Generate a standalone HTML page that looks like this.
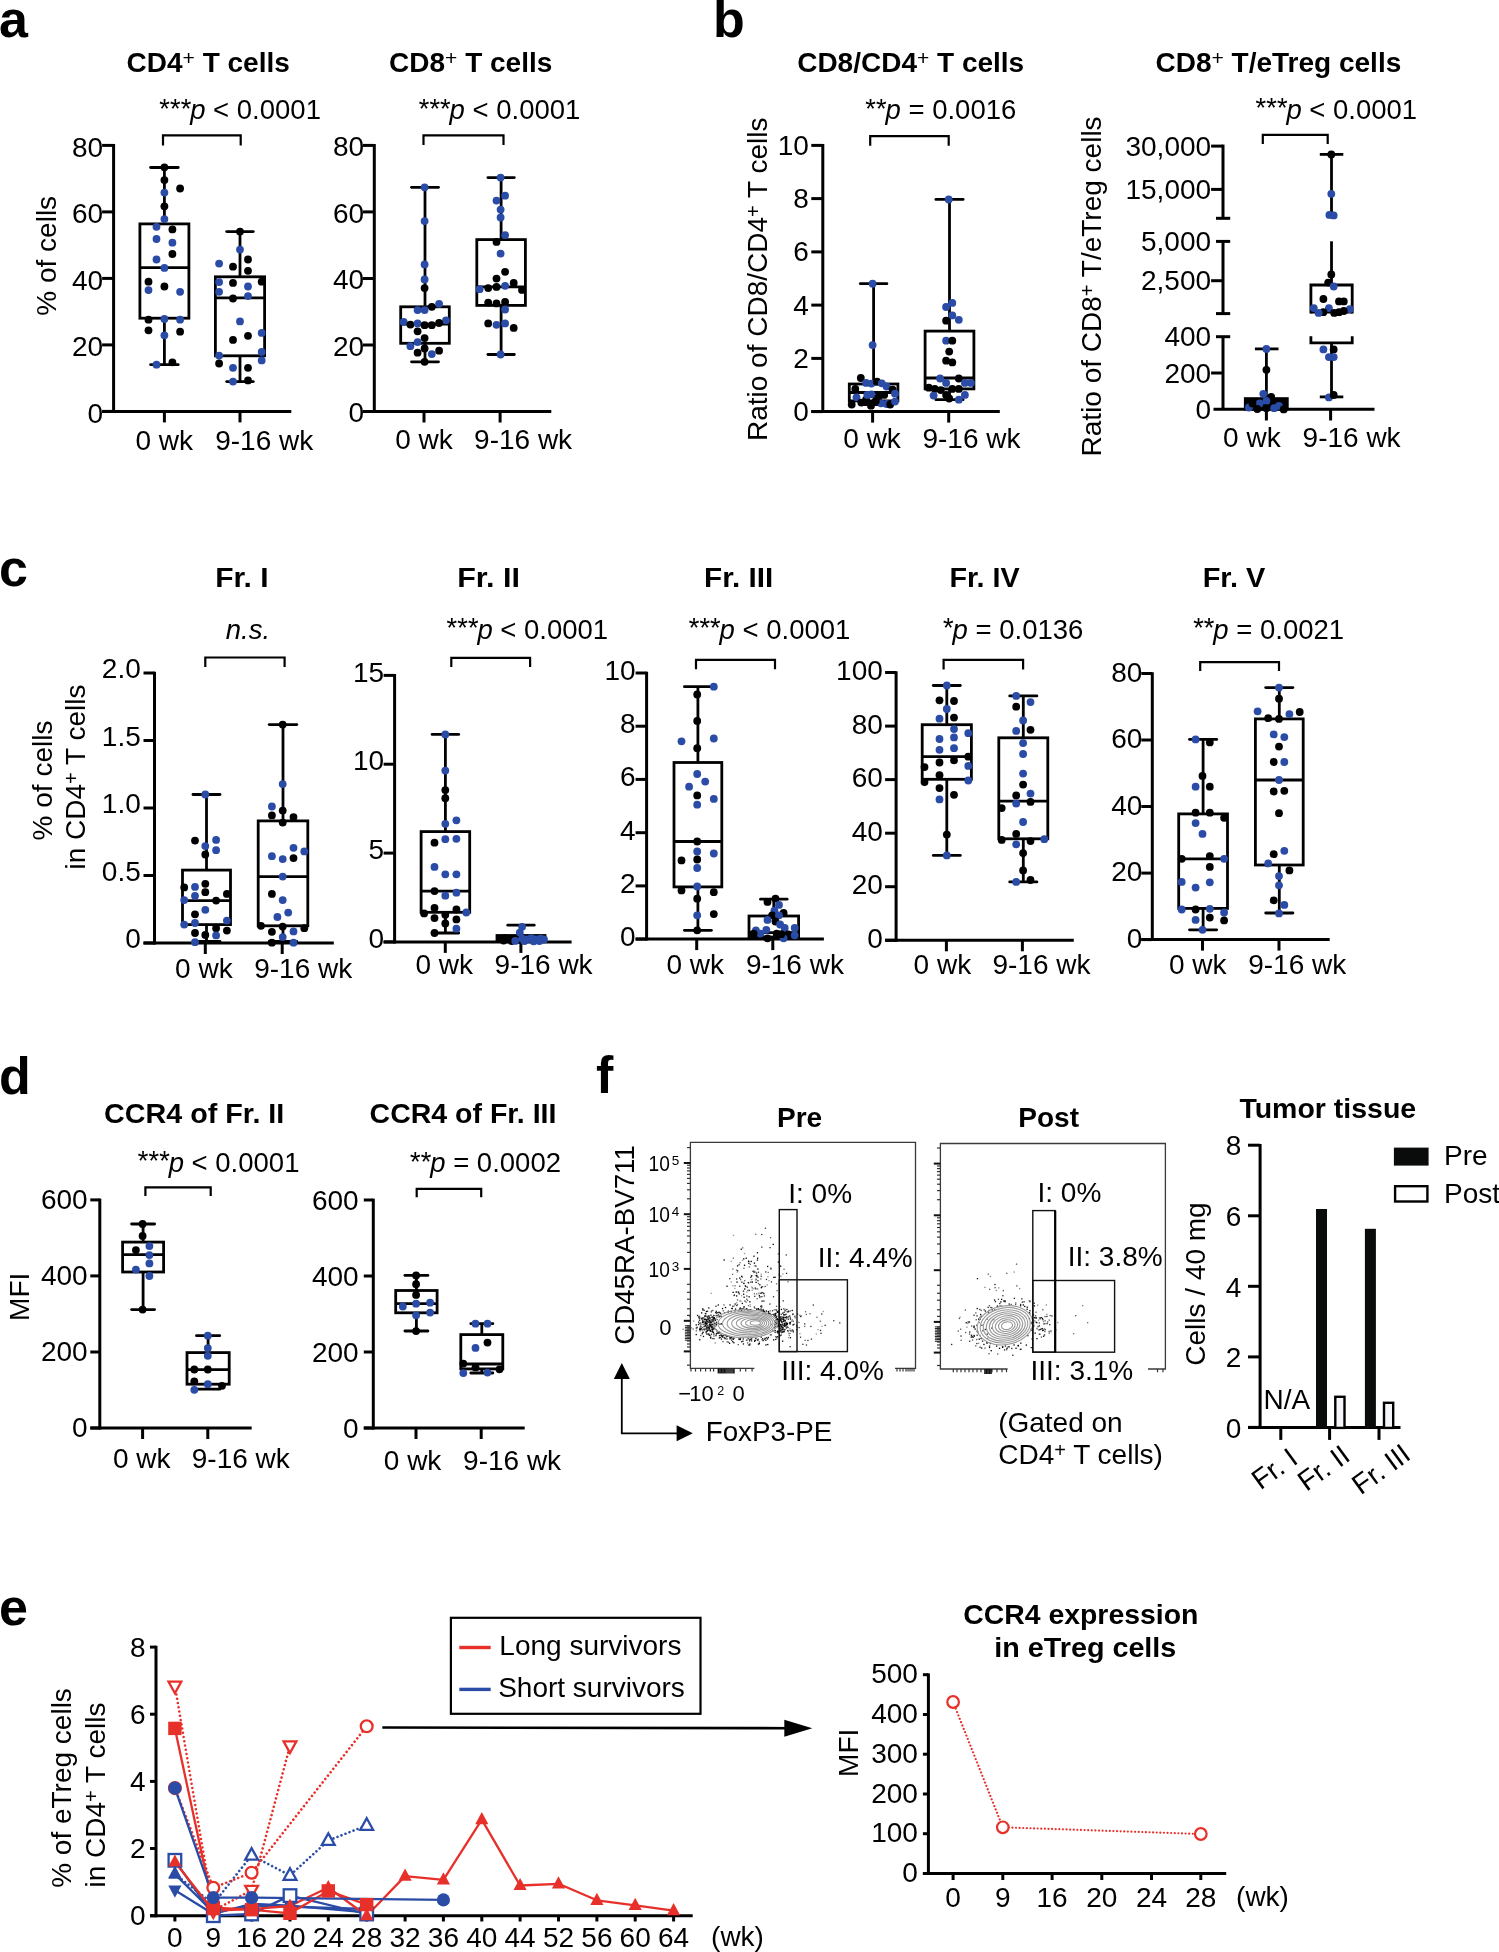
<!DOCTYPE html>
<html><head><meta charset="utf-8"><style>
html,body{margin:0;padding:0;background:#fff;}
svg{display:block;font-family:"Liberation Sans",sans-serif;will-change:transform;}
</style></head><body>
<svg width="1499" height="1952" viewBox="0 0 1499 1952">
<rect width="1499" height="1952" fill="#fff"/>
<text x="-1" y="37.3" font-size="52" text-anchor="start" font-weight="bold" fill="#000" >a</text>
<text x="713" y="37.3" font-size="52" text-anchor="start" font-weight="bold" fill="#000" >b</text>
<text x="-1" y="586" font-size="52" text-anchor="start" font-weight="bold" fill="#000" >c</text>
<text x="-1" y="1094" font-size="52" text-anchor="start" font-weight="bold" fill="#000" >d</text>
<text x="-1" y="1624.8" font-size="52" text-anchor="start" font-weight="bold" fill="#000" >e</text>
<text x="596" y="1093.4" font-size="52" text-anchor="start" font-weight="bold" fill="#000" >f</text>
<line x1="113.6" y1="144.1" x2="113.6" y2="412.9" stroke="#000" stroke-width="3.0" />
<line x1="102.1" y1="411.4" x2="291.3" y2="411.4" stroke="#000" stroke-width="3.0" />
<line x1="102.1" y1="145.4" x2="113.6" y2="145.4" stroke="#000" stroke-width="3.0" />
<text x="103.2" y="156.6" font-size="28" text-anchor="end" fill="#000" >80</text>
<line x1="102.1" y1="211.9" x2="113.6" y2="211.9" stroke="#000" stroke-width="3.0" />
<text x="103.2" y="223.1" font-size="28" text-anchor="end" fill="#000" >60</text>
<line x1="102.1" y1="278.4" x2="113.6" y2="278.4" stroke="#000" stroke-width="3.0" />
<text x="103.2" y="289.6" font-size="28" text-anchor="end" fill="#000" >40</text>
<line x1="102.1" y1="344.9" x2="113.6" y2="344.9" stroke="#000" stroke-width="3.0" />
<text x="103.2" y="356.1" font-size="28" text-anchor="end" fill="#000" >20</text>
<line x1="102.1" y1="411.4" x2="113.6" y2="411.4" stroke="#000" stroke-width="3.0" />
<text x="103.2" y="422.6" font-size="28" text-anchor="end" fill="#000" >0</text>
<line x1="164.4" y1="411.4" x2="164.4" y2="422.4" stroke="#000" stroke-width="3.0" />
<line x1="240" y1="411.4" x2="240" y2="422.4" stroke="#000" stroke-width="3.0" />
<text x="208.2" y="71.7" font-size="28" text-anchor="middle" font-weight="bold" fill="#000" >CD4<tspan font-size="21" font-weight="normal" dy="-6.6">+</tspan><tspan dy="6.6"> </tspan>T cells</text>
<text x="239.5" y="119.2" font-size="27.5" text-anchor="middle" fill="#000" ><tspan dy="-1.5" font-style="italic">***</tspan><tspan dy="1.5" font-style="italic">p</tspan> &lt; 0.0001</text>
<path d="M163 145.6 V135.3 H240.7 V145.6" fill="none" stroke="#000" stroke-width="2.2"/>
<text x="164.3" y="449.6" font-size="28" text-anchor="middle" fill="#000" >0 wk</text>
<text x="264.2" y="449.6" font-size="28" text-anchor="middle" fill="#000" >9-16 wk</text>
<text x="55.6" y="255.8" font-size="28" text-anchor="middle" transform="rotate(-90 55.6 255.8)" fill="#000" >% of cells</text>
<line x1="164.4" y1="167.5" x2="164.4" y2="223.9" stroke="#000" stroke-width="2.8" />
<line x1="164.4" y1="318.2" x2="164.4" y2="364.7" stroke="#000" stroke-width="2.8" />
<line x1="150.6" y1="167.5" x2="178.2" y2="167.5" stroke="#000" stroke-width="2.8" stroke-linecap="round"/>
<line x1="150.6" y1="364.7" x2="178.2" y2="364.7" stroke="#000" stroke-width="2.8" stroke-linecap="round"/>
<rect x="139.9" y="223.9" width="49" height="94.3" fill="none" stroke="#000" stroke-width="2.8"/>
<line x1="139.9" y1="267.7" x2="188.9" y2="267.7" stroke="#000" stroke-width="2.8" />
<line x1="240" y1="231.6" x2="240" y2="276.8" stroke="#000" stroke-width="2.8" />
<line x1="240" y1="355.8" x2="240" y2="381.6" stroke="#000" stroke-width="2.8" />
<line x1="226.7" y1="231.6" x2="253.3" y2="231.6" stroke="#000" stroke-width="2.8" stroke-linecap="round"/>
<line x1="226.7" y1="381.6" x2="253.3" y2="381.6" stroke="#000" stroke-width="2.8" stroke-linecap="round"/>
<rect x="215.4" y="276.8" width="49.2" height="79" fill="none" stroke="#000" stroke-width="2.8"/>
<line x1="215.4" y1="297.8" x2="264.6" y2="297.8" stroke="#000" stroke-width="2.8" />
<circle cx="164.4" cy="167.3" r="3.9" fill="#000" stroke="none" stroke-width="0"/>
<circle cx="164.4" cy="180.1" r="3.9" fill="#000" stroke="none" stroke-width="0"/>
<circle cx="180.1" cy="188.5" r="3.9" fill="#000" stroke="none" stroke-width="0"/>
<circle cx="164.4" cy="192.6" r="3.9" fill="#2a4ca6" stroke="none" stroke-width="0"/>
<circle cx="164.4" cy="206.3" r="3.9" fill="#000" stroke="none" stroke-width="0"/>
<circle cx="164.4" cy="219.1" r="3.9" fill="#2a4ca6" stroke="none" stroke-width="0"/>
<circle cx="156.5" cy="226.8" r="3.9" fill="#2a4ca6" stroke="none" stroke-width="0"/>
<circle cx="172.4" cy="229.4" r="3.9" fill="#000" stroke="none" stroke-width="0"/>
<circle cx="156.5" cy="239" r="3.9" fill="#2a4ca6" stroke="none" stroke-width="0"/>
<circle cx="172.4" cy="242.7" r="3.9" fill="#2a4ca6" stroke="none" stroke-width="0"/>
<circle cx="172.4" cy="254" r="3.9" fill="#000" stroke="none" stroke-width="0"/>
<circle cx="156.5" cy="259.5" r="3.9" fill="#2a4ca6" stroke="none" stroke-width="0"/>
<circle cx="164.4" cy="267.9" r="3.9" fill="#2a4ca6" stroke="none" stroke-width="0"/>
<circle cx="148.5" cy="281.7" r="3.9" fill="#000" stroke="none" stroke-width="0"/>
<circle cx="164.4" cy="286.5" r="3.9" fill="#000" stroke="none" stroke-width="0"/>
<circle cx="148.5" cy="290.1" r="3.9" fill="#2a4ca6" stroke="none" stroke-width="0"/>
<circle cx="180.1" cy="291.8" r="3.9" fill="#2a4ca6" stroke="none" stroke-width="0"/>
<circle cx="148.5" cy="319.7" r="3.9" fill="#000" stroke="none" stroke-width="0"/>
<circle cx="164.4" cy="319" r="3.9" fill="#2a4ca6" stroke="none" stroke-width="0"/>
<circle cx="180.1" cy="319.7" r="3.9" fill="#2a4ca6" stroke="none" stroke-width="0"/>
<circle cx="148.5" cy="330.3" r="3.9" fill="#000" stroke="none" stroke-width="0"/>
<circle cx="180.1" cy="331.7" r="3.9" fill="#000" stroke="none" stroke-width="0"/>
<circle cx="164.4" cy="335.3" r="3.9" fill="#2a4ca6" stroke="none" stroke-width="0"/>
<circle cx="156.5" cy="364.7" r="3.9" fill="#2a4ca6" stroke="none" stroke-width="0"/>
<circle cx="172.4" cy="362.3" r="3.9" fill="#000" stroke="none" stroke-width="0"/>
<circle cx="240" cy="231.6" r="3.9" fill="#000" stroke="none" stroke-width="0"/>
<circle cx="240" cy="249.6" r="3.9" fill="#2a4ca6" stroke="none" stroke-width="0"/>
<circle cx="219.1" cy="263.6" r="3.9" fill="#2a4ca6" stroke="none" stroke-width="0"/>
<circle cx="248" cy="259.5" r="3.9" fill="#000" stroke="none" stroke-width="0"/>
<circle cx="233" cy="266.7" r="3.9" fill="#000" stroke="none" stroke-width="0"/>
<circle cx="248" cy="270.8" r="3.9" fill="#000" stroke="none" stroke-width="0"/>
<circle cx="219.1" cy="282.1" r="3.9" fill="#2a4ca6" stroke="none" stroke-width="0"/>
<circle cx="233" cy="282.9" r="3.9" fill="#000" stroke="none" stroke-width="0"/>
<circle cx="261.7" cy="281.7" r="3.9" fill="#000" stroke="none" stroke-width="0"/>
<circle cx="219.1" cy="291.8" r="3.9" fill="#2a4ca6" stroke="none" stroke-width="0"/>
<circle cx="248" cy="286.5" r="3.9" fill="#2a4ca6" stroke="none" stroke-width="0"/>
<circle cx="248" cy="296.1" r="3.9" fill="#2a4ca6" stroke="none" stroke-width="0"/>
<circle cx="233" cy="298.5" r="3.9" fill="#000" stroke="none" stroke-width="0"/>
<circle cx="240" cy="321.4" r="3.9" fill="#2a4ca6" stroke="none" stroke-width="0"/>
<circle cx="261.7" cy="332.9" r="3.9" fill="#2a4ca6" stroke="none" stroke-width="0"/>
<circle cx="233" cy="339.9" r="3.9" fill="#000" stroke="none" stroke-width="0"/>
<circle cx="248" cy="335.8" r="3.9" fill="#000" stroke="none" stroke-width="0"/>
<circle cx="219.1" cy="355.6" r="3.9" fill="#2a4ca6" stroke="none" stroke-width="0"/>
<circle cx="261.7" cy="351.9" r="3.9" fill="#2a4ca6" stroke="none" stroke-width="0"/>
<circle cx="261.7" cy="360.4" r="3.9" fill="#2a4ca6" stroke="none" stroke-width="0"/>
<circle cx="219.1" cy="363.5" r="3.9" fill="#000" stroke="none" stroke-width="0"/>
<circle cx="233" cy="367.8" r="3.9" fill="#2a4ca6" stroke="none" stroke-width="0"/>
<circle cx="248" cy="367.8" r="3.9" fill="#000" stroke="none" stroke-width="0"/>
<circle cx="233" cy="381.6" r="3.9" fill="#2a4ca6" stroke="none" stroke-width="0"/>
<circle cx="248" cy="380.4" r="3.9" fill="#000" stroke="none" stroke-width="0"/>
<line x1="374.3" y1="144.1" x2="374.3" y2="413" stroke="#000" stroke-width="3.0" />
<line x1="362.8" y1="411.5" x2="551.3" y2="411.5" stroke="#000" stroke-width="3.0" />
<line x1="362.8" y1="145.4" x2="374.3" y2="145.4" stroke="#000" stroke-width="3.0" />
<text x="364.2" y="156" font-size="28" text-anchor="end" fill="#000" >80</text>
<line x1="362.8" y1="211.9" x2="374.3" y2="211.9" stroke="#000" stroke-width="3.0" />
<text x="364.2" y="222.5" font-size="28" text-anchor="end" fill="#000" >60</text>
<line x1="362.8" y1="278.5" x2="374.3" y2="278.5" stroke="#000" stroke-width="3.0" />
<text x="364.2" y="289.1" font-size="28" text-anchor="end" fill="#000" >40</text>
<line x1="362.8" y1="345" x2="374.3" y2="345" stroke="#000" stroke-width="3.0" />
<text x="364.2" y="355.6" font-size="28" text-anchor="end" fill="#000" >20</text>
<line x1="362.8" y1="411.5" x2="374.3" y2="411.5" stroke="#000" stroke-width="3.0" />
<text x="364.2" y="422.1" font-size="28" text-anchor="end" fill="#000" >0</text>
<line x1="424" y1="411.5" x2="424" y2="422.5" stroke="#000" stroke-width="3.0" />
<line x1="500.1" y1="411.5" x2="500.1" y2="422.5" stroke="#000" stroke-width="3.0" />
<text x="470.7" y="71.7" font-size="28" text-anchor="middle" font-weight="bold" fill="#000" >CD8<tspan font-size="21" font-weight="normal" dy="-6.6">+</tspan><tspan dy="6.6"> </tspan>T cells</text>
<text x="498.9" y="119.2" font-size="27.5" text-anchor="middle" fill="#000" ><tspan dy="-1.5" font-style="italic">***</tspan><tspan dy="1.5" font-style="italic">p</tspan> &lt; 0.0001</text>
<path d="M423.5 144.9 V135.3 H503.5 V144.9" fill="none" stroke="#000" stroke-width="2.2"/>
<text x="424" y="449.2" font-size="28" text-anchor="middle" fill="#000" >0 wk</text>
<text x="523.1" y="449.2" font-size="28" text-anchor="middle" fill="#000" >9-16 wk</text>
<line x1="425" y1="187.3" x2="425" y2="306.8" stroke="#000" stroke-width="2.8" />
<line x1="425" y1="343.3" x2="425" y2="361.8" stroke="#000" stroke-width="2.8" />
<line x1="411.5" y1="187.3" x2="438.5" y2="187.3" stroke="#000" stroke-width="2.8" stroke-linecap="round"/>
<line x1="411.5" y1="361.8" x2="438.5" y2="361.8" stroke="#000" stroke-width="2.8" stroke-linecap="round"/>
<rect x="400.7" y="306.8" width="48.6" height="36.5" fill="none" stroke="#000" stroke-width="2.8"/>
<line x1="400.7" y1="324.1" x2="449.3" y2="324.1" stroke="#000" stroke-width="2.8" />
<line x1="501.1" y1="177.6" x2="501.1" y2="239.6" stroke="#000" stroke-width="2.8" />
<line x1="501.1" y1="305.4" x2="501.1" y2="354.5" stroke="#000" stroke-width="2.8" />
<line x1="487.9" y1="177.6" x2="514.3" y2="177.6" stroke="#000" stroke-width="2.8" stroke-linecap="round"/>
<line x1="487.9" y1="354.5" x2="514.3" y2="354.5" stroke="#000" stroke-width="2.8" stroke-linecap="round"/>
<rect x="476.8" y="239.6" width="48.6" height="65.8" fill="none" stroke="#000" stroke-width="2.8"/>
<line x1="476.8" y1="286.9" x2="525.4" y2="286.9" stroke="#000" stroke-width="2.8" />
<circle cx="424.6" cy="187.3" r="3.9" fill="#2a4ca6" stroke="none" stroke-width="0"/>
<circle cx="424.6" cy="221.1" r="3.9" fill="#2a4ca6" stroke="none" stroke-width="0"/>
<circle cx="424.6" cy="264.4" r="3.9" fill="#2a4ca6" stroke="none" stroke-width="0"/>
<circle cx="424.6" cy="279.5" r="3.9" fill="#2a4ca6" stroke="none" stroke-width="0"/>
<circle cx="424.6" cy="288.1" r="3.9" fill="#000" stroke="none" stroke-width="0"/>
<circle cx="439.1" cy="303.8" r="3.9" fill="#2a4ca6" stroke="none" stroke-width="0"/>
<circle cx="431.8" cy="306.8" r="3.9" fill="#000" stroke="none" stroke-width="0"/>
<circle cx="417.6" cy="310.1" r="3.9" fill="#2a4ca6" stroke="none" stroke-width="0"/>
<circle cx="424.6" cy="310.1" r="3.9" fill="#2a4ca6" stroke="none" stroke-width="0"/>
<circle cx="403.7" cy="321.9" r="3.9" fill="#2a4ca6" stroke="none" stroke-width="0"/>
<circle cx="446" cy="320.3" r="3.9" fill="#2a4ca6" stroke="none" stroke-width="0"/>
<circle cx="410.4" cy="324.6" r="3.9" fill="#000" stroke="none" stroke-width="0"/>
<circle cx="417.6" cy="323.4" r="3.9" fill="#2a4ca6" stroke="none" stroke-width="0"/>
<circle cx="424.6" cy="325.2" r="3.9" fill="#000" stroke="none" stroke-width="0"/>
<circle cx="431.8" cy="325.2" r="3.9" fill="#000" stroke="none" stroke-width="0"/>
<circle cx="439.1" cy="323" r="3.9" fill="#000" stroke="none" stroke-width="0"/>
<circle cx="417.6" cy="331.3" r="3.9" fill="#000" stroke="none" stroke-width="0"/>
<circle cx="424.6" cy="338.1" r="3.9" fill="#000" stroke="none" stroke-width="0"/>
<circle cx="417.6" cy="342.1" r="3.9" fill="#2a4ca6" stroke="none" stroke-width="0"/>
<circle cx="410.4" cy="346.2" r="3.9" fill="#2a4ca6" stroke="none" stroke-width="0"/>
<circle cx="424.6" cy="348.5" r="3.9" fill="#000" stroke="none" stroke-width="0"/>
<circle cx="417.6" cy="352.7" r="3.9" fill="#000" stroke="none" stroke-width="0"/>
<circle cx="431.8" cy="354.1" r="3.9" fill="#2a4ca6" stroke="none" stroke-width="0"/>
<circle cx="439.1" cy="350.7" r="3.9" fill="#000" stroke="none" stroke-width="0"/>
<circle cx="424.6" cy="361.8" r="3.9" fill="#000" stroke="none" stroke-width="0"/>
<circle cx="500.6" cy="177.6" r="3.9" fill="#2a4ca6" stroke="none" stroke-width="0"/>
<circle cx="496.5" cy="200.6" r="3.9" fill="#2a4ca6" stroke="none" stroke-width="0"/>
<circle cx="505.1" cy="195.7" r="3.9" fill="#2a4ca6" stroke="none" stroke-width="0"/>
<circle cx="500.6" cy="209.6" r="3.9" fill="#2a4ca6" stroke="none" stroke-width="0"/>
<circle cx="500.6" cy="217.5" r="3.9" fill="#2a4ca6" stroke="none" stroke-width="0"/>
<circle cx="505.1" cy="235.1" r="3.9" fill="#2a4ca6" stroke="none" stroke-width="0"/>
<circle cx="496.5" cy="241.9" r="3.9" fill="#000" stroke="none" stroke-width="0"/>
<circle cx="500.6" cy="253.6" r="3.9" fill="#2a4ca6" stroke="none" stroke-width="0"/>
<circle cx="505.1" cy="271.8" r="3.9" fill="#000" stroke="none" stroke-width="0"/>
<circle cx="496.5" cy="278.6" r="3.9" fill="#000" stroke="none" stroke-width="0"/>
<circle cx="513.7" cy="282.9" r="3.9" fill="#000" stroke="none" stroke-width="0"/>
<circle cx="505.1" cy="285.8" r="3.9" fill="#2a4ca6" stroke="none" stroke-width="0"/>
<circle cx="479.6" cy="289.2" r="3.9" fill="#2a4ca6" stroke="none" stroke-width="0"/>
<circle cx="488.2" cy="288.1" r="3.9" fill="#000" stroke="none" stroke-width="0"/>
<circle cx="496.5" cy="286.9" r="3.9" fill="#000" stroke="none" stroke-width="0"/>
<circle cx="522" cy="289.9" r="3.9" fill="#000" stroke="none" stroke-width="0"/>
<circle cx="488.2" cy="302.7" r="3.9" fill="#000" stroke="none" stroke-width="0"/>
<circle cx="496.5" cy="303.4" r="3.9" fill="#000" stroke="none" stroke-width="0"/>
<circle cx="505.1" cy="302" r="3.9" fill="#000" stroke="none" stroke-width="0"/>
<circle cx="505.1" cy="309.5" r="3.9" fill="#2a4ca6" stroke="none" stroke-width="0"/>
<circle cx="488.2" cy="323.4" r="3.9" fill="#000" stroke="none" stroke-width="0"/>
<circle cx="496.5" cy="324.8" r="3.9" fill="#2a4ca6" stroke="none" stroke-width="0"/>
<circle cx="505.1" cy="323.4" r="3.9" fill="#2a4ca6" stroke="none" stroke-width="0"/>
<circle cx="513.7" cy="327.9" r="3.9" fill="#000" stroke="none" stroke-width="0"/>
<circle cx="500.6" cy="354.5" r="3.9" fill="#2a4ca6" stroke="none" stroke-width="0"/>
<line x1="822.8" y1="144.1" x2="822.8" y2="413.1" stroke="#000" stroke-width="3.0" />
<line x1="811.3" y1="411.6" x2="999.8" y2="411.6" stroke="#000" stroke-width="3.0" />
<line x1="811.3" y1="145.4" x2="822.8" y2="145.4" stroke="#000" stroke-width="3.0" />
<text x="808.8" y="154.8" font-size="28" text-anchor="end" fill="#000" >10</text>
<line x1="811.3" y1="198.6" x2="822.8" y2="198.6" stroke="#000" stroke-width="3.0" />
<text x="808.8" y="208" font-size="28" text-anchor="end" fill="#000" >8</text>
<line x1="811.3" y1="251.9" x2="822.8" y2="251.9" stroke="#000" stroke-width="3.0" />
<text x="808.8" y="261.3" font-size="28" text-anchor="end" fill="#000" >6</text>
<line x1="811.3" y1="305.1" x2="822.8" y2="305.1" stroke="#000" stroke-width="3.0" />
<text x="808.8" y="314.5" font-size="28" text-anchor="end" fill="#000" >4</text>
<line x1="811.3" y1="358.4" x2="822.8" y2="358.4" stroke="#000" stroke-width="3.0" />
<text x="808.8" y="367.8" font-size="28" text-anchor="end" fill="#000" >2</text>
<line x1="811.3" y1="411.6" x2="822.8" y2="411.6" stroke="#000" stroke-width="3.0" />
<text x="808.8" y="421" font-size="28" text-anchor="end" fill="#000" >0</text>
<line x1="872.6" y1="411.6" x2="872.6" y2="422.6" stroke="#000" stroke-width="3.0" />
<line x1="948.7" y1="411.6" x2="948.7" y2="422.6" stroke="#000" stroke-width="3.0" />
<text x="910.7" y="71.8" font-size="28" text-anchor="middle" font-weight="bold" fill="#000" >CD8/CD4<tspan font-size="21" font-weight="normal" dy="-6.6">+</tspan><tspan dy="6.6"> </tspan>T cells</text>
<text x="940.2" y="119.2" font-size="27.5" text-anchor="middle" fill="#000" ><tspan dy="-1.5" font-style="italic">**</tspan><tspan dy="1.5" font-style="italic">p</tspan> = 0.0016</text>
<path d="M870.2 145.7 V136.2 H948.7 V145.7" fill="none" stroke="#000" stroke-width="2.2"/>
<text x="872.1" y="447.9" font-size="28" text-anchor="middle" fill="#000" >0 wk</text>
<text x="971.5" y="447.9" font-size="28" text-anchor="middle" fill="#000" >9-16 wk</text>
<text x="767.4" y="279.3" font-size="28" text-anchor="middle" transform="rotate(-90 767.4 279.3)" fill="#000" >Ratio of CD8/CD4<tspan font-size="20" dy="-7">+</tspan><tspan dy="7"> </tspan>T cells</text>
<line x1="873.6" y1="283.7" x2="873.6" y2="384" stroke="#000" stroke-width="2.8" />
<line x1="873.6" y1="400.9" x2="873.6" y2="404.5" stroke="#000" stroke-width="2.8" />
<line x1="860.3" y1="283.7" x2="886.9" y2="283.7" stroke="#000" stroke-width="2.8" stroke-linecap="round"/>
<line x1="860.3" y1="404.5" x2="886.9" y2="404.5" stroke="#000" stroke-width="2.8" stroke-linecap="round"/>
<rect x="849.3" y="384" width="48.6" height="16.9" fill="none" stroke="#000" stroke-width="2.8"/>
<line x1="849.3" y1="392.5" x2="897.9" y2="392.5" stroke="#000" stroke-width="2.8" />
<line x1="949.5" y1="199.4" x2="949.5" y2="331.1" stroke="#000" stroke-width="2.8" />
<line x1="949.5" y1="388.9" x2="949.5" y2="399.7" stroke="#000" stroke-width="2.8" />
<line x1="935.9" y1="199.4" x2="963.1" y2="199.4" stroke="#000" stroke-width="2.8" stroke-linecap="round"/>
<line x1="935.9" y1="399.7" x2="963.1" y2="399.7" stroke="#000" stroke-width="2.8" stroke-linecap="round"/>
<rect x="925.1" y="331.1" width="48.8" height="57.8" fill="none" stroke="#000" stroke-width="2.8"/>
<line x1="925.1" y1="378" x2="973.9" y2="378" stroke="#000" stroke-width="2.8" />
<circle cx="872.6" cy="283.7" r="3.9" fill="#2a4ca6" stroke="none" stroke-width="0"/>
<circle cx="872.6" cy="345.1" r="3.9" fill="#2a4ca6" stroke="none" stroke-width="0"/>
<circle cx="860.8" cy="378" r="3.9" fill="#000" stroke="none" stroke-width="0"/>
<circle cx="866.1" cy="382.9" r="3.9" fill="#2a4ca6" stroke="none" stroke-width="0"/>
<circle cx="871.4" cy="383.6" r="3.9" fill="#2a4ca6" stroke="none" stroke-width="0"/>
<circle cx="877" cy="381.7" r="3.9" fill="#000" stroke="none" stroke-width="0"/>
<circle cx="881.8" cy="383.3" r="3.9" fill="#2a4ca6" stroke="none" stroke-width="0"/>
<circle cx="886.6" cy="386.5" r="3.9" fill="#2a4ca6" stroke="none" stroke-width="0"/>
<circle cx="855.3" cy="388.9" r="3.9" fill="#000" stroke="none" stroke-width="0"/>
<circle cx="892.6" cy="389.6" r="3.9" fill="#000" stroke="none" stroke-width="0"/>
<circle cx="895" cy="393.7" r="3.9" fill="#2a4ca6" stroke="none" stroke-width="0"/>
<circle cx="856.5" cy="397.3" r="3.9" fill="#2a4ca6" stroke="none" stroke-width="0"/>
<circle cx="871.4" cy="394.4" r="3.9" fill="#2a4ca6" stroke="none" stroke-width="0"/>
<circle cx="866.1" cy="399.7" r="3.9" fill="#000" stroke="none" stroke-width="0"/>
<circle cx="878.2" cy="397.3" r="3.9" fill="#000" stroke="none" stroke-width="0"/>
<circle cx="884.2" cy="394.9" r="3.9" fill="#000" stroke="none" stroke-width="0"/>
<circle cx="851.7" cy="404.5" r="3.9" fill="#000" stroke="none" stroke-width="0"/>
<circle cx="861.3" cy="402.6" r="3.9" fill="#000" stroke="none" stroke-width="0"/>
<circle cx="871" cy="405.7" r="3.9" fill="#000" stroke="none" stroke-width="0"/>
<circle cx="881.1" cy="403.3" r="3.9" fill="#2a4ca6" stroke="none" stroke-width="0"/>
<circle cx="886.6" cy="404" r="3.9" fill="#2a4ca6" stroke="none" stroke-width="0"/>
<circle cx="890.2" cy="404.5" r="3.9" fill="#000" stroke="none" stroke-width="0"/>
<circle cx="895" cy="401.6" r="3.9" fill="#2a4ca6" stroke="none" stroke-width="0"/>
<circle cx="875.8" cy="400.9" r="3.9" fill="#000" stroke="none" stroke-width="0"/>
<circle cx="867.3" cy="394.9" r="3.9" fill="#2a4ca6" stroke="none" stroke-width="0"/>
<circle cx="948.7" cy="199.4" r="3.9" fill="#2a4ca6" stroke="none" stroke-width="0"/>
<circle cx="952.3" cy="302.9" r="3.9" fill="#2a4ca6" stroke="none" stroke-width="0"/>
<circle cx="946.1" cy="307" r="3.9" fill="#2a4ca6" stroke="none" stroke-width="0"/>
<circle cx="952.3" cy="315.4" r="3.9" fill="#2a4ca6" stroke="none" stroke-width="0"/>
<circle cx="958.8" cy="319.8" r="3.9" fill="#2a4ca6" stroke="none" stroke-width="0"/>
<circle cx="946.1" cy="320.7" r="3.9" fill="#000" stroke="none" stroke-width="0"/>
<circle cx="946.1" cy="340.7" r="3.9" fill="#2a4ca6" stroke="none" stroke-width="0"/>
<circle cx="952.3" cy="340.7" r="3.9" fill="#000" stroke="none" stroke-width="0"/>
<circle cx="949.2" cy="351.6" r="3.9" fill="#000" stroke="none" stroke-width="0"/>
<circle cx="946.1" cy="360.7" r="3.9" fill="#000" stroke="none" stroke-width="0"/>
<circle cx="952.3" cy="362.4" r="3.9" fill="#000" stroke="none" stroke-width="0"/>
<circle cx="940.1" cy="378.5" r="3.9" fill="#2a4ca6" stroke="none" stroke-width="0"/>
<circle cx="958.8" cy="378.5" r="3.9" fill="#000" stroke="none" stroke-width="0"/>
<circle cx="946.1" cy="382.9" r="3.9" fill="#2a4ca6" stroke="none" stroke-width="0"/>
<circle cx="964.9" cy="382.9" r="3.9" fill="#2a4ca6" stroke="none" stroke-width="0"/>
<circle cx="970.9" cy="382.9" r="3.9" fill="#2a4ca6" stroke="none" stroke-width="0"/>
<circle cx="928.8" cy="387.7" r="3.9" fill="#000" stroke="none" stroke-width="0"/>
<circle cx="934.8" cy="388.9" r="3.9" fill="#000" stroke="none" stroke-width="0"/>
<circle cx="940.8" cy="390.1" r="3.9" fill="#000" stroke="none" stroke-width="0"/>
<circle cx="952.3" cy="388.9" r="3.9" fill="#000" stroke="none" stroke-width="0"/>
<circle cx="958.8" cy="388.9" r="3.9" fill="#000" stroke="none" stroke-width="0"/>
<circle cx="933.6" cy="395.6" r="3.9" fill="#2a4ca6" stroke="none" stroke-width="0"/>
<circle cx="946.1" cy="394.9" r="3.9" fill="#000" stroke="none" stroke-width="0"/>
<circle cx="964.9" cy="394.9" r="3.9" fill="#2a4ca6" stroke="none" stroke-width="0"/>
<circle cx="958.8" cy="399.7" r="3.9" fill="#2a4ca6" stroke="none" stroke-width="0"/>
<circle cx="949.2" cy="398.5" r="3.9" fill="#000" stroke="none" stroke-width="0"/>
<line x1="1223" y1="144.6" x2="1223" y2="218.3" stroke="#000" stroke-width="3.0" />
<line x1="1223" y1="241.4" x2="1223" y2="313.6" stroke="#000" stroke-width="3.0" />
<line x1="1223" y1="336.7" x2="1223" y2="409.2" stroke="#000" stroke-width="3.0" />
<line x1="1211.1" y1="146.1" x2="1223" y2="146.1" stroke="#000" stroke-width="3.0" />
<line x1="1211.1" y1="189.4" x2="1223" y2="189.4" stroke="#000" stroke-width="3.0" />
<line x1="1211.1" y1="280.7" x2="1223" y2="280.7" stroke="#000" stroke-width="3.0" />
<line x1="1211.1" y1="373" x2="1223" y2="373" stroke="#000" stroke-width="3.0" />
<text x="1211.1" y="155.7" font-size="28" text-anchor="end" fill="#000" >30,000</text>
<text x="1211.1" y="199" font-size="28" text-anchor="end" fill="#000" >15,000</text>
<text x="1211.1" y="251" font-size="28" text-anchor="end" fill="#000" >5,000</text>
<text x="1211.1" y="290.3" font-size="28" text-anchor="end" fill="#000" >2,500</text>
<text x="1211.1" y="346.3" font-size="28" text-anchor="end" fill="#000" >400</text>
<text x="1211.1" y="382.6" font-size="28" text-anchor="end" fill="#000" >200</text>
<text x="1211.1" y="418.8" font-size="28" text-anchor="end" fill="#000" >0</text>
<line x1="1216" y1="218.3" x2="1230.2" y2="218.3" stroke="#000" stroke-width="3.0" />
<line x1="1216" y1="241.4" x2="1230.2" y2="241.4" stroke="#000" stroke-width="3.0" />
<line x1="1216" y1="313.6" x2="1230.2" y2="313.6" stroke="#000" stroke-width="3.0" />
<line x1="1216" y1="336.7" x2="1230.2" y2="336.7" stroke="#000" stroke-width="3.0" />
<line x1="1213.5" y1="409.2" x2="1374.5" y2="409.2" stroke="#000" stroke-width="3.0" />
<line x1="1266.4" y1="409.2" x2="1266.4" y2="420.5" stroke="#000" stroke-width="3.0" />
<line x1="1330.6" y1="409.2" x2="1330.6" y2="420.5" stroke="#000" stroke-width="3.0" />
<text x="1278.4" y="72" font-size="28" text-anchor="middle" font-weight="bold" fill="#000" >CD8<tspan font-size="21" font-weight="normal" dy="-6.6">+</tspan><tspan dy="6.6"> </tspan>T/eTreg cells</text>
<text x="1335.7" y="118.9" font-size="27.5" text-anchor="middle" fill="#000" ><tspan dy="-1.5" font-style="italic">***</tspan><tspan dy="1.5" font-style="italic">p</tspan> &lt; 0.0001</text>
<path d="M1262.8 144.1 V134.8 H1327.7 V144.1" fill="none" stroke="#000" stroke-width="2.2"/>
<text x="1251.9" y="446.7" font-size="28" text-anchor="middle" fill="#000" >0 wk</text>
<text x="1351.6" y="446.7" font-size="28" text-anchor="middle" fill="#000" >9-16 wk</text>
<text x="1101" y="286.4" font-size="28" text-anchor="middle" transform="rotate(-90 1101 286.4)" fill="#000" >Ratio of CD8<tspan font-size="20" dy="-7">+</tspan><tspan dy="7"> </tspan>T/eTreg cells</text>
<line x1="1266.4" y1="348.9" x2="1266.4" y2="398.6" stroke="#000" stroke-width="2.8" />
<line x1="1254.9" y1="348.9" x2="1278.5" y2="348.9" stroke="#000" stroke-width="2.8" />
<rect x="1245.3" y="398.6" width="42" height="10.6" fill="#000" stroke="#000" stroke-width="2.8"/>
<line x1="1331.5" y1="154.4" x2="1331.5" y2="218.5" stroke="#000" stroke-width="2.8" />
<line x1="1319.8" y1="154.4" x2="1343.3" y2="154.4" stroke="#000" stroke-width="2.8" />
<line x1="1331.5" y1="241.3" x2="1331.5" y2="285" stroke="#000" stroke-width="2.8" />
<path d="M1310.9 313.4 V285 H1352.2 V313.4" fill="none" stroke="#000" stroke-width="2.8"/>
<path d="M1310.9 336.2 V342.9 H1352.2 V336.2" fill="none" stroke="#000" stroke-width="2.8"/>
<line x1="1331.5" y1="342.9" x2="1331.5" y2="396.9" stroke="#000" stroke-width="2.8" />
<line x1="1319.8" y1="396.9" x2="1343.3" y2="396.9" stroke="#000" stroke-width="2.8" />
<line x1="1310.9" y1="312" x2="1352.2" y2="312" stroke="#000" stroke-width="2.8" />
<circle cx="1266.4" cy="348.9" r="3.9" fill="#2a4ca6" stroke="none" stroke-width="0"/>
<circle cx="1266.4" cy="369.8" r="3.9" fill="#000" stroke="none" stroke-width="0"/>
<circle cx="1263.3" cy="393.8" r="3.9" fill="#2a4ca6" stroke="none" stroke-width="0"/>
<circle cx="1271.2" cy="397" r="3.9" fill="#000" stroke="none" stroke-width="0"/>
<circle cx="1259.7" cy="403.4" r="3.9" fill="#2a4ca6" stroke="none" stroke-width="0"/>
<circle cx="1266.4" cy="401" r="3.9" fill="#2a4ca6" stroke="none" stroke-width="0"/>
<circle cx="1257.3" cy="409" r="3.9" fill="#000" stroke="none" stroke-width="0"/>
<circle cx="1248.9" cy="407.5" r="3.9" fill="#2a4ca6" stroke="none" stroke-width="0"/>
<circle cx="1266.4" cy="408.2" r="3.9" fill="#000" stroke="none" stroke-width="0"/>
<circle cx="1274.1" cy="408.2" r="3.9" fill="#2a4ca6" stroke="none" stroke-width="0"/>
<circle cx="1278.9" cy="405.8" r="3.9" fill="#2a4ca6" stroke="none" stroke-width="0"/>
<circle cx="1283.7" cy="409.4" r="3.9" fill="#000" stroke="none" stroke-width="0"/>
<circle cx="1252.5" cy="403.4" r="3.9" fill="#000" stroke="none" stroke-width="0"/>
<circle cx="1331.3" cy="154.4" r="3.9" fill="#000" stroke="none" stroke-width="0"/>
<circle cx="1331.3" cy="193.8" r="3.9" fill="#2a4ca6" stroke="none" stroke-width="0"/>
<circle cx="1329.4" cy="214.9" r="3.9" fill="#2a4ca6" stroke="none" stroke-width="0"/>
<circle cx="1333.7" cy="215.4" r="3.9" fill="#2a4ca6" stroke="none" stroke-width="0"/>
<circle cx="1331.3" cy="274.5" r="3.9" fill="#000" stroke="none" stroke-width="0"/>
<circle cx="1328.2" cy="282.6" r="3.9" fill="#000" stroke="none" stroke-width="0"/>
<circle cx="1333.7" cy="286.5" r="3.9" fill="#2a4ca6" stroke="none" stroke-width="0"/>
<circle cx="1323.4" cy="299" r="3.9" fill="#000" stroke="none" stroke-width="0"/>
<circle cx="1339" cy="301.4" r="3.9" fill="#000" stroke="none" stroke-width="0"/>
<circle cx="1343.8" cy="301.4" r="3.9" fill="#000" stroke="none" stroke-width="0"/>
<circle cx="1313.8" cy="308.1" r="3.9" fill="#2a4ca6" stroke="none" stroke-width="0"/>
<circle cx="1328.9" cy="308.1" r="3.9" fill="#2a4ca6" stroke="none" stroke-width="0"/>
<circle cx="1349.8" cy="309.1" r="3.9" fill="#2a4ca6" stroke="none" stroke-width="0"/>
<circle cx="1323.4" cy="312.2" r="3.9" fill="#000" stroke="none" stroke-width="0"/>
<circle cx="1334.2" cy="312.9" r="3.9" fill="#000" stroke="none" stroke-width="0"/>
<circle cx="1339" cy="312.2" r="3.9" fill="#000" stroke="none" stroke-width="0"/>
<circle cx="1343.8" cy="311" r="3.9" fill="#000" stroke="none" stroke-width="0"/>
<circle cx="1318.6" cy="312.9" r="3.9" fill="#2a4ca6" stroke="none" stroke-width="0"/>
<circle cx="1323.4" cy="349.4" r="3.9" fill="#2a4ca6" stroke="none" stroke-width="0"/>
<circle cx="1333.7" cy="349.4" r="3.9" fill="#000" stroke="none" stroke-width="0"/>
<circle cx="1328.9" cy="357.1" r="3.9" fill="#2a4ca6" stroke="none" stroke-width="0"/>
<circle cx="1333.7" cy="357.1" r="3.9" fill="#2a4ca6" stroke="none" stroke-width="0"/>
<circle cx="1328.9" cy="397.4" r="3.9" fill="#2a4ca6" stroke="none" stroke-width="0"/>
<circle cx="1333.7" cy="395" r="3.9" fill="#000" stroke="none" stroke-width="0"/>
<line x1="154.5" y1="671.7" x2="154.5" y2="944.5" stroke="#000" stroke-width="3.0" />
<line x1="143.5" y1="943" x2="333.8" y2="943" stroke="#000" stroke-width="3.0" />
<line x1="143.5" y1="673" x2="154.5" y2="673" stroke="#000" stroke-width="3.0" />
<text x="140.8" y="678.2" font-size="28" text-anchor="end" fill="#000" >2.0</text>
<line x1="143.5" y1="740.5" x2="154.5" y2="740.5" stroke="#000" stroke-width="3.0" />
<text x="140.8" y="745.7" font-size="28" text-anchor="end" fill="#000" >1.5</text>
<line x1="143.5" y1="808" x2="154.5" y2="808" stroke="#000" stroke-width="3.0" />
<text x="140.8" y="813.2" font-size="28" text-anchor="end" fill="#000" >1.0</text>
<line x1="143.5" y1="875.5" x2="154.5" y2="875.5" stroke="#000" stroke-width="3.0" />
<text x="140.8" y="880.7" font-size="28" text-anchor="end" fill="#000" >0.5</text>
<line x1="143.5" y1="943" x2="154.5" y2="943" stroke="#000" stroke-width="3.0" />
<text x="140.8" y="948.2" font-size="28" text-anchor="end" fill="#000" >0</text>
<line x1="205.3" y1="943" x2="205.3" y2="954" stroke="#000" stroke-width="3.0" />
<line x1="282.2" y1="943" x2="282.2" y2="954" stroke="#000" stroke-width="3.0" />
<text x="241.9" y="587.2" font-size="28" text-anchor="middle" font-weight="bold" textLength="53.3" lengthAdjust="spacingAndGlyphs" fill="#000" >Fr. I</text>
<text x="248" y="638.9" font-size="27.5" text-anchor="middle" font-style="italic" fill="#000" >n.s.</text>
<path d="M205.3 667 V657.5 H284.6 V667" fill="none" stroke="#000" stroke-width="2.2"/>
<text x="203.9" y="977.5" font-size="28" text-anchor="middle" fill="#000" >0 wk</text>
<text x="303.2" y="977.5" font-size="28" text-anchor="middle" fill="#000" >9-16 wk</text>
<text x="51.6" y="780.5" font-size="28" text-anchor="middle" transform="rotate(-90 51.6 780.5)" fill="#000" >% of cells</text>
<text x="85.2" y="777" font-size="28" text-anchor="middle" transform="rotate(-90 85.2 777)" fill="#000" >in CD4<tspan font-size="20" dy="-7">+</tspan><tspan dy="7"> </tspan>T cells</text>
<line x1="206.5" y1="794.5" x2="206.5" y2="870.1" stroke="#000" stroke-width="2.8" />
<line x1="206.5" y1="924.6" x2="206.5" y2="941.5" stroke="#000" stroke-width="2.8" />
<line x1="193" y1="794.5" x2="220" y2="794.5" stroke="#000" stroke-width="2.8" stroke-linecap="round"/>
<line x1="193" y1="941.5" x2="220" y2="941.5" stroke="#000" stroke-width="2.8" stroke-linecap="round"/>
<rect x="182.5" y="870.1" width="48" height="54.5" fill="none" stroke="#000" stroke-width="2.8"/>
<line x1="182.5" y1="900.6" x2="230.5" y2="900.6" stroke="#000" stroke-width="2.8" />
<line x1="283" y1="724.6" x2="283" y2="820.9" stroke="#000" stroke-width="2.8" />
<line x1="283" y1="925.8" x2="283" y2="941.5" stroke="#000" stroke-width="2.8" />
<line x1="269.2" y1="724.6" x2="296.8" y2="724.6" stroke="#000" stroke-width="2.8" stroke-linecap="round"/>
<line x1="269.2" y1="941.5" x2="296.8" y2="941.5" stroke="#000" stroke-width="2.8" stroke-linecap="round"/>
<rect x="258.2" y="820.9" width="49.6" height="104.9" fill="none" stroke="#000" stroke-width="2.8"/>
<line x1="258.2" y1="876.6" x2="307.8" y2="876.6" stroke="#000" stroke-width="2.8" />
<circle cx="205.3" cy="794.5" r="3.9" fill="#2a4ca6" stroke="none" stroke-width="0"/>
<circle cx="195" cy="840.6" r="3.9" fill="#000" stroke="none" stroke-width="0"/>
<circle cx="216.1" cy="839.9" r="3.9" fill="#2a4ca6" stroke="none" stroke-width="0"/>
<circle cx="205.3" cy="846.1" r="3.9" fill="#2a4ca6" stroke="none" stroke-width="0"/>
<circle cx="216.1" cy="850.2" r="3.9" fill="#2a4ca6" stroke="none" stroke-width="0"/>
<circle cx="205.3" cy="854.5" r="3.9" fill="#000" stroke="none" stroke-width="0"/>
<circle cx="184.2" cy="887.4" r="3.9" fill="#000" stroke="none" stroke-width="0"/>
<circle cx="195" cy="886.9" r="3.9" fill="#2a4ca6" stroke="none" stroke-width="0"/>
<circle cx="205.3" cy="883.8" r="3.9" fill="#000" stroke="none" stroke-width="0"/>
<circle cx="205.3" cy="892.2" r="3.9" fill="#000" stroke="none" stroke-width="0"/>
<circle cx="226.9" cy="893.9" r="3.9" fill="#000" stroke="none" stroke-width="0"/>
<circle cx="195" cy="895.8" r="3.9" fill="#2a4ca6" stroke="none" stroke-width="0"/>
<circle cx="184.2" cy="900.1" r="3.9" fill="#2a4ca6" stroke="none" stroke-width="0"/>
<circle cx="216.1" cy="900.6" r="3.9" fill="#000" stroke="none" stroke-width="0"/>
<circle cx="205.3" cy="909.8" r="3.9" fill="#2a4ca6" stroke="none" stroke-width="0"/>
<circle cx="195" cy="914.3" r="3.9" fill="#000" stroke="none" stroke-width="0"/>
<circle cx="226.9" cy="920.6" r="3.9" fill="#2a4ca6" stroke="none" stroke-width="0"/>
<circle cx="184.2" cy="924.6" r="3.9" fill="#2a4ca6" stroke="none" stroke-width="0"/>
<circle cx="195" cy="923" r="3.9" fill="#2a4ca6" stroke="none" stroke-width="0"/>
<circle cx="216.1" cy="928.2" r="3.9" fill="#000" stroke="none" stroke-width="0"/>
<circle cx="226.9" cy="930.6" r="3.9" fill="#000" stroke="none" stroke-width="0"/>
<circle cx="195" cy="933" r="3.9" fill="#000" stroke="none" stroke-width="0"/>
<circle cx="205.3" cy="935" r="3.9" fill="#000" stroke="none" stroke-width="0"/>
<circle cx="216.1" cy="935.4" r="3.9" fill="#2a4ca6" stroke="none" stroke-width="0"/>
<circle cx="195" cy="942.2" r="3.9" fill="#2a4ca6" stroke="none" stroke-width="0"/>
<circle cx="282.7" cy="724.6" r="3.9" fill="#000" stroke="none" stroke-width="0"/>
<circle cx="282.7" cy="784.1" r="3.9" fill="#2a4ca6" stroke="none" stroke-width="0"/>
<circle cx="271.9" cy="806.5" r="3.9" fill="#2a4ca6" stroke="none" stroke-width="0"/>
<circle cx="282.7" cy="810.6" r="3.9" fill="#000" stroke="none" stroke-width="0"/>
<circle cx="271.9" cy="815.4" r="3.9" fill="#000" stroke="none" stroke-width="0"/>
<circle cx="293.5" cy="817.1" r="3.9" fill="#000" stroke="none" stroke-width="0"/>
<circle cx="282.7" cy="822.6" r="3.9" fill="#000" stroke="none" stroke-width="0"/>
<circle cx="293.5" cy="847.8" r="3.9" fill="#2a4ca6" stroke="none" stroke-width="0"/>
<circle cx="304.3" cy="851.4" r="3.9" fill="#2a4ca6" stroke="none" stroke-width="0"/>
<circle cx="271.9" cy="856.2" r="3.9" fill="#2a4ca6" stroke="none" stroke-width="0"/>
<circle cx="282.7" cy="859.1" r="3.9" fill="#2a4ca6" stroke="none" stroke-width="0"/>
<circle cx="293.5" cy="858.1" r="3.9" fill="#000" stroke="none" stroke-width="0"/>
<circle cx="282.7" cy="876.6" r="3.9" fill="#2a4ca6" stroke="none" stroke-width="0"/>
<circle cx="271.9" cy="893.9" r="3.9" fill="#000" stroke="none" stroke-width="0"/>
<circle cx="282.7" cy="900.1" r="3.9" fill="#2a4ca6" stroke="none" stroke-width="0"/>
<circle cx="288.2" cy="912.6" r="3.9" fill="#2a4ca6" stroke="none" stroke-width="0"/>
<circle cx="277.4" cy="917" r="3.9" fill="#2a4ca6" stroke="none" stroke-width="0"/>
<circle cx="261" cy="925.8" r="3.9" fill="#000" stroke="none" stroke-width="0"/>
<circle cx="282.7" cy="926.6" r="3.9" fill="#000" stroke="none" stroke-width="0"/>
<circle cx="304.3" cy="928.2" r="3.9" fill="#000" stroke="none" stroke-width="0"/>
<circle cx="271.9" cy="931.8" r="3.9" fill="#000" stroke="none" stroke-width="0"/>
<circle cx="293.5" cy="931.4" r="3.9" fill="#2a4ca6" stroke="none" stroke-width="0"/>
<circle cx="282.7" cy="937.1" r="3.9" fill="#2a4ca6" stroke="none" stroke-width="0"/>
<circle cx="271.9" cy="942.7" r="3.9" fill="#000" stroke="none" stroke-width="0"/>
<circle cx="293.5" cy="942.7" r="3.9" fill="#2a4ca6" stroke="none" stroke-width="0"/>
<line x1="394.6" y1="674.1" x2="394.6" y2="943.4" stroke="#000" stroke-width="3.0" />
<line x1="383.6" y1="941.9" x2="571.6" y2="941.9" stroke="#000" stroke-width="3.0" />
<line x1="383.6" y1="675.4" x2="394.6" y2="675.4" stroke="#000" stroke-width="3.0" />
<text x="384.2" y="681.6" font-size="28" text-anchor="end" fill="#000" >15</text>
<line x1="383.6" y1="764.2" x2="394.6" y2="764.2" stroke="#000" stroke-width="3.0" />
<text x="384.2" y="770.4" font-size="28" text-anchor="end" fill="#000" >10</text>
<line x1="383.6" y1="853.1" x2="394.6" y2="853.1" stroke="#000" stroke-width="3.0" />
<text x="384.2" y="859.3" font-size="28" text-anchor="end" fill="#000" >5</text>
<line x1="383.6" y1="941.9" x2="394.6" y2="941.9" stroke="#000" stroke-width="3.0" />
<text x="384.2" y="948.1" font-size="28" text-anchor="end" fill="#000" >0</text>
<line x1="445.3" y1="941.9" x2="445.3" y2="952.9" stroke="#000" stroke-width="3.0" />
<line x1="520.9" y1="941.9" x2="520.9" y2="952.9" stroke="#000" stroke-width="3.0" />
<text x="488.6" y="586.9" font-size="28" text-anchor="middle" font-weight="bold" textLength="62.7" lengthAdjust="spacingAndGlyphs" fill="#000" >Fr. II</text>
<text x="526.7" y="638.7" font-size="27.5" text-anchor="middle" fill="#000" ><tspan dy="-1.5" font-style="italic">***</tspan><tspan dy="1.5" font-style="italic">p</tspan> &lt; 0.0001</text>
<path d="M451.3 667.1 V657.8 H530.1 V667.1" fill="none" stroke="#000" stroke-width="2.2"/>
<text x="444.2" y="974.1" font-size="28" text-anchor="middle" fill="#000" >0 wk</text>
<text x="543.6" y="974.1" font-size="28" text-anchor="middle" fill="#000" >9-16 wk</text>
<line x1="445.4" y1="734.4" x2="445.4" y2="831.6" stroke="#000" stroke-width="2.8" />
<line x1="445.4" y1="912.3" x2="445.4" y2="933" stroke="#000" stroke-width="2.8" />
<line x1="432.1" y1="734.4" x2="458.7" y2="734.4" stroke="#000" stroke-width="2.8" stroke-linecap="round"/>
<line x1="432.1" y1="933" x2="458.7" y2="933" stroke="#000" stroke-width="2.8" stroke-linecap="round"/>
<rect x="421.1" y="831.6" width="48.6" height="80.7" fill="none" stroke="#000" stroke-width="2.8"/>
<line x1="421.1" y1="891.1" x2="469.7" y2="891.1" stroke="#000" stroke-width="2.8" />
<line x1="521" y1="925.2" x2="521" y2="935.5" stroke="#000" stroke-width="2.8" />
<line x1="521" y1="940" x2="521" y2="940.5" stroke="#000" stroke-width="2.8" />
<line x1="507.8" y1="925.2" x2="534.2" y2="925.2" stroke="#000" stroke-width="2.8" stroke-linecap="round"/>
<line x1="507.8" y1="940.5" x2="534.2" y2="940.5" stroke="#000" stroke-width="2.8" stroke-linecap="round"/>
<rect x="497" y="935.5" width="48" height="4.5" fill="none" stroke="#000" stroke-width="2.8"/>
<line x1="497" y1="938.5" x2="545" y2="938.5" stroke="#000" stroke-width="2.8" />
<circle cx="445.3" cy="734.4" r="3.9" fill="#2a4ca6" stroke="none" stroke-width="0"/>
<circle cx="445.3" cy="770.6" r="3.9" fill="#2a4ca6" stroke="none" stroke-width="0"/>
<circle cx="445.3" cy="790.1" r="3.9" fill="#000" stroke="none" stroke-width="0"/>
<circle cx="445.3" cy="798.2" r="3.9" fill="#000" stroke="none" stroke-width="0"/>
<circle cx="445.3" cy="823.8" r="3.9" fill="#2a4ca6" stroke="none" stroke-width="0"/>
<circle cx="456.4" cy="820.3" r="3.9" fill="#2a4ca6" stroke="none" stroke-width="0"/>
<circle cx="445.3" cy="839.2" r="3.9" fill="#2a4ca6" stroke="none" stroke-width="0"/>
<circle cx="456.4" cy="838.8" r="3.9" fill="#2a4ca6" stroke="none" stroke-width="0"/>
<circle cx="434.5" cy="842.7" r="3.9" fill="#000" stroke="none" stroke-width="0"/>
<circle cx="434.5" cy="866.9" r="3.9" fill="#2a4ca6" stroke="none" stroke-width="0"/>
<circle cx="445.3" cy="874.3" r="3.9" fill="#2a4ca6" stroke="none" stroke-width="0"/>
<circle cx="456.4" cy="874.3" r="3.9" fill="#2a4ca6" stroke="none" stroke-width="0"/>
<circle cx="434.5" cy="891.1" r="3.9" fill="#000" stroke="none" stroke-width="0"/>
<circle cx="456.4" cy="892.7" r="3.9" fill="#2a4ca6" stroke="none" stroke-width="0"/>
<circle cx="445.3" cy="895.7" r="3.9" fill="#2a4ca6" stroke="none" stroke-width="0"/>
<circle cx="434.5" cy="907.9" r="3.9" fill="#000" stroke="none" stroke-width="0"/>
<circle cx="456.4" cy="909.5" r="3.9" fill="#000" stroke="none" stroke-width="0"/>
<circle cx="424.1" cy="913.4" r="3.9" fill="#000" stroke="none" stroke-width="0"/>
<circle cx="445.3" cy="914.8" r="3.9" fill="#000" stroke="none" stroke-width="0"/>
<circle cx="466.3" cy="912.5" r="3.9" fill="#2a4ca6" stroke="none" stroke-width="0"/>
<circle cx="434.5" cy="918.1" r="3.9" fill="#000" stroke="none" stroke-width="0"/>
<circle cx="456.4" cy="919.4" r="3.9" fill="#000" stroke="none" stroke-width="0"/>
<circle cx="445.3" cy="923.4" r="3.9" fill="#000" stroke="none" stroke-width="0"/>
<circle cx="456.4" cy="928.7" r="3.9" fill="#2a4ca6" stroke="none" stroke-width="0"/>
<circle cx="434.5" cy="933" r="3.9" fill="#000" stroke="none" stroke-width="0"/>
<circle cx="522.1" cy="926.8" r="3.9" fill="#2a4ca6" stroke="none" stroke-width="0"/>
<circle cx="519.8" cy="932.6" r="3.9" fill="#2a4ca6" stroke="none" stroke-width="0"/>
<circle cx="500.2" cy="939" r="3.9" fill="#000" stroke="none" stroke-width="0"/>
<circle cx="504.8" cy="938.1" r="3.9" fill="#000" stroke="none" stroke-width="0"/>
<circle cx="509.4" cy="939.5" r="3.9" fill="#000" stroke="none" stroke-width="0"/>
<circle cx="514" cy="938.6" r="3.9" fill="#000" stroke="none" stroke-width="0"/>
<circle cx="517.5" cy="940" r="3.9" fill="#000" stroke="none" stroke-width="0"/>
<circle cx="503.6" cy="940.6" r="3.9" fill="#000" stroke="none" stroke-width="0"/>
<circle cx="511.7" cy="941.1" r="3.9" fill="#000" stroke="none" stroke-width="0"/>
<circle cx="522.1" cy="938.6" r="3.9" fill="#2a4ca6" stroke="none" stroke-width="0"/>
<circle cx="526.7" cy="939.5" r="3.9" fill="#2a4ca6" stroke="none" stroke-width="0"/>
<circle cx="531.3" cy="938.1" r="3.9" fill="#2a4ca6" stroke="none" stroke-width="0"/>
<circle cx="535.9" cy="939.5" r="3.9" fill="#2a4ca6" stroke="none" stroke-width="0"/>
<circle cx="540.5" cy="938.6" r="3.9" fill="#2a4ca6" stroke="none" stroke-width="0"/>
<circle cx="544" cy="939.5" r="3.9" fill="#2a4ca6" stroke="none" stroke-width="0"/>
<circle cx="533.6" cy="941.3" r="3.9" fill="#2a4ca6" stroke="none" stroke-width="0"/>
<circle cx="539.4" cy="941.1" r="3.9" fill="#2a4ca6" stroke="none" stroke-width="0"/>
<circle cx="524.4" cy="941.1" r="3.9" fill="#2a4ca6" stroke="none" stroke-width="0"/>
<circle cx="515.2" cy="940.9" r="3.9" fill="#2a4ca6" stroke="none" stroke-width="0"/>
<line x1="646.6" y1="671.7" x2="646.6" y2="940.6" stroke="#000" stroke-width="3.0" />
<line x1="635.6" y1="939.1" x2="823.9" y2="939.1" stroke="#000" stroke-width="3.0" />
<line x1="635.6" y1="673" x2="646.6" y2="673" stroke="#000" stroke-width="3.0" />
<text x="635.6" y="679.8" font-size="28" text-anchor="end" fill="#000" >10</text>
<line x1="635.6" y1="726.2" x2="646.6" y2="726.2" stroke="#000" stroke-width="3.0" />
<text x="635.6" y="733" font-size="28" text-anchor="end" fill="#000" >8</text>
<line x1="635.6" y1="779.4" x2="646.6" y2="779.4" stroke="#000" stroke-width="3.0" />
<text x="635.6" y="786.2" font-size="28" text-anchor="end" fill="#000" >6</text>
<line x1="635.6" y1="832.7" x2="646.6" y2="832.7" stroke="#000" stroke-width="3.0" />
<text x="635.6" y="839.5" font-size="28" text-anchor="end" fill="#000" >4</text>
<line x1="635.6" y1="885.9" x2="646.6" y2="885.9" stroke="#000" stroke-width="3.0" />
<text x="635.6" y="892.7" font-size="28" text-anchor="end" fill="#000" >2</text>
<line x1="635.6" y1="939.1" x2="646.6" y2="939.1" stroke="#000" stroke-width="3.0" />
<text x="635.6" y="945.9" font-size="28" text-anchor="end" fill="#000" >0</text>
<line x1="696.7" y1="939.1" x2="696.7" y2="950.1" stroke="#000" stroke-width="3.0" />
<line x1="772.8" y1="939.1" x2="772.8" y2="950.1" stroke="#000" stroke-width="3.0" />
<text x="738.6" y="586.9" font-size="28" text-anchor="middle" font-weight="bold" textLength="69.1" lengthAdjust="spacingAndGlyphs" fill="#000" >Fr. III</text>
<text x="768.9" y="638.7" font-size="27.5" text-anchor="middle" fill="#000" ><tspan dy="-1.5" font-style="italic">***</tspan><tspan dy="1.5" font-style="italic">p</tspan> &lt; 0.0001</text>
<path d="M696 669.2 V659.8 H775 V669.2" fill="none" stroke="#000" stroke-width="2.2"/>
<text x="695.2" y="974.1" font-size="28" text-anchor="middle" fill="#000" >0 wk</text>
<text x="794.9" y="974.1" font-size="28" text-anchor="middle" fill="#000" >9-16 wk</text>
<line x1="697.9" y1="686.7" x2="697.9" y2="762.5" stroke="#000" stroke-width="2.8" />
<line x1="697.9" y1="886.9" x2="697.9" y2="930.3" stroke="#000" stroke-width="2.8" />
<line x1="684.4" y1="686.7" x2="711.4" y2="686.7" stroke="#000" stroke-width="2.8" stroke-linecap="round"/>
<line x1="684.4" y1="930.3" x2="711.4" y2="930.3" stroke="#000" stroke-width="2.8" stroke-linecap="round"/>
<rect x="674" y="762.5" width="47.8" height="124.4" fill="none" stroke="#000" stroke-width="2.8"/>
<line x1="674" y1="841.5" x2="721.8" y2="841.5" stroke="#000" stroke-width="2.8" />
<line x1="773.8" y1="899.2" x2="773.8" y2="916" stroke="#000" stroke-width="2.8" />
<line x1="773.8" y1="937.2" x2="773.8" y2="937.2" stroke="#000" stroke-width="2.8" />
<line x1="760.5" y1="899.2" x2="787.1" y2="899.2" stroke="#000" stroke-width="2.8" stroke-linecap="round"/>
<line x1="760.5" y1="937.2" x2="787.1" y2="937.2" stroke="#000" stroke-width="2.8" stroke-linecap="round"/>
<rect x="749" y="916" width="49.6" height="21.2" fill="none" stroke="#000" stroke-width="2.8"/>
<line x1="749" y1="932.6" x2="798.6" y2="932.6" stroke="#000" stroke-width="2.8" />
<circle cx="713.8" cy="686.7" r="3.9" fill="#2a4ca6" stroke="none" stroke-width="0"/>
<circle cx="697.2" cy="694.5" r="3.9" fill="#000" stroke="none" stroke-width="0"/>
<circle cx="697.2" cy="721" r="3.9" fill="#000" stroke="none" stroke-width="0"/>
<circle cx="681.5" cy="741.3" r="3.9" fill="#2a4ca6" stroke="none" stroke-width="0"/>
<circle cx="713.8" cy="738.5" r="3.9" fill="#2a4ca6" stroke="none" stroke-width="0"/>
<circle cx="697.2" cy="748.2" r="3.9" fill="#000" stroke="none" stroke-width="0"/>
<circle cx="697.2" cy="774" r="3.9" fill="#2a4ca6" stroke="none" stroke-width="0"/>
<circle cx="705.2" cy="781.6" r="3.9" fill="#2a4ca6" stroke="none" stroke-width="0"/>
<circle cx="689.1" cy="786.7" r="3.9" fill="#2a4ca6" stroke="none" stroke-width="0"/>
<circle cx="697.2" cy="795.4" r="3.9" fill="#000" stroke="none" stroke-width="0"/>
<circle cx="713.8" cy="798.9" r="3.9" fill="#2a4ca6" stroke="none" stroke-width="0"/>
<circle cx="697.2" cy="804.7" r="3.9" fill="#2a4ca6" stroke="none" stroke-width="0"/>
<circle cx="697.2" cy="841.5" r="3.9" fill="#000" stroke="none" stroke-width="0"/>
<circle cx="697.2" cy="851.5" r="3.9" fill="#2a4ca6" stroke="none" stroke-width="0"/>
<circle cx="713.8" cy="853.5" r="3.9" fill="#2a4ca6" stroke="none" stroke-width="0"/>
<circle cx="681.5" cy="860.4" r="3.9" fill="#000" stroke="none" stroke-width="0"/>
<circle cx="697.2" cy="859.5" r="3.9" fill="#000" stroke="none" stroke-width="0"/>
<circle cx="697.2" cy="868" r="3.9" fill="#2a4ca6" stroke="none" stroke-width="0"/>
<circle cx="697.2" cy="886.5" r="3.9" fill="#2a4ca6" stroke="none" stroke-width="0"/>
<circle cx="681.5" cy="890.4" r="3.9" fill="#000" stroke="none" stroke-width="0"/>
<circle cx="713.8" cy="892.2" r="3.9" fill="#000" stroke="none" stroke-width="0"/>
<circle cx="697.2" cy="898.7" r="3.9" fill="#000" stroke="none" stroke-width="0"/>
<circle cx="697.2" cy="915.3" r="3.9" fill="#2a4ca6" stroke="none" stroke-width="0"/>
<circle cx="713.8" cy="914.1" r="3.9" fill="#000" stroke="none" stroke-width="0"/>
<circle cx="697.2" cy="930.3" r="3.9" fill="#000" stroke="none" stroke-width="0"/>
<circle cx="775.5" cy="898.7" r="3.9" fill="#000" stroke="none" stroke-width="0"/>
<circle cx="767.5" cy="901.9" r="3.9" fill="#000" stroke="none" stroke-width="0"/>
<circle cx="779" cy="904.9" r="3.9" fill="#2a4ca6" stroke="none" stroke-width="0"/>
<circle cx="774.4" cy="910.7" r="3.9" fill="#2a4ca6" stroke="none" stroke-width="0"/>
<circle cx="783.6" cy="913" r="3.9" fill="#000" stroke="none" stroke-width="0"/>
<circle cx="772.1" cy="915.3" r="3.9" fill="#000" stroke="none" stroke-width="0"/>
<circle cx="779" cy="915.3" r="3.9" fill="#2a4ca6" stroke="none" stroke-width="0"/>
<circle cx="767.5" cy="919.9" r="3.9" fill="#2a4ca6" stroke="none" stroke-width="0"/>
<circle cx="775.5" cy="921.5" r="3.9" fill="#000" stroke="none" stroke-width="0"/>
<circle cx="780.1" cy="924.5" r="3.9" fill="#2a4ca6" stroke="none" stroke-width="0"/>
<circle cx="784.7" cy="928" r="3.9" fill="#2a4ca6" stroke="none" stroke-width="0"/>
<circle cx="794.7" cy="928" r="3.9" fill="#2a4ca6" stroke="none" stroke-width="0"/>
<circle cx="755.9" cy="930.3" r="3.9" fill="#2a4ca6" stroke="none" stroke-width="0"/>
<circle cx="766.3" cy="929.8" r="3.9" fill="#2a4ca6" stroke="none" stroke-width="0"/>
<circle cx="760.5" cy="933.7" r="3.9" fill="#2a4ca6" stroke="none" stroke-width="0"/>
<circle cx="753.6" cy="933.7" r="3.9" fill="#000" stroke="none" stroke-width="0"/>
<circle cx="776.7" cy="933.7" r="3.9" fill="#000" stroke="none" stroke-width="0"/>
<circle cx="788.2" cy="934.4" r="3.9" fill="#000" stroke="none" stroke-width="0"/>
<circle cx="794.7" cy="935.3" r="3.9" fill="#2a4ca6" stroke="none" stroke-width="0"/>
<circle cx="767.5" cy="938.3" r="3.9" fill="#000" stroke="none" stroke-width="0"/>
<circle cx="783.6" cy="938.3" r="3.9" fill="#2a4ca6" stroke="none" stroke-width="0"/>
<circle cx="781.3" cy="934.2" r="3.9" fill="#000" stroke="none" stroke-width="0"/>
<line x1="896.1" y1="671.2" x2="896.1" y2="941.8" stroke="#000" stroke-width="3.0" />
<line x1="885.1" y1="940.3" x2="1073.8" y2="940.3" stroke="#000" stroke-width="3.0" />
<line x1="885.1" y1="672.5" x2="896.1" y2="672.5" stroke="#000" stroke-width="3.0" />
<text x="882.8" y="680.2" font-size="28" text-anchor="end" fill="#000" >100</text>
<line x1="885.1" y1="726.1" x2="896.1" y2="726.1" stroke="#000" stroke-width="3.0" />
<text x="882.8" y="733.8" font-size="28" text-anchor="end" fill="#000" >80</text>
<line x1="885.1" y1="779.6" x2="896.1" y2="779.6" stroke="#000" stroke-width="3.0" />
<text x="882.8" y="787.3" font-size="28" text-anchor="end" fill="#000" >60</text>
<line x1="885.1" y1="833.2" x2="896.1" y2="833.2" stroke="#000" stroke-width="3.0" />
<text x="882.8" y="840.9" font-size="28" text-anchor="end" fill="#000" >40</text>
<line x1="885.1" y1="886.7" x2="896.1" y2="886.7" stroke="#000" stroke-width="3.0" />
<text x="882.8" y="894.4" font-size="28" text-anchor="end" fill="#000" >20</text>
<line x1="885.1" y1="940.3" x2="896.1" y2="940.3" stroke="#000" stroke-width="3.0" />
<text x="882.8" y="948" font-size="28" text-anchor="end" fill="#000" >0</text>
<line x1="946.4" y1="940.3" x2="946.4" y2="951.3" stroke="#000" stroke-width="3.0" />
<line x1="1022.4" y1="940.3" x2="1022.4" y2="951.3" stroke="#000" stroke-width="3.0" />
<text x="984.6" y="586.9" font-size="28" text-anchor="middle" font-weight="bold" textLength="70.2" lengthAdjust="spacingAndGlyphs" fill="#000" >Fr. IV</text>
<text x="1012.6" y="638.7" font-size="27.5" text-anchor="middle" fill="#000" ><tspan dy="-1.5" font-style="italic">*</tspan><tspan dy="1.5" font-style="italic">p</tspan> = 0.0136</text>
<path d="M943.6 669.4 V659.8 H1023.1 V669.4" fill="none" stroke="#000" stroke-width="2.2"/>
<text x="942.4" y="974.1" font-size="28" text-anchor="middle" fill="#000" >0 wk</text>
<text x="1041.5" y="974.1" font-size="28" text-anchor="middle" fill="#000" >9-16 wk</text>
<line x1="946.8" y1="685.5" x2="946.8" y2="724.7" stroke="#000" stroke-width="2.8" />
<line x1="946.8" y1="779.3" x2="946.8" y2="855.4" stroke="#000" stroke-width="2.8" />
<line x1="933.3" y1="685.5" x2="960.3" y2="685.5" stroke="#000" stroke-width="2.8" stroke-linecap="round"/>
<line x1="933.3" y1="855.4" x2="960.3" y2="855.4" stroke="#000" stroke-width="2.8" stroke-linecap="round"/>
<rect x="922.2" y="724.7" width="49.2" height="54.6" fill="none" stroke="#000" stroke-width="2.8"/>
<line x1="922.2" y1="756.7" x2="971.4" y2="756.7" stroke="#000" stroke-width="2.8" />
<line x1="1023.3" y1="695.9" x2="1023.3" y2="737.8" stroke="#000" stroke-width="2.8" />
<line x1="1023.3" y1="838.8" x2="1023.3" y2="881.9" stroke="#000" stroke-width="2.8" />
<line x1="1009.7" y1="695.9" x2="1036.9" y2="695.9" stroke="#000" stroke-width="2.8" stroke-linecap="round"/>
<line x1="1009.7" y1="881.9" x2="1036.9" y2="881.9" stroke="#000" stroke-width="2.8" stroke-linecap="round"/>
<rect x="998.8" y="737.8" width="49" height="101" fill="none" stroke="#000" stroke-width="2.8"/>
<line x1="998.8" y1="801.2" x2="1047.8" y2="801.2" stroke="#000" stroke-width="2.8" />
<circle cx="946.8" cy="685.5" r="3.9" fill="#2a4ca6" stroke="none" stroke-width="0"/>
<circle cx="939.5" cy="700.3" r="3.9" fill="#000" stroke="none" stroke-width="0"/>
<circle cx="954" cy="701" r="3.9" fill="#000" stroke="none" stroke-width="0"/>
<circle cx="946.8" cy="709" r="3.9" fill="#2a4ca6" stroke="none" stroke-width="0"/>
<circle cx="939.5" cy="718.7" r="3.9" fill="#2a4ca6" stroke="none" stroke-width="0"/>
<circle cx="954" cy="717.6" r="3.9" fill="#000" stroke="none" stroke-width="0"/>
<circle cx="954" cy="729.1" r="3.9" fill="#2a4ca6" stroke="none" stroke-width="0"/>
<circle cx="968.3" cy="733.2" r="3.9" fill="#2a4ca6" stroke="none" stroke-width="0"/>
<circle cx="939.5" cy="739" r="3.9" fill="#2a4ca6" stroke="none" stroke-width="0"/>
<circle cx="954" cy="737.4" r="3.9" fill="#2a4ca6" stroke="none" stroke-width="0"/>
<circle cx="939.5" cy="749.8" r="3.9" fill="#2a4ca6" stroke="none" stroke-width="0"/>
<circle cx="954" cy="748.2" r="3.9" fill="#2a4ca6" stroke="none" stroke-width="0"/>
<circle cx="968.3" cy="756.7" r="3.9" fill="#000" stroke="none" stroke-width="0"/>
<circle cx="954" cy="760.4" r="3.9" fill="#000" stroke="none" stroke-width="0"/>
<circle cx="939.5" cy="762.5" r="3.9" fill="#000" stroke="none" stroke-width="0"/>
<circle cx="968.3" cy="765.9" r="3.9" fill="#2a4ca6" stroke="none" stroke-width="0"/>
<circle cx="924.5" cy="767.1" r="3.9" fill="#000" stroke="none" stroke-width="0"/>
<circle cx="939.5" cy="775.2" r="3.9" fill="#000" stroke="none" stroke-width="0"/>
<circle cx="924.5" cy="782.1" r="3.9" fill="#000" stroke="none" stroke-width="0"/>
<circle cx="968.3" cy="780.5" r="3.9" fill="#2a4ca6" stroke="none" stroke-width="0"/>
<circle cx="939.5" cy="788.1" r="3.9" fill="#000" stroke="none" stroke-width="0"/>
<circle cx="954" cy="794.8" r="3.9" fill="#000" stroke="none" stroke-width="0"/>
<circle cx="939.5" cy="799.4" r="3.9" fill="#2a4ca6" stroke="none" stroke-width="0"/>
<circle cx="946.8" cy="834.6" r="3.9" fill="#000" stroke="none" stroke-width="0"/>
<circle cx="946.8" cy="855.4" r="3.9" fill="#2a4ca6" stroke="none" stroke-width="0"/>
<circle cx="1016.2" cy="695.9" r="3.9" fill="#2a4ca6" stroke="none" stroke-width="0"/>
<circle cx="1030.5" cy="702.1" r="3.9" fill="#2a4ca6" stroke="none" stroke-width="0"/>
<circle cx="1016.2" cy="706.7" r="3.9" fill="#000" stroke="none" stroke-width="0"/>
<circle cx="1023.1" cy="720.5" r="3.9" fill="#2a4ca6" stroke="none" stroke-width="0"/>
<circle cx="1016.2" cy="730.9" r="3.9" fill="#2a4ca6" stroke="none" stroke-width="0"/>
<circle cx="1030.5" cy="729.8" r="3.9" fill="#000" stroke="none" stroke-width="0"/>
<circle cx="1023.1" cy="743.1" r="3.9" fill="#2a4ca6" stroke="none" stroke-width="0"/>
<circle cx="1023.1" cy="754" r="3.9" fill="#2a4ca6" stroke="none" stroke-width="0"/>
<circle cx="1023.1" cy="773.6" r="3.9" fill="#2a4ca6" stroke="none" stroke-width="0"/>
<circle cx="1023.1" cy="784.6" r="3.9" fill="#000" stroke="none" stroke-width="0"/>
<circle cx="1016.2" cy="795.4" r="3.9" fill="#000" stroke="none" stroke-width="0"/>
<circle cx="1030.5" cy="793.6" r="3.9" fill="#2a4ca6" stroke="none" stroke-width="0"/>
<circle cx="1030.5" cy="801.9" r="3.9" fill="#000" stroke="none" stroke-width="0"/>
<circle cx="1016.2" cy="803.5" r="3.9" fill="#2a4ca6" stroke="none" stroke-width="0"/>
<circle cx="1001.7" cy="808.1" r="3.9" fill="#000" stroke="none" stroke-width="0"/>
<circle cx="1023.1" cy="822" r="3.9" fill="#2a4ca6" stroke="none" stroke-width="0"/>
<circle cx="1016.2" cy="833.9" r="3.9" fill="#000" stroke="none" stroke-width="0"/>
<circle cx="1001.7" cy="839.9" r="3.9" fill="#000" stroke="none" stroke-width="0"/>
<circle cx="1030.5" cy="841.1" r="3.9" fill="#000" stroke="none" stroke-width="0"/>
<circle cx="1044.3" cy="839.2" r="3.9" fill="#2a4ca6" stroke="none" stroke-width="0"/>
<circle cx="1016.2" cy="844.3" r="3.9" fill="#2a4ca6" stroke="none" stroke-width="0"/>
<circle cx="1023.1" cy="853.1" r="3.9" fill="#000" stroke="none" stroke-width="0"/>
<circle cx="1023.1" cy="870.4" r="3.9" fill="#000" stroke="none" stroke-width="0"/>
<circle cx="1016.2" cy="881.9" r="3.9" fill="#2a4ca6" stroke="none" stroke-width="0"/>
<circle cx="1030.5" cy="880" r="3.9" fill="#000" stroke="none" stroke-width="0"/>
<line x1="1152.3" y1="672.2" x2="1152.3" y2="941.1" stroke="#000" stroke-width="3.0" />
<line x1="1141.3" y1="939.6" x2="1329.7" y2="939.6" stroke="#000" stroke-width="3.0" />
<line x1="1141.3" y1="673.5" x2="1152.3" y2="673.5" stroke="#000" stroke-width="3.0" />
<text x="1142.4" y="681.6" font-size="28" text-anchor="end" fill="#000" >80</text>
<line x1="1141.3" y1="740" x2="1152.3" y2="740" stroke="#000" stroke-width="3.0" />
<text x="1142.4" y="748.1" font-size="28" text-anchor="end" fill="#000" >60</text>
<line x1="1141.3" y1="806.5" x2="1152.3" y2="806.5" stroke="#000" stroke-width="3.0" />
<text x="1142.4" y="814.6" font-size="28" text-anchor="end" fill="#000" >40</text>
<line x1="1141.3" y1="873.1" x2="1152.3" y2="873.1" stroke="#000" stroke-width="3.0" />
<text x="1142.4" y="881.2" font-size="28" text-anchor="end" fill="#000" >20</text>
<line x1="1141.3" y1="939.6" x2="1152.3" y2="939.6" stroke="#000" stroke-width="3.0" />
<text x="1142.4" y="947.7" font-size="28" text-anchor="end" fill="#000" >0</text>
<line x1="1202.5" y1="939.6" x2="1202.5" y2="950.6" stroke="#000" stroke-width="3.0" />
<line x1="1279" y1="939.6" x2="1279" y2="950.6" stroke="#000" stroke-width="3.0" />
<text x="1234" y="586.9" font-size="28" text-anchor="middle" font-weight="bold" textLength="62.7" lengthAdjust="spacingAndGlyphs" fill="#000" >Fr. V</text>
<text x="1268" y="638.7" font-size="27.5" text-anchor="middle" fill="#000" ><tspan dy="-1.5" font-style="italic">**</tspan><tspan dy="1.5" font-style="italic">p</tspan> = 0.0021</text>
<path d="M1200.2 671 V662.2 H1279 V671" fill="none" stroke="#000" stroke-width="2.2"/>
<text x="1197.8" y="974.1" font-size="28" text-anchor="middle" fill="#000" >0 wk</text>
<text x="1297.2" y="974.1" font-size="28" text-anchor="middle" fill="#000" >9-16 wk</text>
<line x1="1203.1" y1="739.4" x2="1203.1" y2="813.9" stroke="#000" stroke-width="2.8" />
<line x1="1203.1" y1="908.4" x2="1203.1" y2="929.8" stroke="#000" stroke-width="2.8" />
<line x1="1189.5" y1="739.4" x2="1216.7" y2="739.4" stroke="#000" stroke-width="2.8" stroke-linecap="round"/>
<line x1="1189.5" y1="929.8" x2="1216.7" y2="929.8" stroke="#000" stroke-width="2.8" stroke-linecap="round"/>
<rect x="1178.7" y="813.9" width="48.8" height="94.5" fill="none" stroke="#000" stroke-width="2.8"/>
<line x1="1178.7" y1="858.8" x2="1227.5" y2="858.8" stroke="#000" stroke-width="2.8" />
<line x1="1279.3" y1="687.6" x2="1279.3" y2="718.9" stroke="#000" stroke-width="2.8" />
<line x1="1279.3" y1="865" x2="1279.3" y2="913" stroke="#000" stroke-width="2.8" />
<line x1="1265.7" y1="687.6" x2="1292.9" y2="687.6" stroke="#000" stroke-width="2.8" stroke-linecap="round"/>
<line x1="1265.7" y1="913" x2="1292.9" y2="913" stroke="#000" stroke-width="2.8" stroke-linecap="round"/>
<rect x="1255.4" y="718.9" width="47.8" height="146.1" fill="none" stroke="#000" stroke-width="2.8"/>
<line x1="1255.4" y1="780" x2="1303.2" y2="780" stroke="#000" stroke-width="2.8" />
<circle cx="1195.6" cy="739.4" r="3.9" fill="#2a4ca6" stroke="none" stroke-width="0"/>
<circle cx="1209.8" cy="742.4" r="3.9" fill="#000" stroke="none" stroke-width="0"/>
<circle cx="1202.5" cy="775.9" r="3.9" fill="#000" stroke="none" stroke-width="0"/>
<circle cx="1195.6" cy="786.7" r="3.9" fill="#2a4ca6" stroke="none" stroke-width="0"/>
<circle cx="1209.8" cy="786.7" r="3.9" fill="#000" stroke="none" stroke-width="0"/>
<circle cx="1195.6" cy="812.7" r="3.9" fill="#000" stroke="none" stroke-width="0"/>
<circle cx="1209.8" cy="812.7" r="3.9" fill="#000" stroke="none" stroke-width="0"/>
<circle cx="1224.1" cy="817.8" r="3.9" fill="#000" stroke="none" stroke-width="0"/>
<circle cx="1195.6" cy="823.1" r="3.9" fill="#2a4ca6" stroke="none" stroke-width="0"/>
<circle cx="1202.5" cy="833.9" r="3.9" fill="#2a4ca6" stroke="none" stroke-width="0"/>
<circle cx="1181.7" cy="858.8" r="3.9" fill="#000" stroke="none" stroke-width="0"/>
<circle cx="1209.8" cy="856.1" r="3.9" fill="#000" stroke="none" stroke-width="0"/>
<circle cx="1224.1" cy="858.8" r="3.9" fill="#2a4ca6" stroke="none" stroke-width="0"/>
<circle cx="1209.8" cy="866.9" r="3.9" fill="#000" stroke="none" stroke-width="0"/>
<circle cx="1181.7" cy="881.9" r="3.9" fill="#2a4ca6" stroke="none" stroke-width="0"/>
<circle cx="1195.6" cy="887.6" r="3.9" fill="#2a4ca6" stroke="none" stroke-width="0"/>
<circle cx="1209.8" cy="882.3" r="3.9" fill="#2a4ca6" stroke="none" stroke-width="0"/>
<circle cx="1181.7" cy="909.5" r="3.9" fill="#2a4ca6" stroke="none" stroke-width="0"/>
<circle cx="1195.6" cy="909.5" r="3.9" fill="#000" stroke="none" stroke-width="0"/>
<circle cx="1209.8" cy="908.8" r="3.9" fill="#2a4ca6" stroke="none" stroke-width="0"/>
<circle cx="1224.1" cy="912.5" r="3.9" fill="#2a4ca6" stroke="none" stroke-width="0"/>
<circle cx="1195.6" cy="919.9" r="3.9" fill="#2a4ca6" stroke="none" stroke-width="0"/>
<circle cx="1209.8" cy="917.6" r="3.9" fill="#000" stroke="none" stroke-width="0"/>
<circle cx="1224.1" cy="920.4" r="3.9" fill="#000" stroke="none" stroke-width="0"/>
<circle cx="1202.5" cy="929.8" r="3.9" fill="#2a4ca6" stroke="none" stroke-width="0"/>
<circle cx="1279" cy="687.6" r="3.9" fill="#2a4ca6" stroke="none" stroke-width="0"/>
<circle cx="1279" cy="698.7" r="3.9" fill="#000" stroke="none" stroke-width="0"/>
<circle cx="1257.6" cy="711.3" r="3.9" fill="#2a4ca6" stroke="none" stroke-width="0"/>
<circle cx="1299.7" cy="712" r="3.9" fill="#000" stroke="none" stroke-width="0"/>
<circle cx="1289.4" cy="714.1" r="3.9" fill="#2a4ca6" stroke="none" stroke-width="0"/>
<circle cx="1268.2" cy="718.2" r="3.9" fill="#000" stroke="none" stroke-width="0"/>
<circle cx="1279" cy="718.9" r="3.9" fill="#000" stroke="none" stroke-width="0"/>
<circle cx="1273.7" cy="734.4" r="3.9" fill="#2a4ca6" stroke="none" stroke-width="0"/>
<circle cx="1284.3" cy="737.1" r="3.9" fill="#2a4ca6" stroke="none" stroke-width="0"/>
<circle cx="1279" cy="746.6" r="3.9" fill="#000" stroke="none" stroke-width="0"/>
<circle cx="1273.7" cy="762" r="3.9" fill="#000" stroke="none" stroke-width="0"/>
<circle cx="1284.3" cy="762" r="3.9" fill="#2a4ca6" stroke="none" stroke-width="0"/>
<circle cx="1279" cy="780" r="3.9" fill="#2a4ca6" stroke="none" stroke-width="0"/>
<circle cx="1273.7" cy="791.5" r="3.9" fill="#000" stroke="none" stroke-width="0"/>
<circle cx="1284.3" cy="790.8" r="3.9" fill="#000" stroke="none" stroke-width="0"/>
<circle cx="1279" cy="813.2" r="3.9" fill="#000" stroke="none" stroke-width="0"/>
<circle cx="1284.3" cy="850.8" r="3.9" fill="#2a4ca6" stroke="none" stroke-width="0"/>
<circle cx="1273.7" cy="854.2" r="3.9" fill="#000" stroke="none" stroke-width="0"/>
<circle cx="1268.2" cy="863.4" r="3.9" fill="#2a4ca6" stroke="none" stroke-width="0"/>
<circle cx="1289.4" cy="870.4" r="3.9" fill="#000" stroke="none" stroke-width="0"/>
<circle cx="1279" cy="876.1" r="3.9" fill="#2a4ca6" stroke="none" stroke-width="0"/>
<circle cx="1279" cy="885.3" r="3.9" fill="#2a4ca6" stroke="none" stroke-width="0"/>
<circle cx="1273.7" cy="900.3" r="3.9" fill="#000" stroke="none" stroke-width="0"/>
<circle cx="1284.3" cy="904.9" r="3.9" fill="#2a4ca6" stroke="none" stroke-width="0"/>
<circle cx="1279" cy="913.4" r="3.9" fill="#2a4ca6" stroke="none" stroke-width="0"/>
<line x1="99.8" y1="1198.6" x2="99.8" y2="1429.5" stroke="#000" stroke-width="3.0" />
<line x1="90.3" y1="1428" x2="251.7" y2="1428" stroke="#000" stroke-width="3.0" />
<line x1="90.3" y1="1199.9" x2="99.8" y2="1199.9" stroke="#000" stroke-width="3.0" />
<text x="87.6" y="1208.6" font-size="28" text-anchor="end" fill="#000" >600</text>
<line x1="90.3" y1="1275.9" x2="99.8" y2="1275.9" stroke="#000" stroke-width="3.0" />
<text x="87.6" y="1284.6" font-size="28" text-anchor="end" fill="#000" >400</text>
<line x1="90.3" y1="1352" x2="99.8" y2="1352" stroke="#000" stroke-width="3.0" />
<text x="87.6" y="1360.7" font-size="28" text-anchor="end" fill="#000" >200</text>
<line x1="90.3" y1="1428" x2="99.8" y2="1428" stroke="#000" stroke-width="3.0" />
<text x="87.6" y="1436.7" font-size="28" text-anchor="end" fill="#000" >0</text>
<line x1="142.6" y1="1428" x2="142.6" y2="1439" stroke="#000" stroke-width="3.0" />
<line x1="207.8" y1="1428" x2="207.8" y2="1439" stroke="#000" stroke-width="3.0" />
<text x="194.2" y="1122.6" font-size="28" text-anchor="middle" font-weight="bold" textLength="180.2" lengthAdjust="spacingAndGlyphs" fill="#000" >CCR4 of Fr. II</text>
<text x="218" y="1171.7" font-size="27.5" text-anchor="middle" fill="#000" ><tspan dy="-1.5" font-style="italic">***</tspan><tspan dy="1.5" font-style="italic">p</tspan> &lt; 0.0001</text>
<path d="M145.4 1196 V1187.3 H210.7 V1196" fill="none" stroke="#000" stroke-width="2.2"/>
<text x="141.7" y="1468" font-size="28" text-anchor="middle" fill="#000" >0 wk</text>
<text x="240.8" y="1468" font-size="28" text-anchor="middle" fill="#000" >9-16 wk</text>
<text x="29.3" y="1296.8" font-size="28" text-anchor="middle" transform="rotate(-90 29.3 1296.8)" fill="#000" >MFI</text>
<line x1="143.1" y1="1224" x2="143.1" y2="1242.1" stroke="#000" stroke-width="2.8" />
<line x1="143.1" y1="1272" x2="143.1" y2="1309.6" stroke="#000" stroke-width="2.8" />
<line x1="131.6" y1="1224" x2="154.6" y2="1224" stroke="#000" stroke-width="2.8" stroke-linecap="round"/>
<line x1="131.6" y1="1309.6" x2="154.6" y2="1309.6" stroke="#000" stroke-width="2.8" stroke-linecap="round"/>
<rect x="122.6" y="1242.1" width="41" height="29.9" fill="none" stroke="#000" stroke-width="2.8"/>
<line x1="122.6" y1="1254.6" x2="163.6" y2="1254.6" stroke="#000" stroke-width="2.8" />
<line x1="208.1" y1="1335.7" x2="208.1" y2="1352.6" stroke="#000" stroke-width="2.8" />
<line x1="208.1" y1="1384.2" x2="208.1" y2="1389.2" stroke="#000" stroke-width="2.8" />
<line x1="196.5" y1="1335.7" x2="219.7" y2="1335.7" stroke="#000" stroke-width="2.8" stroke-linecap="round"/>
<line x1="196.5" y1="1389.2" x2="219.7" y2="1389.2" stroke="#000" stroke-width="2.8" stroke-linecap="round"/>
<rect x="187" y="1352.6" width="42.2" height="31.6" fill="none" stroke="#000" stroke-width="2.8"/>
<line x1="187" y1="1369.6" x2="229.2" y2="1369.6" stroke="#000" stroke-width="2.8" />
<circle cx="142.6" cy="1224" r="3.9" fill="#000" stroke="none" stroke-width="0"/>
<circle cx="142.6" cy="1235.9" r="3.9" fill="#000" stroke="none" stroke-width="0"/>
<circle cx="135.9" cy="1250.1" r="3.9" fill="#000" stroke="none" stroke-width="0"/>
<circle cx="149.4" cy="1246.1" r="3.9" fill="#2a4ca6" stroke="none" stroke-width="0"/>
<circle cx="149.4" cy="1255.1" r="3.9" fill="#2a4ca6" stroke="none" stroke-width="0"/>
<circle cx="149.4" cy="1263.4" r="3.9" fill="#2a4ca6" stroke="none" stroke-width="0"/>
<circle cx="135.9" cy="1269.7" r="3.9" fill="#2a4ca6" stroke="none" stroke-width="0"/>
<circle cx="149.4" cy="1276" r="3.9" fill="#2a4ca6" stroke="none" stroke-width="0"/>
<circle cx="142.6" cy="1309.6" r="3.9" fill="#000" stroke="none" stroke-width="0"/>
<circle cx="207.8" cy="1335.7" r="3.9" fill="#2a4ca6" stroke="none" stroke-width="0"/>
<circle cx="207.8" cy="1348.1" r="3.9" fill="#2a4ca6" stroke="none" stroke-width="0"/>
<circle cx="207.8" cy="1355.8" r="3.9" fill="#2a4ca6" stroke="none" stroke-width="0"/>
<circle cx="194.3" cy="1369.5" r="3.9" fill="#000" stroke="none" stroke-width="0"/>
<circle cx="207.8" cy="1369.5" r="3.9" fill="#000" stroke="none" stroke-width="0"/>
<circle cx="194.3" cy="1381.3" r="3.9" fill="#000" stroke="none" stroke-width="0"/>
<circle cx="207.8" cy="1384.2" r="3.9" fill="#2a4ca6" stroke="none" stroke-width="0"/>
<circle cx="222" cy="1385.8" r="3.9" fill="#000" stroke="none" stroke-width="0"/>
<circle cx="194.3" cy="1389.8" r="3.9" fill="#2a4ca6" stroke="none" stroke-width="0"/>
<line x1="373.3" y1="1198.7" x2="373.3" y2="1429.5" stroke="#000" stroke-width="3.0" />
<line x1="363.8" y1="1428" x2="524.7" y2="1428" stroke="#000" stroke-width="3.0" />
<line x1="363.8" y1="1200" x2="373.3" y2="1200" stroke="#000" stroke-width="3.0" />
<text x="358.7" y="1209.5" font-size="28" text-anchor="end" fill="#000" >600</text>
<line x1="363.8" y1="1276" x2="373.3" y2="1276" stroke="#000" stroke-width="3.0" />
<text x="358.7" y="1285.5" font-size="28" text-anchor="end" fill="#000" >400</text>
<line x1="363.8" y1="1352" x2="373.3" y2="1352" stroke="#000" stroke-width="3.0" />
<text x="358.7" y="1361.5" font-size="28" text-anchor="end" fill="#000" >200</text>
<line x1="363.8" y1="1428" x2="373.3" y2="1428" stroke="#000" stroke-width="3.0" />
<text x="358.7" y="1437.5" font-size="28" text-anchor="end" fill="#000" >0</text>
<line x1="416" y1="1428" x2="416" y2="1439" stroke="#000" stroke-width="3.0" />
<line x1="481.2" y1="1428" x2="481.2" y2="1439" stroke="#000" stroke-width="3.0" />
<text x="463" y="1123.1" font-size="28" text-anchor="middle" font-weight="bold" textLength="186.8" lengthAdjust="spacingAndGlyphs" fill="#000" >CCR4 of Fr. III</text>
<text x="484.9" y="1172" font-size="27.5" text-anchor="middle" fill="#000" ><tspan dy="-1.5" font-style="italic">**</tspan><tspan dy="1.5" font-style="italic">p</tspan> = 0.0002</text>
<path d="M416.7 1197.2 V1188.8 H481.2 V1197.2" fill="none" stroke="#000" stroke-width="2.2"/>
<text x="412.6" y="1469.7" font-size="28" text-anchor="middle" fill="#000" >0 wk</text>
<text x="512.1" y="1469.7" font-size="28" text-anchor="middle" fill="#000" >9-16 wk</text>
<line x1="416.4" y1="1275.4" x2="416.4" y2="1290.5" stroke="#000" stroke-width="2.8" />
<line x1="416.4" y1="1312.8" x2="416.4" y2="1331" stroke="#000" stroke-width="2.8" />
<line x1="404.9" y1="1275.4" x2="427.9" y2="1275.4" stroke="#000" stroke-width="2.8" stroke-linecap="round"/>
<line x1="404.9" y1="1331" x2="427.9" y2="1331" stroke="#000" stroke-width="2.8" stroke-linecap="round"/>
<rect x="395.7" y="1290.5" width="41.4" height="22.3" fill="none" stroke="#000" stroke-width="2.8"/>
<line x1="395.7" y1="1303.7" x2="437.1" y2="1303.7" stroke="#000" stroke-width="2.8" />
<line x1="481.8" y1="1323.7" x2="481.8" y2="1334.6" stroke="#000" stroke-width="2.8" />
<line x1="481.8" y1="1368.9" x2="481.8" y2="1373" stroke="#000" stroke-width="2.8" />
<line x1="470.8" y1="1323.7" x2="492.8" y2="1323.7" stroke="#000" stroke-width="2.8" stroke-linecap="round"/>
<line x1="470.8" y1="1373" x2="492.8" y2="1373" stroke="#000" stroke-width="2.8" stroke-linecap="round"/>
<rect x="460.8" y="1334.6" width="42" height="34.3" fill="none" stroke="#000" stroke-width="2.8"/>
<line x1="460.8" y1="1364" x2="502.8" y2="1364" stroke="#000" stroke-width="2.8" />
<circle cx="416.1" cy="1275.4" r="3.9" fill="#000" stroke="none" stroke-width="0"/>
<circle cx="416.1" cy="1284.2" r="3.9" fill="#000" stroke="none" stroke-width="0"/>
<circle cx="416.1" cy="1294.9" r="3.9" fill="#000" stroke="none" stroke-width="0"/>
<circle cx="402.8" cy="1306.5" r="3.9" fill="#2a4ca6" stroke="none" stroke-width="0"/>
<circle cx="416.1" cy="1303.7" r="3.9" fill="#2a4ca6" stroke="none" stroke-width="0"/>
<circle cx="430.1" cy="1302.7" r="3.9" fill="#2a4ca6" stroke="none" stroke-width="0"/>
<circle cx="430.1" cy="1312.6" r="3.9" fill="#2a4ca6" stroke="none" stroke-width="0"/>
<circle cx="416.1" cy="1315.3" r="3.9" fill="#2a4ca6" stroke="none" stroke-width="0"/>
<circle cx="416.1" cy="1331.1" r="3.9" fill="#000" stroke="none" stroke-width="0"/>
<circle cx="475.5" cy="1323.7" r="3.9" fill="#2a4ca6" stroke="none" stroke-width="0"/>
<circle cx="487.5" cy="1323.7" r="3.9" fill="#2a4ca6" stroke="none" stroke-width="0"/>
<circle cx="487.5" cy="1342.6" r="3.9" fill="#000" stroke="none" stroke-width="0"/>
<circle cx="475.5" cy="1347.9" r="3.9" fill="#2a4ca6" stroke="none" stroke-width="0"/>
<circle cx="463.3" cy="1363.6" r="3.9" fill="#000" stroke="none" stroke-width="0"/>
<circle cx="475.5" cy="1367.4" r="3.9" fill="#000" stroke="none" stroke-width="0"/>
<circle cx="499.5" cy="1369.3" r="3.9" fill="#000" stroke="none" stroke-width="0"/>
<circle cx="463.3" cy="1373.1" r="3.9" fill="#2a4ca6" stroke="none" stroke-width="0"/>
<circle cx="487.5" cy="1372.6" r="3.9" fill="#2a4ca6" stroke="none" stroke-width="0"/>
<path d="M754.4 1368.4 H690.4 V1142.4 H915.5 V1368.4 H895" fill="none" stroke="#3a3a3a" stroke-width="1.3"/>
<line x1="683.8" y1="1163" x2="690.4" y2="1163" stroke="#111" stroke-width="2.0" />
<line x1="683.8" y1="1214.2" x2="690.4" y2="1214.2" stroke="#111" stroke-width="2.0" />
<line x1="683.8" y1="1268.9" x2="690.4" y2="1268.9" stroke="#111" stroke-width="2.0" />
<line x1="683.8" y1="1320.8" x2="690.4" y2="1320.8" stroke="#111" stroke-width="2.0" />
<line x1="683.8" y1="1351.4" x2="690.4" y2="1351.4" stroke="#111" stroke-width="2.0" />
<line x1="687" y1="1198.8" x2="690.4" y2="1198.8" stroke="#333" stroke-width="1.2" />
<line x1="687" y1="1189.8" x2="690.4" y2="1189.8" stroke="#333" stroke-width="1.2" />
<line x1="687" y1="1183.4" x2="690.4" y2="1183.4" stroke="#333" stroke-width="1.2" />
<line x1="687" y1="1178.4" x2="690.4" y2="1178.4" stroke="#333" stroke-width="1.2" />
<line x1="687" y1="1174.4" x2="690.4" y2="1174.4" stroke="#333" stroke-width="1.2" />
<line x1="687" y1="1170.9" x2="690.4" y2="1170.9" stroke="#333" stroke-width="1.2" />
<line x1="687" y1="1168" x2="690.4" y2="1168" stroke="#333" stroke-width="1.2" />
<line x1="687" y1="1165.3" x2="690.4" y2="1165.3" stroke="#333" stroke-width="1.2" />
<line x1="687" y1="1147.6" x2="690.4" y2="1147.6" stroke="#333" stroke-width="1.2" />
<line x1="687" y1="1252.4" x2="690.4" y2="1252.4" stroke="#333" stroke-width="1.2" />
<line x1="687" y1="1242.8" x2="690.4" y2="1242.8" stroke="#333" stroke-width="1.2" />
<line x1="687" y1="1236" x2="690.4" y2="1236" stroke="#333" stroke-width="1.2" />
<line x1="687" y1="1230.7" x2="690.4" y2="1230.7" stroke="#333" stroke-width="1.2" />
<line x1="687" y1="1226.3" x2="690.4" y2="1226.3" stroke="#333" stroke-width="1.2" />
<line x1="687" y1="1222.7" x2="690.4" y2="1222.7" stroke="#333" stroke-width="1.2" />
<line x1="687" y1="1219.5" x2="690.4" y2="1219.5" stroke="#333" stroke-width="1.2" />
<line x1="687" y1="1216.7" x2="690.4" y2="1216.7" stroke="#333" stroke-width="1.2" />
<line x1="687" y1="1284.3" x2="690.4" y2="1284.3" stroke="#333" stroke-width="1.2" />
<line x1="687" y1="1292.3" x2="690.4" y2="1292.3" stroke="#333" stroke-width="1.2" />
<line x1="687" y1="1299.2" x2="690.4" y2="1299.2" stroke="#333" stroke-width="1.2" />
<line x1="687" y1="1308.8" x2="690.4" y2="1308.8" stroke="#333" stroke-width="1.2" />
<line x1="687" y1="1315.4" x2="690.4" y2="1315.4" stroke="#333" stroke-width="1.2" />
<line x1="687" y1="1326" x2="690.4" y2="1326" stroke="#333" stroke-width="1.2" />
<line x1="687" y1="1329" x2="690.4" y2="1329" stroke="#333" stroke-width="1.2" />
<line x1="687" y1="1332" x2="690.4" y2="1332" stroke="#333" stroke-width="1.2" />
<line x1="687" y1="1335" x2="690.4" y2="1335" stroke="#333" stroke-width="1.2" />
<line x1="687" y1="1338" x2="690.4" y2="1338" stroke="#333" stroke-width="1.2" />
<line x1="687" y1="1341" x2="690.4" y2="1341" stroke="#333" stroke-width="1.2" />
<line x1="687" y1="1344" x2="690.4" y2="1344" stroke="#333" stroke-width="1.2" />
<line x1="687" y1="1347" x2="690.4" y2="1347" stroke="#333" stroke-width="1.2" />
<line x1="687" y1="1365.2" x2="690.4" y2="1365.2" stroke="#333" stroke-width="1.2" />
<line x1="684.9" y1="1325.8" x2="690.4" y2="1325.8" stroke="#222" stroke-width="1.0" />
<line x1="684.9" y1="1327.4" x2="690.4" y2="1327.4" stroke="#222" stroke-width="1.0" />
<line x1="684.9" y1="1329" x2="690.4" y2="1329" stroke="#222" stroke-width="1.0" />
<line x1="684.9" y1="1330.6" x2="690.4" y2="1330.6" stroke="#222" stroke-width="1.0" />
<line x1="684.9" y1="1332.2" x2="690.4" y2="1332.2" stroke="#222" stroke-width="1.0" />
<line x1="684.9" y1="1333.8" x2="690.4" y2="1333.8" stroke="#222" stroke-width="1.0" />
<line x1="684.9" y1="1335.4" x2="690.4" y2="1335.4" stroke="#222" stroke-width="1.0" />
<line x1="684.9" y1="1337" x2="690.4" y2="1337" stroke="#222" stroke-width="1.0" />
<line x1="684.9" y1="1338.6" x2="690.4" y2="1338.6" stroke="#222" stroke-width="1.0" />
<line x1="684.9" y1="1340.2" x2="690.4" y2="1340.2" stroke="#222" stroke-width="1.0" />
<line x1="691" y1="1368.4" x2="691" y2="1371.6" stroke="#333" stroke-width="1.2" />
<line x1="695.5" y1="1368.4" x2="695.5" y2="1371.6" stroke="#333" stroke-width="1.2" />
<line x1="700.6" y1="1368.4" x2="700.6" y2="1371.6" stroke="#333" stroke-width="1.2" />
<line x1="705.6" y1="1368.4" x2="705.6" y2="1371.6" stroke="#333" stroke-width="1.2" />
<line x1="710.4" y1="1368.4" x2="710.4" y2="1371.6" stroke="#333" stroke-width="1.2" />
<line x1="713.6" y1="1368.4" x2="713.6" y2="1371.6" stroke="#333" stroke-width="1.2" />
<line x1="740.3" y1="1368.4" x2="740.3" y2="1371.6" stroke="#333" stroke-width="1.2" />
<line x1="745.7" y1="1368.4" x2="745.7" y2="1371.6" stroke="#333" stroke-width="1.2" />
<line x1="752.1" y1="1368.4" x2="752.1" y2="1371.6" stroke="#333" stroke-width="1.2" />
<line x1="897" y1="1368.4" x2="897" y2="1371.6" stroke="#333" stroke-width="1.2" />
<line x1="900" y1="1368.4" x2="900" y2="1371.6" stroke="#333" stroke-width="1.2" />
<line x1="903" y1="1368.4" x2="903" y2="1371.6" stroke="#333" stroke-width="1.2" />
<line x1="906" y1="1368.4" x2="906" y2="1371.6" stroke="#333" stroke-width="1.2" />
<line x1="908" y1="1368.4" x2="908" y2="1371.6" stroke="#333" stroke-width="1.2" />
<line x1="910" y1="1368.4" x2="910" y2="1371.6" stroke="#333" stroke-width="1.2" />
<line x1="912" y1="1368.4" x2="912" y2="1371.6" stroke="#333" stroke-width="1.2" />
<line x1="914" y1="1368.4" x2="914" y2="1371.6" stroke="#333" stroke-width="1.2" />
<line x1="718.4" y1="1368.4" x2="718.4" y2="1373.4" stroke="#111" stroke-width="1.6" />
<line x1="720" y1="1368.4" x2="720" y2="1373.4" stroke="#111" stroke-width="1.6" />
<line x1="721.5" y1="1368.4" x2="721.5" y2="1373.4" stroke="#111" stroke-width="1.6" />
<line x1="723" y1="1368.4" x2="723" y2="1373.4" stroke="#111" stroke-width="1.6" />
<line x1="724.5" y1="1368.4" x2="724.5" y2="1373.4" stroke="#111" stroke-width="1.6" />
<line x1="726" y1="1368.4" x2="726" y2="1373.4" stroke="#111" stroke-width="1.6" />
<line x1="728" y1="1368.4" x2="728" y2="1373.4" stroke="#111" stroke-width="1.6" />
<line x1="730" y1="1368.4" x2="730" y2="1373.4" stroke="#111" stroke-width="1.6" />
<line x1="732" y1="1368.4" x2="732" y2="1373.4" stroke="#111" stroke-width="1.6" />
<line x1="733.9" y1="1368.4" x2="733.9" y2="1373.4" stroke="#111" stroke-width="1.6" />
<rect x="699.7" y="1326.3" width="1.3" height="1.3" fill="#555"/>
<rect x="695.7" y="1327.5" width="1.3" height="1.3" fill="#111"/>
<rect x="709.9" y="1330.6" width="1.3" height="1.3" fill="#888"/>
<rect x="707.7" y="1321.4" width="1.3" height="1.3" fill="#333"/>
<rect x="711.7" y="1329.8" width="1.3" height="1.3" fill="#000"/>
<rect x="702" y="1320.6" width="1.3" height="1.3" fill="#555"/>
<rect x="702.3" y="1317.2" width="1.3" height="1.3" fill="#111"/>
<rect x="698.9" y="1316.1" width="1.3" height="1.3" fill="#000"/>
<rect x="710.6" y="1325.4" width="1.3" height="1.3" fill="#111"/>
<rect x="698.6" y="1317.9" width="1.3" height="1.3" fill="#333"/>
<rect x="696.3" y="1328.2" width="1.3" height="1.3" fill="#888"/>
<rect x="707.5" y="1329" width="1.3" height="1.3" fill="#000"/>
<rect x="703.5" y="1318.3" width="1.3" height="1.3" fill="#333"/>
<rect x="700.7" y="1328.2" width="1.3" height="1.3" fill="#000"/>
<rect x="705.6" y="1319" width="1.3" height="1.3" fill="#111"/>
<rect x="705.5" y="1323.9" width="1.3" height="1.3" fill="#888"/>
<rect x="707.6" y="1318" width="1.3" height="1.3" fill="#333"/>
<rect x="695.6" y="1333.9" width="1.3" height="1.3" fill="#000"/>
<rect x="710.1" y="1337.4" width="1.3" height="1.3" fill="#000"/>
<rect x="690.5" y="1327.2" width="1.3" height="1.3" fill="#555"/>
<rect x="700.2" y="1327.7" width="1.3" height="1.3" fill="#111"/>
<rect x="707.8" y="1319.3" width="1.3" height="1.3" fill="#000"/>
<rect x="706.6" y="1325" width="1.3" height="1.3" fill="#555"/>
<rect x="707.2" y="1321" width="1.3" height="1.3" fill="#111"/>
<rect x="706.8" y="1323.1" width="1.3" height="1.3" fill="#555"/>
<rect x="708.1" y="1320.4" width="1.3" height="1.3" fill="#888"/>
<rect x="709.7" y="1330.6" width="1.3" height="1.3" fill="#111"/>
<rect x="701.8" y="1326.9" width="1.3" height="1.3" fill="#555"/>
<rect x="703.4" y="1326" width="1.3" height="1.3" fill="#333"/>
<rect x="717.7" y="1311.7" width="1.3" height="1.3" fill="#888"/>
<rect x="702.8" y="1335.8" width="1.3" height="1.3" fill="#111"/>
<rect x="714.6" y="1342.3" width="1.3" height="1.3" fill="#888"/>
<rect x="705.3" y="1321.9" width="1.3" height="1.3" fill="#111"/>
<rect x="708.1" y="1328.5" width="1.3" height="1.3" fill="#888"/>
<rect x="704.6" y="1328.4" width="1.3" height="1.3" fill="#000"/>
<rect x="710.7" y="1325.8" width="1.3" height="1.3" fill="#111"/>
<rect x="712.7" y="1324.6" width="1.3" height="1.3" fill="#888"/>
<rect x="692.5" y="1328.4" width="1.3" height="1.3" fill="#555"/>
<rect x="708.6" y="1321.2" width="1.3" height="1.3" fill="#555"/>
<rect x="708.4" y="1327.2" width="1.3" height="1.3" fill="#111"/>
<rect x="708.9" y="1319.9" width="1.3" height="1.3" fill="#111"/>
<rect x="711.6" y="1331.1" width="1.3" height="1.3" fill="#888"/>
<rect x="711.8" y="1337.9" width="1.3" height="1.3" fill="#555"/>
<rect x="702" y="1320.2" width="1.3" height="1.3" fill="#000"/>
<rect x="712.6" y="1328.6" width="1.3" height="1.3" fill="#333"/>
<rect x="707.7" y="1333.3" width="1.3" height="1.3" fill="#333"/>
<rect x="695.6" y="1330.2" width="1.3" height="1.3" fill="#555"/>
<rect x="706" y="1327.6" width="1.3" height="1.3" fill="#000"/>
<rect x="711.8" y="1328.9" width="1.3" height="1.3" fill="#888"/>
<rect x="703.3" y="1320.8" width="1.3" height="1.3" fill="#111"/>
<rect x="707" y="1321.7" width="1.3" height="1.3" fill="#555"/>
<rect x="705" y="1324.7" width="1.3" height="1.3" fill="#111"/>
<rect x="705.5" y="1331.2" width="1.3" height="1.3" fill="#111"/>
<rect x="709.7" y="1325.8" width="1.3" height="1.3" fill="#555"/>
<rect x="715.7" y="1322.9" width="1.3" height="1.3" fill="#888"/>
<rect x="704.2" y="1322.3" width="1.3" height="1.3" fill="#000"/>
<rect x="713" y="1320.9" width="1.3" height="1.3" fill="#333"/>
<rect x="702.3" y="1309.3" width="1.3" height="1.3" fill="#000"/>
<rect x="705.1" y="1322.6" width="1.3" height="1.3" fill="#000"/>
<rect x="706.4" y="1318.8" width="1.3" height="1.3" fill="#000"/>
<rect x="713.7" y="1327.4" width="1.3" height="1.3" fill="#000"/>
<rect x="714.9" y="1318.2" width="1.3" height="1.3" fill="#111"/>
<rect x="710.6" y="1311.2" width="1.3" height="1.3" fill="#333"/>
<rect x="712.8" y="1327.5" width="1.3" height="1.3" fill="#000"/>
<rect x="711.3" y="1319.5" width="1.3" height="1.3" fill="#000"/>
<rect x="712.1" y="1318.1" width="1.3" height="1.3" fill="#888"/>
<rect x="703.9" y="1319" width="1.3" height="1.3" fill="#000"/>
<rect x="705.1" y="1322.4" width="1.3" height="1.3" fill="#000"/>
<rect x="719.3" y="1323.5" width="1.3" height="1.3" fill="#333"/>
<rect x="699.5" y="1330.3" width="1.3" height="1.3" fill="#888"/>
<rect x="700.5" y="1325.8" width="1.3" height="1.3" fill="#888"/>
<rect x="715.6" y="1329" width="1.3" height="1.3" fill="#000"/>
<rect x="706" y="1326.4" width="1.3" height="1.3" fill="#000"/>
<rect x="708.2" y="1333.2" width="1.3" height="1.3" fill="#555"/>
<rect x="708.6" y="1315.3" width="1.3" height="1.3" fill="#555"/>
<rect x="707" y="1324.9" width="1.3" height="1.3" fill="#333"/>
<rect x="712.1" y="1330.5" width="1.3" height="1.3" fill="#888"/>
<rect x="713.3" y="1335.4" width="1.3" height="1.3" fill="#555"/>
<rect x="702.5" y="1324" width="1.3" height="1.3" fill="#555"/>
<rect x="705" y="1320.6" width="1.3" height="1.3" fill="#555"/>
<rect x="710.3" y="1314.5" width="1.3" height="1.3" fill="#111"/>
<rect x="711.3" y="1320" width="1.3" height="1.3" fill="#888"/>
<rect x="710.6" y="1322" width="1.3" height="1.3" fill="#111"/>
<rect x="695.6" y="1324.3" width="1.3" height="1.3" fill="#000"/>
<rect x="703.5" y="1309.7" width="1.3" height="1.3" fill="#333"/>
<rect x="708.3" y="1321.4" width="1.3" height="1.3" fill="#555"/>
<rect x="706.3" y="1328.1" width="1.3" height="1.3" fill="#555"/>
<rect x="701.6" y="1328.9" width="1.3" height="1.3" fill="#333"/>
<rect x="704.6" y="1312.7" width="1.3" height="1.3" fill="#888"/>
<rect x="704.7" y="1324.7" width="1.3" height="1.3" fill="#000"/>
<rect x="705.6" y="1332.1" width="1.3" height="1.3" fill="#333"/>
<rect x="702.3" y="1321.8" width="1.3" height="1.3" fill="#888"/>
<rect x="710.2" y="1324.4" width="1.3" height="1.3" fill="#555"/>
<rect x="710.8" y="1333.6" width="1.3" height="1.3" fill="#333"/>
<rect x="707.3" y="1327.3" width="1.3" height="1.3" fill="#000"/>
<rect x="710" y="1323.7" width="1.3" height="1.3" fill="#000"/>
<rect x="701" y="1317.6" width="1.3" height="1.3" fill="#333"/>
<rect x="715.8" y="1321.6" width="1.3" height="1.3" fill="#111"/>
<rect x="709.1" y="1319.9" width="1.3" height="1.3" fill="#000"/>
<rect x="707.2" y="1316.6" width="1.3" height="1.3" fill="#000"/>
<rect x="709.1" y="1328.3" width="1.3" height="1.3" fill="#333"/>
<rect x="692.9" y="1320.4" width="1.3" height="1.3" fill="#888"/>
<rect x="699.4" y="1317.4" width="1.3" height="1.3" fill="#555"/>
<rect x="712.4" y="1316.4" width="1.3" height="1.3" fill="#111"/>
<rect x="718.9" y="1331.3" width="1.3" height="1.3" fill="#555"/>
<rect x="711.5" y="1328.8" width="1.3" height="1.3" fill="#000"/>
<rect x="701.4" y="1329.4" width="1.3" height="1.3" fill="#888"/>
<rect x="711.2" y="1310.2" width="1.3" height="1.3" fill="#555"/>
<rect x="699.1" y="1339.1" width="1.3" height="1.3" fill="#000"/>
<rect x="705.1" y="1313.1" width="1.3" height="1.3" fill="#000"/>
<rect x="709.9" y="1336.5" width="1.3" height="1.3" fill="#000"/>
<rect x="714.4" y="1322.9" width="1.3" height="1.3" fill="#333"/>
<rect x="706.3" y="1333.5" width="1.3" height="1.3" fill="#000"/>
<rect x="705.6" y="1326" width="1.3" height="1.3" fill="#555"/>
<rect x="703.6" y="1329.3" width="1.3" height="1.3" fill="#333"/>
<rect x="705.6" y="1324.1" width="1.3" height="1.3" fill="#000"/>
<rect x="705.6" y="1324.7" width="1.3" height="1.3" fill="#888"/>
<rect x="701.6" y="1333.1" width="1.3" height="1.3" fill="#111"/>
<rect x="682.5" y="1328.6" width="1.3" height="1.3" fill="#888"/>
<rect x="711.9" y="1316.3" width="1.3" height="1.3" fill="#555"/>
<rect x="698.9" y="1319.6" width="1.3" height="1.3" fill="#111"/>
<rect x="699.9" y="1326.9" width="1.3" height="1.3" fill="#888"/>
<rect x="702.3" y="1318.4" width="1.3" height="1.3" fill="#888"/>
<rect x="706.6" y="1332.9" width="1.3" height="1.3" fill="#888"/>
<rect x="710" y="1335.3" width="1.3" height="1.3" fill="#888"/>
<rect x="699.3" y="1322.8" width="1.3" height="1.3" fill="#111"/>
<rect x="704.5" y="1325.6" width="1.3" height="1.3" fill="#000"/>
<rect x="705.9" y="1323.1" width="1.3" height="1.3" fill="#000"/>
<rect x="701" y="1323.4" width="1.3" height="1.3" fill="#888"/>
<rect x="708.9" y="1325.8" width="1.3" height="1.3" fill="#111"/>
<rect x="713.8" y="1327" width="1.3" height="1.3" fill="#555"/>
<rect x="716.5" y="1318.9" width="1.3" height="1.3" fill="#555"/>
<rect x="706.2" y="1330.7" width="1.3" height="1.3" fill="#111"/>
<rect x="700.1" y="1334.9" width="1.3" height="1.3" fill="#555"/>
<rect x="704.2" y="1323.6" width="1.3" height="1.3" fill="#555"/>
<rect x="696.9" y="1314.8" width="1.3" height="1.3" fill="#111"/>
<rect x="702.1" y="1308.2" width="1.3" height="1.3" fill="#000"/>
<rect x="708.5" y="1328" width="1.3" height="1.3" fill="#333"/>
<rect x="704.5" y="1329.1" width="1.3" height="1.3" fill="#888"/>
<rect x="699.9" y="1324.1" width="1.3" height="1.3" fill="#888"/>
<rect x="712.1" y="1329" width="1.3" height="1.3" fill="#333"/>
<rect x="705.1" y="1314.9" width="1.3" height="1.3" fill="#555"/>
<rect x="715.4" y="1325.2" width="1.3" height="1.3" fill="#888"/>
<rect x="701.4" y="1319" width="1.3" height="1.3" fill="#888"/>
<rect x="702.2" y="1318.4" width="1.3" height="1.3" fill="#888"/>
<rect x="698" y="1316.4" width="1.3" height="1.3" fill="#111"/>
<rect x="714.3" y="1319.7" width="1.3" height="1.3" fill="#333"/>
<rect x="711.3" y="1321" width="1.3" height="1.3" fill="#333"/>
<rect x="710.1" y="1321.5" width="1.3" height="1.3" fill="#111"/>
<rect x="709.4" y="1321.9" width="1.3" height="1.3" fill="#111"/>
<rect x="708.7" y="1325.9" width="1.3" height="1.3" fill="#555"/>
<rect x="716.3" y="1330.5" width="1.3" height="1.3" fill="#555"/>
<rect x="698" y="1321.5" width="1.3" height="1.3" fill="#111"/>
<rect x="699.5" y="1329.2" width="1.3" height="1.3" fill="#000"/>
<rect x="713.4" y="1328.4" width="1.3" height="1.3" fill="#333"/>
<rect x="720.4" y="1315.7" width="1.3" height="1.3" fill="#000"/>
<rect x="704.6" y="1315.8" width="1.3" height="1.3" fill="#333"/>
<rect x="697.9" y="1323.8" width="1.3" height="1.3" fill="#111"/>
<rect x="709.2" y="1317.5" width="1.3" height="1.3" fill="#000"/>
<rect x="714.4" y="1325.8" width="1.3" height="1.3" fill="#888"/>
<rect x="712.7" y="1320.1" width="1.3" height="1.3" fill="#111"/>
<rect x="708.6" y="1327.7" width="1.3" height="1.3" fill="#111"/>
<rect x="720.7" y="1323.2" width="1.3" height="1.3" fill="#000"/>
<rect x="704.2" y="1322.5" width="1.3" height="1.3" fill="#555"/>
<rect x="709.4" y="1325.3" width="1.3" height="1.3" fill="#555"/>
<rect x="699.9" y="1325.5" width="1.3" height="1.3" fill="#555"/>
<rect x="708.4" y="1329.6" width="1.3" height="1.3" fill="#000"/>
<rect x="709.1" y="1320.9" width="1.3" height="1.3" fill="#555"/>
<rect x="703.3" y="1328.5" width="1.3" height="1.3" fill="#111"/>
<rect x="704.9" y="1322.4" width="1.3" height="1.3" fill="#000"/>
<rect x="705.9" y="1326.3" width="1.3" height="1.3" fill="#555"/>
<rect x="703.5" y="1322.3" width="1.3" height="1.3" fill="#888"/>
<rect x="717.8" y="1322.8" width="1.3" height="1.3" fill="#333"/>
<rect x="706.4" y="1326.9" width="1.3" height="1.3" fill="#111"/>
<rect x="709.4" y="1318.4" width="1.3" height="1.3" fill="#333"/>
<rect x="713.7" y="1317.7" width="1.3" height="1.3" fill="#555"/>
<rect x="707.6" y="1317.9" width="1.3" height="1.3" fill="#111"/>
<rect x="712" y="1326.4" width="1.3" height="1.3" fill="#555"/>
<rect x="717.1" y="1331.4" width="1.3" height="1.3" fill="#888"/>
<rect x="711.6" y="1325.5" width="1.3" height="1.3" fill="#333"/>
<rect x="702.4" y="1331.5" width="1.3" height="1.3" fill="#888"/>
<rect x="708" y="1326.2" width="1.3" height="1.3" fill="#888"/>
<rect x="715.6" y="1324" width="1.3" height="1.3" fill="#000"/>
<rect x="708.2" y="1307.3" width="1.3" height="1.3" fill="#000"/>
<rect x="709.2" y="1325.9" width="1.3" height="1.3" fill="#111"/>
<rect x="706.7" y="1330.1" width="1.3" height="1.3" fill="#000"/>
<rect x="707.6" y="1315.4" width="1.3" height="1.3" fill="#000"/>
<rect x="710.7" y="1326.6" width="1.3" height="1.3" fill="#333"/>
<rect x="700.2" y="1321.8" width="1.3" height="1.3" fill="#888"/>
<rect x="689.2" y="1315.9" width="1.3" height="1.3" fill="#555"/>
<rect x="782.7" y="1319.2" width="1.3" height="1.3" fill="#888"/>
<rect x="775.9" y="1305.7" width="1.3" height="1.3" fill="#555"/>
<rect x="784.7" y="1320.1" width="1.3" height="1.3" fill="#555"/>
<rect x="791.7" y="1319.2" width="1.3" height="1.3" fill="#888"/>
<rect x="780.7" y="1320.3" width="1.3" height="1.3" fill="#555"/>
<rect x="776.6" y="1326.4" width="1.3" height="1.3" fill="#888"/>
<rect x="779.7" y="1330.5" width="1.3" height="1.3" fill="#555"/>
<rect x="778.4" y="1314" width="1.3" height="1.3" fill="#333"/>
<rect x="777.7" y="1311.3" width="1.3" height="1.3" fill="#000"/>
<rect x="785.7" y="1322.5" width="1.3" height="1.3" fill="#000"/>
<rect x="778.6" y="1316.3" width="1.3" height="1.3" fill="#555"/>
<rect x="786.1" y="1324.1" width="1.3" height="1.3" fill="#555"/>
<rect x="796.2" y="1329" width="1.3" height="1.3" fill="#333"/>
<rect x="791.7" y="1329.3" width="1.3" height="1.3" fill="#555"/>
<rect x="781.3" y="1316.4" width="1.3" height="1.3" fill="#111"/>
<rect x="784.2" y="1323" width="1.3" height="1.3" fill="#555"/>
<rect x="789.8" y="1337" width="1.3" height="1.3" fill="#111"/>
<rect x="780" y="1319.8" width="1.3" height="1.3" fill="#888"/>
<rect x="779.8" y="1323.9" width="1.3" height="1.3" fill="#000"/>
<rect x="780.2" y="1325.4" width="1.3" height="1.3" fill="#333"/>
<rect x="775" y="1325.9" width="1.3" height="1.3" fill="#555"/>
<rect x="776.2" y="1315.6" width="1.3" height="1.3" fill="#555"/>
<rect x="776.6" y="1331.3" width="1.3" height="1.3" fill="#111"/>
<rect x="789.8" y="1318.4" width="1.3" height="1.3" fill="#111"/>
<rect x="776.1" y="1323.1" width="1.3" height="1.3" fill="#333"/>
<rect x="783.5" y="1311.7" width="1.3" height="1.3" fill="#333"/>
<rect x="780.9" y="1332.2" width="1.3" height="1.3" fill="#888"/>
<rect x="781" y="1317.4" width="1.3" height="1.3" fill="#333"/>
<rect x="782.1" y="1317.1" width="1.3" height="1.3" fill="#111"/>
<rect x="774.7" y="1321.9" width="1.3" height="1.3" fill="#111"/>
<rect x="783" y="1320.5" width="1.3" height="1.3" fill="#000"/>
<rect x="785.9" y="1322.3" width="1.3" height="1.3" fill="#000"/>
<rect x="780.3" y="1319.6" width="1.3" height="1.3" fill="#888"/>
<rect x="780.5" y="1334.4" width="1.3" height="1.3" fill="#111"/>
<rect x="775.3" y="1318.7" width="1.3" height="1.3" fill="#333"/>
<rect x="777.3" y="1322.7" width="1.3" height="1.3" fill="#333"/>
<rect x="777.4" y="1332.3" width="1.3" height="1.3" fill="#000"/>
<rect x="783.8" y="1314.3" width="1.3" height="1.3" fill="#888"/>
<rect x="786.5" y="1311.1" width="1.3" height="1.3" fill="#555"/>
<rect x="778.6" y="1324.7" width="1.3" height="1.3" fill="#111"/>
<rect x="777.1" y="1330" width="1.3" height="1.3" fill="#888"/>
<rect x="779.1" y="1330.4" width="1.3" height="1.3" fill="#111"/>
<rect x="777.7" y="1325.2" width="1.3" height="1.3" fill="#000"/>
<rect x="777.7" y="1323.6" width="1.3" height="1.3" fill="#888"/>
<rect x="787.6" y="1326.8" width="1.3" height="1.3" fill="#555"/>
<rect x="784.2" y="1314.3" width="1.3" height="1.3" fill="#000"/>
<rect x="785.1" y="1324.4" width="1.3" height="1.3" fill="#888"/>
<rect x="785.7" y="1325.1" width="1.3" height="1.3" fill="#333"/>
<rect x="781.4" y="1326.1" width="1.3" height="1.3" fill="#333"/>
<rect x="779.6" y="1316.4" width="1.3" height="1.3" fill="#000"/>
<rect x="779.6" y="1329.3" width="1.3" height="1.3" fill="#888"/>
<rect x="792.3" y="1313.3" width="1.3" height="1.3" fill="#333"/>
<rect x="773.7" y="1327.1" width="1.3" height="1.3" fill="#333"/>
<rect x="778.6" y="1323.4" width="1.3" height="1.3" fill="#888"/>
<rect x="782.1" y="1329.1" width="1.3" height="1.3" fill="#333"/>
<rect x="789.4" y="1323.7" width="1.3" height="1.3" fill="#888"/>
<rect x="779.5" y="1325.2" width="1.3" height="1.3" fill="#888"/>
<rect x="778.6" y="1327.5" width="1.3" height="1.3" fill="#111"/>
<rect x="785.3" y="1313.7" width="1.3" height="1.3" fill="#111"/>
<rect x="786.7" y="1326.4" width="1.3" height="1.3" fill="#333"/>
<rect x="783.3" y="1317.1" width="1.3" height="1.3" fill="#000"/>
<rect x="775.8" y="1319.3" width="1.3" height="1.3" fill="#000"/>
<rect x="776.7" y="1311" width="1.3" height="1.3" fill="#000"/>
<rect x="778.3" y="1318.8" width="1.3" height="1.3" fill="#888"/>
<rect x="783.8" y="1323.6" width="1.3" height="1.3" fill="#000"/>
<rect x="783.7" y="1320.1" width="1.3" height="1.3" fill="#111"/>
<rect x="789.5" y="1329.9" width="1.3" height="1.3" fill="#555"/>
<rect x="782.1" y="1327.3" width="1.3" height="1.3" fill="#888"/>
<rect x="779.1" y="1329.1" width="1.3" height="1.3" fill="#333"/>
<rect x="775.1" y="1338.8" width="1.3" height="1.3" fill="#111"/>
<rect x="775.8" y="1322.4" width="1.3" height="1.3" fill="#000"/>
<rect x="779.1" y="1305.9" width="1.3" height="1.3" fill="#555"/>
<rect x="782.6" y="1300.2" width="1.3" height="1.3" fill="#333"/>
<rect x="787.5" y="1311.2" width="1.3" height="1.3" fill="#000"/>
<rect x="791.6" y="1309.8" width="1.3" height="1.3" fill="#000"/>
<rect x="774.2" y="1320.2" width="1.3" height="1.3" fill="#000"/>
<rect x="777.4" y="1325.7" width="1.3" height="1.3" fill="#111"/>
<rect x="782.1" y="1326.5" width="1.3" height="1.3" fill="#555"/>
<rect x="780.2" y="1316" width="1.3" height="1.3" fill="#555"/>
<rect x="778.3" y="1324.8" width="1.3" height="1.3" fill="#000"/>
<rect x="774" y="1324.2" width="1.3" height="1.3" fill="#333"/>
<rect x="776.8" y="1311.6" width="1.3" height="1.3" fill="#111"/>
<rect x="789.1" y="1315.4" width="1.3" height="1.3" fill="#000"/>
<rect x="772.5" y="1313.7" width="1.3" height="1.3" fill="#000"/>
<rect x="780.7" y="1326.6" width="1.3" height="1.3" fill="#333"/>
<rect x="782.7" y="1327.4" width="1.3" height="1.3" fill="#555"/>
<rect x="779.1" y="1319" width="1.3" height="1.3" fill="#111"/>
<rect x="786" y="1317.3" width="1.3" height="1.3" fill="#333"/>
<rect x="773.7" y="1309.2" width="1.3" height="1.3" fill="#888"/>
<rect x="778.1" y="1322.7" width="1.3" height="1.3" fill="#555"/>
<rect x="785.9" y="1318.5" width="1.3" height="1.3" fill="#888"/>
<rect x="782.3" y="1318.7" width="1.3" height="1.3" fill="#111"/>
<rect x="779.2" y="1325.1" width="1.3" height="1.3" fill="#111"/>
<rect x="783.6" y="1315" width="1.3" height="1.3" fill="#888"/>
<rect x="784.4" y="1309.6" width="1.3" height="1.3" fill="#000"/>
<rect x="780" y="1317.4" width="1.3" height="1.3" fill="#000"/>
<rect x="789.6" y="1310.4" width="1.3" height="1.3" fill="#555"/>
<rect x="784.3" y="1310.7" width="1.3" height="1.3" fill="#888"/>
<rect x="785.7" y="1316.5" width="1.3" height="1.3" fill="#333"/>
<rect x="788.7" y="1334.9" width="1.3" height="1.3" fill="#888"/>
<rect x="787.6" y="1331.1" width="1.3" height="1.3" fill="#888"/>
<rect x="781.4" y="1331.2" width="1.3" height="1.3" fill="#111"/>
<rect x="779.2" y="1319.9" width="1.3" height="1.3" fill="#111"/>
<rect x="786.2" y="1308.9" width="1.3" height="1.3" fill="#111"/>
<rect x="785.4" y="1324.9" width="1.3" height="1.3" fill="#888"/>
<rect x="786.7" y="1326.9" width="1.3" height="1.3" fill="#555"/>
<rect x="789.2" y="1328.2" width="1.3" height="1.3" fill="#888"/>
<rect x="784.7" y="1317" width="1.3" height="1.3" fill="#111"/>
<rect x="772.3" y="1330.3" width="1.3" height="1.3" fill="#000"/>
<rect x="783.1" y="1314.1" width="1.3" height="1.3" fill="#000"/>
<rect x="776.1" y="1319.5" width="1.3" height="1.3" fill="#111"/>
<rect x="794.2" y="1315.6" width="1.3" height="1.3" fill="#333"/>
<rect x="781.3" y="1324.8" width="1.3" height="1.3" fill="#333"/>
<rect x="789.4" y="1321.8" width="1.3" height="1.3" fill="#000"/>
<rect x="777.2" y="1330.8" width="1.3" height="1.3" fill="#000"/>
<rect x="778.3" y="1312.2" width="1.3" height="1.3" fill="#000"/>
<rect x="781.6" y="1321" width="1.3" height="1.3" fill="#555"/>
<rect x="780.6" y="1313.7" width="1.3" height="1.3" fill="#333"/>
<rect x="776.9" y="1318.7" width="1.3" height="1.3" fill="#000"/>
<rect x="788" y="1310.6" width="1.3" height="1.3" fill="#111"/>
<rect x="784.3" y="1319.5" width="1.3" height="1.3" fill="#555"/>
<rect x="789.7" y="1317.2" width="1.3" height="1.3" fill="#333"/>
<rect x="782.2" y="1312.5" width="1.3" height="1.3" fill="#000"/>
<rect x="781.9" y="1327" width="1.3" height="1.3" fill="#000"/>
<rect x="776.2" y="1337.9" width="1.3" height="1.3" fill="#888"/>
<rect x="775" y="1324" width="1.3" height="1.3" fill="#555"/>
<rect x="783" y="1319.1" width="1.3" height="1.3" fill="#111"/>
<rect x="780.1" y="1319.2" width="1.3" height="1.3" fill="#111"/>
<rect x="784.2" y="1328.9" width="1.3" height="1.3" fill="#555"/>
<rect x="780.2" y="1320.2" width="1.3" height="1.3" fill="#111"/>
<rect x="796.5" y="1326.5" width="1.3" height="1.3" fill="#555"/>
<rect x="780.4" y="1323.6" width="1.3" height="1.3" fill="#555"/>
<rect x="784.5" y="1320.2" width="1.3" height="1.3" fill="#111"/>
<rect x="783" y="1308.2" width="1.3" height="1.3" fill="#555"/>
<rect x="770.8" y="1323.8" width="1.3" height="1.3" fill="#888"/>
<rect x="787" y="1322.7" width="1.3" height="1.3" fill="#333"/>
<rect x="790.8" y="1320.5" width="1.3" height="1.3" fill="#888"/>
<rect x="778.2" y="1320.9" width="1.3" height="1.3" fill="#111"/>
<rect x="778" y="1331.1" width="1.3" height="1.3" fill="#000"/>
<rect x="778.8" y="1320.2" width="1.3" height="1.3" fill="#333"/>
<rect x="784.2" y="1308.4" width="1.3" height="1.3" fill="#888"/>
<rect x="781.1" y="1316.4" width="1.3" height="1.3" fill="#888"/>
<rect x="787.2" y="1316.6" width="1.3" height="1.3" fill="#333"/>
<rect x="777.4" y="1316.2" width="1.3" height="1.3" fill="#888"/>
<rect x="778.6" y="1300.5" width="1.3" height="1.3" fill="#888"/>
<rect x="789.8" y="1321.9" width="1.3" height="1.3" fill="#111"/>
<rect x="780.9" y="1321.3" width="1.3" height="1.3" fill="#111"/>
<rect x="782.5" y="1318" width="1.3" height="1.3" fill="#555"/>
<rect x="775.1" y="1316.6" width="1.3" height="1.3" fill="#333"/>
<rect x="790.5" y="1330.3" width="1.3" height="1.3" fill="#333"/>
<rect x="699.4" y="1328.6" width="1.3" height="1.3" fill="#000"/>
<rect x="748.9" y="1344.4" width="1.3" height="1.3" fill="#000"/>
<rect x="714.3" y="1318.4" width="1.3" height="1.3" fill="#222"/>
<rect x="705.8" y="1310.9" width="1.3" height="1.3" fill="#000"/>
<rect x="785.9" y="1316" width="1.3" height="1.3" fill="#222"/>
<rect x="747.4" y="1337.9" width="1.3" height="1.3" fill="#222"/>
<rect x="763" y="1310" width="1.3" height="1.3" fill="#000"/>
<rect x="705.9" y="1328.9" width="1.3" height="1.3" fill="#555"/>
<rect x="767.1" y="1343.9" width="1.3" height="1.3" fill="#000"/>
<rect x="733.6" y="1337.5" width="1.3" height="1.3" fill="#555"/>
<rect x="715.1" y="1312" width="1.3" height="1.3" fill="#000"/>
<rect x="758.7" y="1341.5" width="1.3" height="1.3" fill="#555"/>
<rect x="780.7" y="1327" width="1.3" height="1.3" fill="#555"/>
<rect x="760.6" y="1336.5" width="1.3" height="1.3" fill="#000"/>
<rect x="742.2" y="1340.6" width="1.3" height="1.3" fill="#000"/>
<rect x="739.3" y="1308.7" width="1.3" height="1.3" fill="#000"/>
<rect x="716.2" y="1332.7" width="1.3" height="1.3" fill="#222"/>
<rect x="718.3" y="1331.2" width="1.3" height="1.3" fill="#555"/>
<rect x="746.1" y="1298.5" width="1.3" height="1.3" fill="#555"/>
<rect x="761.1" y="1310.4" width="1.3" height="1.3" fill="#000"/>
<rect x="708.8" y="1316.7" width="1.3" height="1.3" fill="#555"/>
<rect x="712.6" y="1331.7" width="1.3" height="1.3" fill="#000"/>
<rect x="726.5" y="1341.2" width="1.3" height="1.3" fill="#555"/>
<rect x="741.4" y="1308" width="1.3" height="1.3" fill="#222"/>
<rect x="745.9" y="1308.2" width="1.3" height="1.3" fill="#000"/>
<rect x="747" y="1342.2" width="1.3" height="1.3" fill="#555"/>
<rect x="747.8" y="1344.3" width="1.3" height="1.3" fill="#555"/>
<rect x="729.4" y="1304.3" width="1.3" height="1.3" fill="#000"/>
<rect x="704.7" y="1318.6" width="1.3" height="1.3" fill="#000"/>
<rect x="793.3" y="1323.7" width="1.3" height="1.3" fill="#222"/>
<rect x="775.4" y="1309.2" width="1.3" height="1.3" fill="#000"/>
<rect x="722.6" y="1310.1" width="1.3" height="1.3" fill="#555"/>
<rect x="713.5" y="1317.6" width="1.3" height="1.3" fill="#000"/>
<rect x="769.8" y="1334.3" width="1.3" height="1.3" fill="#555"/>
<rect x="777.8" y="1323.9" width="1.3" height="1.3" fill="#222"/>
<rect x="763.7" y="1338.8" width="1.3" height="1.3" fill="#555"/>
<rect x="773.3" y="1314.4" width="1.3" height="1.3" fill="#222"/>
<rect x="731.5" y="1307.7" width="1.3" height="1.3" fill="#000"/>
<rect x="792.3" y="1329.9" width="1.3" height="1.3" fill="#222"/>
<rect x="729.6" y="1337.6" width="1.3" height="1.3" fill="#000"/>
<rect x="783" y="1316.6" width="1.3" height="1.3" fill="#000"/>
<rect x="755.2" y="1337.7" width="1.3" height="1.3" fill="#000"/>
<rect x="757.6" y="1338.6" width="1.3" height="1.3" fill="#555"/>
<rect x="783.7" y="1325.5" width="1.3" height="1.3" fill="#000"/>
<rect x="712.5" y="1320.8" width="1.3" height="1.3" fill="#000"/>
<rect x="715.3" y="1305.6" width="1.3" height="1.3" fill="#222"/>
<rect x="739.6" y="1307.1" width="1.3" height="1.3" fill="#555"/>
<rect x="734.5" y="1303.4" width="1.3" height="1.3" fill="#000"/>
<rect x="722.4" y="1340.9" width="1.3" height="1.3" fill="#555"/>
<rect x="776.9" y="1331.2" width="1.3" height="1.3" fill="#000"/>
<rect x="771.9" y="1310.1" width="1.3" height="1.3" fill="#222"/>
<rect x="762.5" y="1339.9" width="1.3" height="1.3" fill="#000"/>
<rect x="711.7" y="1323.7" width="1.3" height="1.3" fill="#000"/>
<rect x="713.3" y="1314.9" width="1.3" height="1.3" fill="#000"/>
<rect x="781.1" y="1321.5" width="1.3" height="1.3" fill="#000"/>
<rect x="739.6" y="1338.9" width="1.3" height="1.3" fill="#000"/>
<rect x="699" y="1328.7" width="1.3" height="1.3" fill="#000"/>
<rect x="706" y="1320.4" width="1.3" height="1.3" fill="#000"/>
<rect x="786" y="1324.6" width="1.3" height="1.3" fill="#555"/>
<rect x="757.7" y="1308.5" width="1.3" height="1.3" fill="#000"/>
<rect x="764.5" y="1337.8" width="1.3" height="1.3" fill="#000"/>
<rect x="739.6" y="1337.7" width="1.3" height="1.3" fill="#000"/>
<rect x="765.3" y="1344.3" width="1.3" height="1.3" fill="#000"/>
<rect x="712.1" y="1309.8" width="1.3" height="1.3" fill="#555"/>
<rect x="779.7" y="1324" width="1.3" height="1.3" fill="#000"/>
<rect x="713.8" y="1318.7" width="1.3" height="1.3" fill="#222"/>
<rect x="730.9" y="1337.2" width="1.3" height="1.3" fill="#222"/>
<rect x="713.3" y="1323.3" width="1.3" height="1.3" fill="#000"/>
<rect x="718.5" y="1315.9" width="1.3" height="1.3" fill="#555"/>
<rect x="748.8" y="1339.4" width="1.3" height="1.3" fill="#555"/>
<rect x="714.5" y="1319.6" width="1.3" height="1.3" fill="#000"/>
<rect x="742.8" y="1343.3" width="1.3" height="1.3" fill="#000"/>
<rect x="767.7" y="1310.9" width="1.3" height="1.3" fill="#000"/>
<rect x="716.2" y="1314.9" width="1.3" height="1.3" fill="#000"/>
<rect x="713.6" y="1317" width="1.3" height="1.3" fill="#000"/>
<rect x="717.8" y="1314" width="1.3" height="1.3" fill="#555"/>
<rect x="761" y="1305.4" width="1.3" height="1.3" fill="#000"/>
<rect x="774.5" y="1330" width="1.3" height="1.3" fill="#000"/>
<rect x="704.1" y="1315.4" width="1.3" height="1.3" fill="#000"/>
<rect x="719.9" y="1312.8" width="1.3" height="1.3" fill="#000"/>
<rect x="731" y="1339.5" width="1.3" height="1.3" fill="#222"/>
<rect x="748.7" y="1309.1" width="1.3" height="1.3" fill="#555"/>
<rect x="774.5" y="1331.7" width="1.3" height="1.3" fill="#222"/>
<rect x="745.9" y="1339.7" width="1.3" height="1.3" fill="#555"/>
<rect x="731.4" y="1308" width="1.3" height="1.3" fill="#000"/>
<rect x="727.7" y="1341.5" width="1.3" height="1.3" fill="#555"/>
<rect x="721.5" y="1335.8" width="1.3" height="1.3" fill="#000"/>
<rect x="782" y="1340.5" width="1.3" height="1.3" fill="#000"/>
<rect x="773" y="1339.2" width="1.3" height="1.3" fill="#000"/>
<rect x="781.2" y="1324.1" width="1.3" height="1.3" fill="#555"/>
<rect x="774" y="1313.5" width="1.3" height="1.3" fill="#222"/>
<rect x="707.9" y="1326.7" width="1.3" height="1.3" fill="#000"/>
<rect x="782.3" y="1320.9" width="1.3" height="1.3" fill="#000"/>
<rect x="733.2" y="1342.1" width="1.3" height="1.3" fill="#000"/>
<rect x="714.7" y="1319.3" width="1.3" height="1.3" fill="#000"/>
<rect x="718.7" y="1337.3" width="1.3" height="1.3" fill="#222"/>
<rect x="780.4" y="1318.5" width="1.3" height="1.3" fill="#000"/>
<rect x="717.1" y="1332.5" width="1.3" height="1.3" fill="#000"/>
<rect x="741.7" y="1302.8" width="1.3" height="1.3" fill="#000"/>
<rect x="707.3" y="1327.8" width="1.3" height="1.3" fill="#555"/>
<rect x="776.5" y="1318" width="1.3" height="1.3" fill="#000"/>
<rect x="754" y="1340.7" width="1.3" height="1.3" fill="#222"/>
<rect x="746.3" y="1339.5" width="1.3" height="1.3" fill="#555"/>
<rect x="758.7" y="1343" width="1.3" height="1.3" fill="#000"/>
<rect x="718.5" y="1315.9" width="1.3" height="1.3" fill="#555"/>
<rect x="786.5" y="1323" width="1.3" height="1.3" fill="#000"/>
<rect x="767.8" y="1312.4" width="1.3" height="1.3" fill="#000"/>
<rect x="783.3" y="1328.9" width="1.3" height="1.3" fill="#222"/>
<rect x="724.5" y="1334.5" width="1.3" height="1.3" fill="#000"/>
<rect x="743.7" y="1309.2" width="1.3" height="1.3" fill="#555"/>
<rect x="713.3" y="1317.5" width="1.3" height="1.3" fill="#000"/>
<rect x="722" y="1336" width="1.3" height="1.3" fill="#000"/>
<rect x="741" y="1309.6" width="1.3" height="1.3" fill="#000"/>
<rect x="739.5" y="1308.1" width="1.3" height="1.3" fill="#000"/>
<rect x="780.7" y="1325.8" width="1.3" height="1.3" fill="#000"/>
<rect x="769.4" y="1310.3" width="1.3" height="1.3" fill="#555"/>
<rect x="730.4" y="1336.8" width="1.3" height="1.3" fill="#000"/>
<rect x="732.1" y="1341" width="1.3" height="1.3" fill="#000"/>
<rect x="709.9" y="1324.9" width="1.3" height="1.3" fill="#000"/>
<rect x="785.6" y="1327.3" width="1.3" height="1.3" fill="#222"/>
<rect x="708.1" y="1334.1" width="1.3" height="1.3" fill="#222"/>
<rect x="732.4" y="1337.4" width="1.3" height="1.3" fill="#555"/>
<rect x="727.8" y="1310.5" width="1.3" height="1.3" fill="#222"/>
<rect x="710" y="1320.3" width="1.3" height="1.3" fill="#555"/>
<rect x="709" y="1334.6" width="1.3" height="1.3" fill="#000"/>
<rect x="779.5" y="1335" width="1.3" height="1.3" fill="#222"/>
<rect x="727.2" y="1335.6" width="1.3" height="1.3" fill="#000"/>
<rect x="744.9" y="1308.8" width="1.3" height="1.3" fill="#555"/>
<rect x="709" y="1316.8" width="1.3" height="1.3" fill="#222"/>
<rect x="717.6" y="1304.4" width="1.3" height="1.3" fill="#000"/>
<rect x="775.7" y="1316.4" width="1.3" height="1.3" fill="#000"/>
<rect x="787.7" y="1318.5" width="1.3" height="1.3" fill="#222"/>
<rect x="748.8" y="1338.8" width="1.3" height="1.3" fill="#555"/>
<rect x="770.7" y="1334.1" width="1.3" height="1.3" fill="#555"/>
<rect x="780.2" y="1329.8" width="1.3" height="1.3" fill="#555"/>
<rect x="734.9" y="1308.4" width="1.3" height="1.3" fill="#000"/>
<rect x="766.9" y="1338.3" width="1.3" height="1.3" fill="#000"/>
<rect x="723.5" y="1336.9" width="1.3" height="1.3" fill="#000"/>
<rect x="713" y="1322" width="1.3" height="1.3" fill="#000"/>
<rect x="696.5" y="1326.7" width="1.3" height="1.3" fill="#222"/>
<rect x="732.3" y="1305.6" width="1.3" height="1.3" fill="#000"/>
<rect x="775" y="1314.7" width="1.3" height="1.3" fill="#000"/>
<rect x="719.5" y="1336.8" width="1.3" height="1.3" fill="#000"/>
<rect x="720.3" y="1334.5" width="1.3" height="1.3" fill="#222"/>
<rect x="711.4" y="1326.8" width="1.3" height="1.3" fill="#000"/>
<rect x="782" y="1327.4" width="1.3" height="1.3" fill="#222"/>
<rect x="774.8" y="1313.4" width="1.3" height="1.3" fill="#000"/>
<rect x="723.9" y="1312" width="1.3" height="1.3" fill="#555"/>
<rect x="716.1" y="1312.4" width="1.3" height="1.3" fill="#000"/>
<rect x="750.1" y="1309" width="1.3" height="1.3" fill="#000"/>
<rect x="717.2" y="1312" width="1.3" height="1.3" fill="#222"/>
<rect x="778.6" y="1330.4" width="1.3" height="1.3" fill="#555"/>
<rect x="778.2" y="1310.3" width="1.3" height="1.3" fill="#000"/>
<rect x="760.1" y="1305.7" width="1.3" height="1.3" fill="#222"/>
<rect x="728.9" y="1342.6" width="1.3" height="1.3" fill="#000"/>
<rect x="706.9" y="1310.6" width="1.3" height="1.3" fill="#222"/>
<rect x="750.1" y="1338.7" width="1.3" height="1.3" fill="#000"/>
<rect x="778.9" y="1316.5" width="1.3" height="1.3" fill="#555"/>
<rect x="792.4" y="1324.3" width="1.3" height="1.3" fill="#000"/>
<rect x="719.6" y="1312.5" width="1.3" height="1.3" fill="#222"/>
<rect x="742.6" y="1338.3" width="1.3" height="1.3" fill="#000"/>
<rect x="734.4" y="1310.2" width="1.3" height="1.3" fill="#000"/>
<rect x="778.8" y="1320.4" width="1.3" height="1.3" fill="#555"/>
<rect x="757.8" y="1308.9" width="1.3" height="1.3" fill="#222"/>
<rect x="721.6" y="1335" width="1.3" height="1.3" fill="#555"/>
<rect x="749.2" y="1343.4" width="1.3" height="1.3" fill="#000"/>
<rect x="721.6" y="1336.1" width="1.3" height="1.3" fill="#000"/>
<rect x="780.8" y="1308.8" width="1.3" height="1.3" fill="#000"/>
<rect x="760.9" y="1309" width="1.3" height="1.3" fill="#555"/>
<rect x="709.1" y="1322.6" width="1.3" height="1.3" fill="#555"/>
<rect x="782.2" y="1328" width="1.3" height="1.3" fill="#555"/>
<rect x="781.1" y="1329.2" width="1.3" height="1.3" fill="#222"/>
<rect x="719.3" y="1332.4" width="1.3" height="1.3" fill="#222"/>
<rect x="736.1" y="1304.9" width="1.3" height="1.3" fill="#222"/>
<rect x="722.5" y="1334.8" width="1.3" height="1.3" fill="#000"/>
<rect x="765.7" y="1310.4" width="1.3" height="1.3" fill="#000"/>
<rect x="706.3" y="1316.1" width="1.3" height="1.3" fill="#222"/>
<rect x="757.5" y="1308" width="1.3" height="1.3" fill="#000"/>
<rect x="756.7" y="1339.1" width="1.3" height="1.3" fill="#000"/>
<rect x="781.6" y="1321.2" width="1.3" height="1.3" fill="#555"/>
<rect x="701" y="1312.2" width="1.3" height="1.3" fill="#000"/>
<rect x="741" y="1341.1" width="1.3" height="1.3" fill="#222"/>
<rect x="712.8" y="1331.8" width="1.3" height="1.3" fill="#000"/>
<rect x="781.7" y="1328.8" width="1.3" height="1.3" fill="#000"/>
<rect x="769.3" y="1312.8" width="1.3" height="1.3" fill="#000"/>
<rect x="713.3" y="1333.4" width="1.3" height="1.3" fill="#000"/>
<rect x="762.9" y="1310.5" width="1.3" height="1.3" fill="#000"/>
<rect x="732.5" y="1338.4" width="1.3" height="1.3" fill="#222"/>
<rect x="751" y="1338.2" width="1.3" height="1.3" fill="#000"/>
<rect x="785.3" y="1321.7" width="1.3" height="1.3" fill="#555"/>
<rect x="730.3" y="1310.8" width="1.3" height="1.3" fill="#000"/>
<rect x="709.6" y="1329.8" width="1.3" height="1.3" fill="#000"/>
<rect x="703.1" y="1317" width="1.3" height="1.3" fill="#555"/>
<rect x="776" y="1336.4" width="1.3" height="1.3" fill="#222"/>
<rect x="770.4" y="1314.1" width="1.3" height="1.3" fill="#222"/>
<rect x="715.6" y="1310.7" width="1.3" height="1.3" fill="#222"/>
<rect x="729.4" y="1338.2" width="1.3" height="1.3" fill="#222"/>
<rect x="713.2" y="1318.3" width="1.3" height="1.3" fill="#000"/>
<rect x="779.9" y="1330.2" width="1.3" height="1.3" fill="#000"/>
<rect x="781.8" y="1324.2" width="1.3" height="1.3" fill="#222"/>
<rect x="708.3" y="1325.5" width="1.3" height="1.3" fill="#555"/>
<rect x="713.6" y="1325.2" width="1.3" height="1.3" fill="#555"/>
<rect x="720.8" y="1338.4" width="1.3" height="1.3" fill="#000"/>
<rect x="711.5" y="1318.9" width="1.3" height="1.3" fill="#222"/>
<rect x="737.6" y="1344" width="1.3" height="1.3" fill="#555"/>
<rect x="711.3" y="1316.6" width="1.3" height="1.3" fill="#000"/>
<rect x="762" y="1338.2" width="1.3" height="1.3" fill="#000"/>
<rect x="730.6" y="1311" width="1.3" height="1.3" fill="#222"/>
<rect x="725.2" y="1334.7" width="1.3" height="1.3" fill="#555"/>
<rect x="784.3" y="1324.9" width="1.3" height="1.3" fill="#000"/>
<rect x="783.3" y="1330.8" width="1.3" height="1.3" fill="#222"/>
<rect x="761.1" y="1306.6" width="1.3" height="1.3" fill="#555"/>
<rect x="715.7" y="1333.4" width="1.3" height="1.3" fill="#000"/>
<rect x="788" y="1315.9" width="1.3" height="1.3" fill="#555"/>
<rect x="718" y="1332.3" width="1.3" height="1.3" fill="#000"/>
<rect x="783.3" y="1324.8" width="1.3" height="1.3" fill="#000"/>
<rect x="750.9" y="1340.2" width="1.3" height="1.3" fill="#222"/>
<rect x="759.3" y="1308.8" width="1.3" height="1.3" fill="#222"/>
<rect x="718.5" y="1311.7" width="1.3" height="1.3" fill="#000"/>
<rect x="773.8" y="1315.4" width="1.3" height="1.3" fill="#222"/>
<rect x="718.5" y="1315.9" width="1.3" height="1.3" fill="#000"/>
<rect x="754.5" y="1339.7" width="1.3" height="1.3" fill="#000"/>
<rect x="712.8" y="1319.5" width="1.3" height="1.3" fill="#000"/>
<rect x="765.9" y="1337.1" width="1.3" height="1.3" fill="#222"/>
<rect x="726" y="1335.5" width="1.3" height="1.3" fill="#000"/>
<rect x="718.8" y="1331.9" width="1.3" height="1.3" fill="#222"/>
<rect x="782.9" y="1318.6" width="1.3" height="1.3" fill="#000"/>
<rect x="777.3" y="1310.8" width="1.3" height="1.3" fill="#222"/>
<rect x="782.9" y="1331.1" width="1.3" height="1.3" fill="#222"/>
<rect x="711.5" y="1330.8" width="1.3" height="1.3" fill="#000"/>
<rect x="710.3" y="1323.9" width="1.3" height="1.3" fill="#222"/>
<rect x="789.3" y="1332.8" width="1.3" height="1.3" fill="#555"/>
<rect x="777.9" y="1319" width="1.3" height="1.3" fill="#222"/>
<rect x="709.4" y="1321.3" width="1.3" height="1.3" fill="#000"/>
<rect x="767.7" y="1336.8" width="1.3" height="1.3" fill="#000"/>
<rect x="754.4" y="1339.9" width="1.3" height="1.3" fill="#222"/>
<rect x="775.2" y="1312.7" width="1.3" height="1.3" fill="#000"/>
<rect x="775" y="1336.1" width="1.3" height="1.3" fill="#555"/>
<rect x="702.3" y="1331.8" width="1.3" height="1.3" fill="#000"/>
<rect x="720.6" y="1334.6" width="1.3" height="1.3" fill="#000"/>
<rect x="702.7" y="1322" width="1.3" height="1.3" fill="#555"/>
<rect x="738.2" y="1338.4" width="1.3" height="1.3" fill="#000"/>
<rect x="715.5" y="1314.9" width="1.3" height="1.3" fill="#555"/>
<rect x="729.5" y="1336.9" width="1.3" height="1.3" fill="#222"/>
<rect x="742.7" y="1307.6" width="1.3" height="1.3" fill="#555"/>
<rect x="787.2" y="1330" width="1.3" height="1.3" fill="#000"/>
<rect x="746.1" y="1308.4" width="1.3" height="1.3" fill="#000"/>
<rect x="763.9" y="1311.1" width="1.3" height="1.3" fill="#000"/>
<rect x="762.1" y="1310.4" width="1.3" height="1.3" fill="#222"/>
<rect x="783.3" y="1330.9" width="1.3" height="1.3" fill="#000"/>
<rect x="737.8" y="1310.2" width="1.3" height="1.3" fill="#555"/>
<rect x="757.8" y="1343.4" width="1.3" height="1.3" fill="#000"/>
<rect x="768.2" y="1312.6" width="1.3" height="1.3" fill="#000"/>
<rect x="779.6" y="1331.2" width="1.3" height="1.3" fill="#555"/>
<rect x="754.3" y="1307.6" width="1.3" height="1.3" fill="#555"/>
<rect x="765.3" y="1312.6" width="1.3" height="1.3" fill="#000"/>
<rect x="756" y="1308.5" width="1.3" height="1.3" fill="#000"/>
<rect x="726.3" y="1338.3" width="1.3" height="1.3" fill="#222"/>
<rect x="777.4" y="1319.8" width="1.3" height="1.3" fill="#555"/>
<rect x="761.5" y="1339.1" width="1.3" height="1.3" fill="#555"/>
<rect x="780.5" y="1326.8" width="1.3" height="1.3" fill="#555"/>
<rect x="781.6" y="1331.5" width="1.3" height="1.3" fill="#000"/>
<rect x="706.2" y="1320.3" width="1.3" height="1.3" fill="#000"/>
<rect x="698.7" y="1315.7" width="1.3" height="1.3" fill="#555"/>
<rect x="718.8" y="1335" width="1.3" height="1.3" fill="#222"/>
<rect x="721.9" y="1307.9" width="1.3" height="1.3" fill="#000"/>
<rect x="734" y="1309.9" width="1.3" height="1.3" fill="#555"/>
<rect x="780.1" y="1327.8" width="1.3" height="1.3" fill="#222"/>
<rect x="777" y="1336.1" width="1.3" height="1.3" fill="#222"/>
<rect x="732.8" y="1338.5" width="1.3" height="1.3" fill="#000"/>
<rect x="782.2" y="1323.3" width="1.3" height="1.3" fill="#222"/>
<rect x="775.8" y="1309.7" width="1.3" height="1.3" fill="#555"/>
<rect x="757.1" y="1339.5" width="1.3" height="1.3" fill="#222"/>
<rect x="760.3" y="1310.1" width="1.3" height="1.3" fill="#555"/>
<rect x="739.2" y="1338.7" width="1.3" height="1.3" fill="#000"/>
<rect x="725.5" y="1336.4" width="1.3" height="1.3" fill="#555"/>
<rect x="749" y="1340.2" width="1.3" height="1.3" fill="#222"/>
<rect x="779" y="1319.2" width="1.3" height="1.3" fill="#000"/>
<rect x="723.3" y="1304.2" width="1.3" height="1.3" fill="#555"/>
<rect x="757.3" y="1339.2" width="1.3" height="1.3" fill="#555"/>
<rect x="717.5" y="1314.8" width="1.3" height="1.3" fill="#555"/>
<rect x="729" y="1336.3" width="1.3" height="1.3" fill="#555"/>
<rect x="727.4" y="1311.6" width="1.3" height="1.3" fill="#000"/>
<rect x="724.9" y="1306.9" width="1.3" height="1.3" fill="#000"/>
<rect x="784.9" y="1325.4" width="1.3" height="1.3" fill="#222"/>
<rect x="715.3" y="1335" width="1.3" height="1.3" fill="#222"/>
<rect x="724.5" y="1338" width="1.3" height="1.3" fill="#000"/>
<rect x="701.3" y="1318.1" width="1.3" height="1.3" fill="#000"/>
<rect x="711.5" y="1328.3" width="1.3" height="1.3" fill="#000"/>
<rect x="713.3" y="1338" width="1.3" height="1.3" fill="#222"/>
<rect x="783.9" y="1322.7" width="1.3" height="1.3" fill="#000"/>
<rect x="699.5" y="1327.7" width="1.3" height="1.3" fill="#222"/>
<rect x="765.2" y="1339.6" width="1.3" height="1.3" fill="#000"/>
<rect x="777.3" y="1321.2" width="1.3" height="1.3" fill="#000"/>
<rect x="789.3" y="1322.9" width="1.3" height="1.3" fill="#000"/>
<rect x="786.7" y="1323.5" width="1.3" height="1.3" fill="#000"/>
<rect x="785.4" y="1323.8" width="1.3" height="1.3" fill="#000"/>
<rect x="702" y="1321.7" width="1.3" height="1.3" fill="#000"/>
<rect x="708.8" y="1324.1" width="1.3" height="1.3" fill="#000"/>
<rect x="743.4" y="1306.1" width="1.3" height="1.3" fill="#000"/>
<rect x="787.3" y="1281.1" width="1.3" height="1.3" fill="#666"/>
<rect x="732.8" y="1234.7" width="1.3" height="1.3" fill="#999"/>
<rect x="753.2" y="1270" width="1.3" height="1.3" fill="#999"/>
<rect x="759.5" y="1296" width="1.3" height="1.3" fill="#666"/>
<rect x="780" y="1265.5" width="1.3" height="1.3" fill="#000"/>
<rect x="763.2" y="1293" width="1.3" height="1.3" fill="#000"/>
<rect x="753" y="1271.2" width="1.3" height="1.3" fill="#000"/>
<rect x="761.4" y="1286.1" width="1.3" height="1.3" fill="#000"/>
<rect x="740" y="1279" width="1.3" height="1.3" fill="#666"/>
<rect x="753.8" y="1265.2" width="1.3" height="1.3" fill="#999"/>
<rect x="710.6" y="1292.7" width="1.3" height="1.3" fill="#999"/>
<rect x="755.2" y="1288.2" width="1.3" height="1.3" fill="#333"/>
<rect x="755.9" y="1272.4" width="1.3" height="1.3" fill="#333"/>
<rect x="763.2" y="1300.3" width="1.3" height="1.3" fill="#333"/>
<rect x="736" y="1295.3" width="1.3" height="1.3" fill="#000"/>
<rect x="750.2" y="1281.5" width="1.3" height="1.3" fill="#333"/>
<rect x="754" y="1270.8" width="1.3" height="1.3" fill="#999"/>
<rect x="761.5" y="1300.5" width="1.3" height="1.3" fill="#000"/>
<rect x="738.5" y="1293.1" width="1.3" height="1.3" fill="#000"/>
<rect x="742.9" y="1290.8" width="1.3" height="1.3" fill="#333"/>
<rect x="751.5" y="1289.7" width="1.3" height="1.3" fill="#999"/>
<rect x="744.3" y="1300.4" width="1.3" height="1.3" fill="#333"/>
<rect x="737" y="1270.2" width="1.3" height="1.3" fill="#000"/>
<rect x="742.7" y="1290.4" width="1.3" height="1.3" fill="#666"/>
<rect x="753.1" y="1288.3" width="1.3" height="1.3" fill="#999"/>
<rect x="736.8" y="1299.2" width="1.3" height="1.3" fill="#666"/>
<rect x="747.7" y="1281.9" width="1.3" height="1.3" fill="#000"/>
<rect x="759.1" y="1296.8" width="1.3" height="1.3" fill="#666"/>
<rect x="744" y="1288.4" width="1.3" height="1.3" fill="#000"/>
<rect x="751.2" y="1275" width="1.3" height="1.3" fill="#666"/>
<rect x="741.9" y="1281.5" width="1.3" height="1.3" fill="#999"/>
<rect x="750.6" y="1260.8" width="1.3" height="1.3" fill="#000"/>
<rect x="770.8" y="1281.2" width="1.3" height="1.3" fill="#333"/>
<rect x="739.4" y="1300.2" width="1.3" height="1.3" fill="#666"/>
<rect x="757.2" y="1268.4" width="1.3" height="1.3" fill="#000"/>
<rect x="745.5" y="1301.5" width="1.3" height="1.3" fill="#666"/>
<rect x="757.8" y="1282.9" width="1.3" height="1.3" fill="#666"/>
<rect x="730.5" y="1260.6" width="1.3" height="1.3" fill="#999"/>
<rect x="743.9" y="1264.6" width="1.3" height="1.3" fill="#000"/>
<rect x="747.3" y="1309.4" width="1.3" height="1.3" fill="#000"/>
<rect x="744" y="1288.6" width="1.3" height="1.3" fill="#666"/>
<rect x="746.2" y="1295.4" width="1.3" height="1.3" fill="#333"/>
<rect x="756.8" y="1252.1" width="1.3" height="1.3" fill="#000"/>
<rect x="768.3" y="1280" width="1.3" height="1.3" fill="#999"/>
<rect x="739.4" y="1262.1" width="1.3" height="1.3" fill="#666"/>
<rect x="750.1" y="1276.7" width="1.3" height="1.3" fill="#333"/>
<rect x="750.7" y="1279" width="1.3" height="1.3" fill="#999"/>
<rect x="733.6" y="1294.8" width="1.3" height="1.3" fill="#000"/>
<rect x="754.7" y="1287.4" width="1.3" height="1.3" fill="#333"/>
<rect x="741" y="1295.1" width="1.3" height="1.3" fill="#999"/>
<rect x="756.8" y="1259.4" width="1.3" height="1.3" fill="#000"/>
<rect x="769.9" y="1237" width="1.3" height="1.3" fill="#666"/>
<rect x="743.1" y="1258.2" width="1.3" height="1.3" fill="#000"/>
<rect x="747.9" y="1260.7" width="1.3" height="1.3" fill="#000"/>
<rect x="760.5" y="1273.5" width="1.3" height="1.3" fill="#999"/>
<rect x="748.5" y="1289.8" width="1.3" height="1.3" fill="#000"/>
<rect x="758.3" y="1293.2" width="1.3" height="1.3" fill="#999"/>
<rect x="766.6" y="1284.2" width="1.3" height="1.3" fill="#999"/>
<rect x="758.7" y="1309.7" width="1.3" height="1.3" fill="#999"/>
<rect x="730.6" y="1281.2" width="1.3" height="1.3" fill="#999"/>
<rect x="736" y="1278.3" width="1.3" height="1.3" fill="#333"/>
<rect x="753.8" y="1262.5" width="1.3" height="1.3" fill="#000"/>
<rect x="747.2" y="1289.8" width="1.3" height="1.3" fill="#666"/>
<rect x="733.9" y="1305.2" width="1.3" height="1.3" fill="#999"/>
<rect x="734.2" y="1287.8" width="1.3" height="1.3" fill="#999"/>
<rect x="740.3" y="1300.6" width="1.3" height="1.3" fill="#999"/>
<rect x="748" y="1260.7" width="1.3" height="1.3" fill="#000"/>
<rect x="748.7" y="1266.2" width="1.3" height="1.3" fill="#666"/>
<rect x="743.5" y="1296.6" width="1.3" height="1.3" fill="#000"/>
<rect x="751.8" y="1287.3" width="1.3" height="1.3" fill="#666"/>
<rect x="736" y="1302.1" width="1.3" height="1.3" fill="#999"/>
<rect x="756.3" y="1276" width="1.3" height="1.3" fill="#333"/>
<rect x="782.3" y="1273.3" width="1.3" height="1.3" fill="#999"/>
<rect x="746.7" y="1286.5" width="1.3" height="1.3" fill="#333"/>
<rect x="752.1" y="1270.7" width="1.3" height="1.3" fill="#666"/>
<rect x="744" y="1280" width="1.3" height="1.3" fill="#666"/>
<rect x="735.9" y="1269.5" width="1.3" height="1.3" fill="#666"/>
<rect x="736.8" y="1281.4" width="1.3" height="1.3" fill="#666"/>
<rect x="754.2" y="1271.5" width="1.3" height="1.3" fill="#333"/>
<rect x="753.8" y="1293.1" width="1.3" height="1.3" fill="#666"/>
<rect x="769.3" y="1303.4" width="1.3" height="1.3" fill="#333"/>
<rect x="777.6" y="1253.2" width="1.3" height="1.3" fill="#666"/>
<rect x="749.7" y="1263.7" width="1.3" height="1.3" fill="#666"/>
<rect x="762.1" y="1292" width="1.3" height="1.3" fill="#333"/>
<rect x="741.6" y="1276.5" width="1.3" height="1.3" fill="#666"/>
<rect x="747.9" y="1305" width="1.3" height="1.3" fill="#666"/>
<rect x="740.9" y="1281.5" width="1.3" height="1.3" fill="#666"/>
<rect x="761.1" y="1233.9" width="1.3" height="1.3" fill="#333"/>
<rect x="757.8" y="1271.6" width="1.3" height="1.3" fill="#333"/>
<rect x="738.4" y="1264.1" width="1.3" height="1.3" fill="#333"/>
<rect x="731.9" y="1273.7" width="1.3" height="1.3" fill="#666"/>
<rect x="746.9" y="1299.8" width="1.3" height="1.3" fill="#666"/>
<rect x="741.9" y="1259.6" width="1.3" height="1.3" fill="#999"/>
<rect x="739.1" y="1285.6" width="1.3" height="1.3" fill="#333"/>
<rect x="767.6" y="1271.8" width="1.3" height="1.3" fill="#666"/>
<rect x="756.2" y="1274.8" width="1.3" height="1.3" fill="#000"/>
<rect x="723.5" y="1259.3" width="1.3" height="1.3" fill="#000"/>
<rect x="751.7" y="1281.4" width="1.3" height="1.3" fill="#000"/>
<rect x="756.5" y="1298" width="1.3" height="1.3" fill="#666"/>
<rect x="755.5" y="1274.9" width="1.3" height="1.3" fill="#000"/>
<rect x="761.2" y="1296" width="1.3" height="1.3" fill="#333"/>
<rect x="773.2" y="1276.7" width="1.3" height="1.3" fill="#000"/>
<rect x="732.5" y="1291.7" width="1.3" height="1.3" fill="#000"/>
<rect x="739.1" y="1276.9" width="1.3" height="1.3" fill="#999"/>
<rect x="777.7" y="1261.4" width="1.3" height="1.3" fill="#000"/>
<rect x="738" y="1291.5" width="1.3" height="1.3" fill="#000"/>
<rect x="750.8" y="1275.4" width="1.3" height="1.3" fill="#000"/>
<rect x="759.8" y="1292.7" width="1.3" height="1.3" fill="#666"/>
<rect x="754.1" y="1295.7" width="1.3" height="1.3" fill="#333"/>
<rect x="785.9" y="1272.7" width="1.3" height="1.3" fill="#333"/>
<rect x="772.6" y="1243.7" width="1.3" height="1.3" fill="#000"/>
<rect x="732.7" y="1257.5" width="1.3" height="1.3" fill="#666"/>
<rect x="757.4" y="1276.5" width="1.3" height="1.3" fill="#333"/>
<rect x="755.4" y="1278.7" width="1.3" height="1.3" fill="#000"/>
<rect x="748.5" y="1296.2" width="1.3" height="1.3" fill="#000"/>
<rect x="745.2" y="1285.8" width="1.3" height="1.3" fill="#333"/>
<rect x="745.6" y="1257.6" width="1.3" height="1.3" fill="#000"/>
<rect x="757.3" y="1280" width="1.3" height="1.3" fill="#333"/>
<rect x="778.2" y="1274.2" width="1.3" height="1.3" fill="#999"/>
<rect x="746.2" y="1291.4" width="1.3" height="1.3" fill="#999"/>
<rect x="775.9" y="1283.2" width="1.3" height="1.3" fill="#666"/>
<rect x="764.8" y="1285.7" width="1.3" height="1.3" fill="#666"/>
<rect x="739.1" y="1277.5" width="1.3" height="1.3" fill="#333"/>
<rect x="765.1" y="1271.3" width="1.3" height="1.3" fill="#333"/>
<rect x="758.3" y="1292.4" width="1.3" height="1.3" fill="#999"/>
<rect x="760.4" y="1307.6" width="1.3" height="1.3" fill="#666"/>
<rect x="736.9" y="1265.2" width="1.3" height="1.3" fill="#000"/>
<rect x="756.1" y="1293.3" width="1.3" height="1.3" fill="#666"/>
<rect x="729.1" y="1278" width="1.3" height="1.3" fill="#333"/>
<rect x="740.6" y="1248.6" width="1.3" height="1.3" fill="#000"/>
<rect x="772.9" y="1296.1" width="1.3" height="1.3" fill="#333"/>
<rect x="748" y="1282.2" width="1.3" height="1.3" fill="#333"/>
<rect x="743" y="1293.6" width="1.3" height="1.3" fill="#000"/>
<rect x="765.8" y="1278.8" width="1.3" height="1.3" fill="#333"/>
<rect x="733.8" y="1294.5" width="1.3" height="1.3" fill="#333"/>
<rect x="739" y="1310.1" width="1.3" height="1.3" fill="#999"/>
<rect x="767" y="1265.8" width="1.3" height="1.3" fill="#000"/>
<rect x="726.4" y="1285.6" width="1.3" height="1.3" fill="#000"/>
<rect x="755.4" y="1281.7" width="1.3" height="1.3" fill="#000"/>
<rect x="744.7" y="1285.3" width="1.3" height="1.3" fill="#000"/>
<rect x="783.4" y="1268.6" width="1.3" height="1.3" fill="#666"/>
<rect x="756.9" y="1288.3" width="1.3" height="1.3" fill="#666"/>
<rect x="760.6" y="1275.6" width="1.3" height="1.3" fill="#333"/>
<rect x="748.9" y="1266" width="1.3" height="1.3" fill="#999"/>
<rect x="736.8" y="1303.9" width="1.3" height="1.3" fill="#666"/>
<rect x="774.4" y="1276.7" width="1.3" height="1.3" fill="#000"/>
<rect x="760.8" y="1292.3" width="1.3" height="1.3" fill="#000"/>
<rect x="749.5" y="1304" width="1.3" height="1.3" fill="#999"/>
<rect x="753.3" y="1255.6" width="1.3" height="1.3" fill="#000"/>
<rect x="760.7" y="1287" width="1.3" height="1.3" fill="#000"/>
<rect x="785.6" y="1254.3" width="1.3" height="1.3" fill="#333"/>
<rect x="758.7" y="1295.1" width="1.3" height="1.3" fill="#000"/>
<rect x="767.3" y="1276.2" width="1.3" height="1.3" fill="#999"/>
<rect x="743.1" y="1282.8" width="1.3" height="1.3" fill="#999"/>
<rect x="755.1" y="1279.4" width="1.3" height="1.3" fill="#999"/>
<rect x="741" y="1275.6" width="1.3" height="1.3" fill="#000"/>
<rect x="762.6" y="1308.9" width="1.3" height="1.3" fill="#333"/>
<rect x="755" y="1278.9" width="1.3" height="1.3" fill="#999"/>
<rect x="757" y="1257.6" width="1.3" height="1.3" fill="#000"/>
<rect x="743.3" y="1282.8" width="1.3" height="1.3" fill="#000"/>
<rect x="732.2" y="1268.4" width="1.3" height="1.3" fill="#666"/>
<rect x="743.3" y="1267.7" width="1.3" height="1.3" fill="#666"/>
<rect x="763.4" y="1300.7" width="1.3" height="1.3" fill="#999"/>
<rect x="735.2" y="1291.4" width="1.3" height="1.3" fill="#666"/>
<rect x="769.4" y="1247" width="1.3" height="1.3" fill="#333"/>
<rect x="734.4" y="1285.1" width="1.3" height="1.3" fill="#666"/>
<rect x="755.1" y="1233.6" width="1.3" height="1.3" fill="#666"/>
<rect x="753.7" y="1306.4" width="1.3" height="1.3" fill="#333"/>
<rect x="748.2" y="1262.6" width="1.3" height="1.3" fill="#000"/>
<rect x="751.3" y="1278.8" width="1.3" height="1.3" fill="#999"/>
<rect x="736.7" y="1271.5" width="1.3" height="1.3" fill="#999"/>
<rect x="743.9" y="1252.9" width="1.3" height="1.3" fill="#999"/>
<rect x="749.8" y="1305.9" width="1.3" height="1.3" fill="#999"/>
<rect x="763.5" y="1286.1" width="1.3" height="1.3" fill="#999"/>
<rect x="759.2" y="1284.2" width="1.3" height="1.3" fill="#000"/>
<rect x="749.2" y="1301.2" width="1.3" height="1.3" fill="#000"/>
<rect x="751.1" y="1286.3" width="1.3" height="1.3" fill="#999"/>
<rect x="755.2" y="1265.4" width="1.3" height="1.3" fill="#000"/>
<rect x="736.1" y="1291.4" width="1.3" height="1.3" fill="#000"/>
<rect x="736" y="1281.5" width="1.3" height="1.3" fill="#666"/>
<rect x="743.6" y="1307.1" width="1.3" height="1.3" fill="#666"/>
<rect x="770.1" y="1267.1" width="1.3" height="1.3" fill="#999"/>
<rect x="764.8" y="1227.6" width="1.3" height="1.3" fill="#333"/>
<rect x="742.1" y="1247.2" width="1.3" height="1.3" fill="#666"/>
<rect x="761.2" y="1246.5" width="1.3" height="1.3" fill="#333"/>
<rect x="763.8" y="1295.3" width="1.3" height="1.3" fill="#333"/>
<rect x="776.5" y="1290" width="1.3" height="1.3" fill="#666"/>
<rect x="732.2" y="1285.2" width="1.3" height="1.3" fill="#999"/>
<rect x="770.3" y="1268.2" width="1.3" height="1.3" fill="#000"/>
<rect x="760.2" y="1278.3" width="1.3" height="1.3" fill="#666"/>
<rect x="780.2" y="1275.5" width="1.3" height="1.3" fill="#666"/>
<rect x="804.5" y="1339.7" width="1.3" height="1.3" fill="#666"/>
<rect x="824.5" y="1324.7" width="1.3" height="1.3" fill="#333"/>
<rect x="804.9" y="1311.1" width="1.3" height="1.3" fill="#666"/>
<rect x="821.1" y="1313.4" width="1.3" height="1.3" fill="#333"/>
<rect x="794.5" y="1317.1" width="1.3" height="1.3" fill="#666"/>
<rect x="804" y="1323.3" width="1.3" height="1.3" fill="#333"/>
<rect x="807.3" y="1339.8" width="1.3" height="1.3" fill="#333"/>
<rect x="799.2" y="1314.7" width="1.3" height="1.3" fill="#666"/>
<rect x="784" y="1329.2" width="1.3" height="1.3" fill="#333"/>
<rect x="792.2" y="1313.8" width="1.3" height="1.3" fill="#333"/>
<rect x="789.5" y="1346" width="1.3" height="1.3" fill="#333"/>
<rect x="796.3" y="1349.9" width="1.3" height="1.3" fill="#999"/>
<rect x="799.9" y="1336.6" width="1.3" height="1.3" fill="#333"/>
<rect x="799.3" y="1333" width="1.3" height="1.3" fill="#999"/>
<rect x="810.2" y="1325.8" width="1.3" height="1.3" fill="#333"/>
<rect x="816.3" y="1316.6" width="1.3" height="1.3" fill="#666"/>
<rect x="805.7" y="1313.8" width="1.3" height="1.3" fill="#666"/>
<rect x="810.8" y="1338.5" width="1.3" height="1.3" fill="#333"/>
<rect x="792.1" y="1330.1" width="1.3" height="1.3" fill="#666"/>
<rect x="817.4" y="1329" width="1.3" height="1.3" fill="#999"/>
<rect x="822.6" y="1310.8" width="1.3" height="1.3" fill="#999"/>
<rect x="792.7" y="1331.2" width="1.3" height="1.3" fill="#333"/>
<rect x="812.7" y="1304.4" width="1.3" height="1.3" fill="#333"/>
<rect x="815.7" y="1333.4" width="1.3" height="1.3" fill="#999"/>
<rect x="788" y="1333.1" width="1.3" height="1.3" fill="#999"/>
<rect x="819.7" y="1320.6" width="1.3" height="1.3" fill="#666"/>
<rect x="792.5" y="1320.6" width="1.3" height="1.3" fill="#333"/>
<rect x="796.1" y="1324.9" width="1.3" height="1.3" fill="#333"/>
<rect x="798.3" y="1321.8" width="1.3" height="1.3" fill="#666"/>
<rect x="809.3" y="1313.1" width="1.3" height="1.3" fill="#666"/>
<rect x="802.2" y="1343.7" width="1.3" height="1.3" fill="#333"/>
<rect x="800.8" y="1315.4" width="1.3" height="1.3" fill="#666"/>
<rect x="839.1" y="1322.3" width="1.3" height="1.3" fill="#333"/>
<rect x="833.1" y="1320.1" width="1.3" height="1.3" fill="#333"/>
<rect x="804.1" y="1325.8" width="1.3" height="1.3" fill="#666"/>
<rect x="799.9" y="1315.9" width="1.3" height="1.3" fill="#333"/>
<rect x="821.4" y="1325.7" width="1.3" height="1.3" fill="#999"/>
<rect x="805.8" y="1344.4" width="1.3" height="1.3" fill="#333"/>
<rect x="796.9" y="1313.4" width="1.3" height="1.3" fill="#333"/>
<rect x="820.4" y="1332.7" width="1.3" height="1.3" fill="#333"/>
<rect x="819.9" y="1329.8" width="1.3" height="1.3" fill="#333"/>
<rect x="787.9" y="1337" width="1.3" height="1.3" fill="#999"/>
<rect x="798.5" y="1326.9" width="1.3" height="1.3" fill="#333"/>
<ellipse cx="745.3" cy="1323.8" rx="32" ry="14" transform="rotate(0 745.3 1323.8)" fill="none" stroke="#999" stroke-width="1.1"/>
<ellipse cx="746.5" cy="1323.7" rx="28.6" ry="12.5" transform="rotate(0 746.5 1323.7)" fill="none" stroke="#999" stroke-width="1.1"/>
<ellipse cx="747.8" cy="1323.6" rx="25.3" ry="11.1" transform="rotate(0 747.8 1323.6)" fill="none" stroke="#999" stroke-width="1.1"/>
<ellipse cx="749" cy="1323.5" rx="21.9" ry="9.6" transform="rotate(0 749 1323.5)" fill="none" stroke="#999" stroke-width="1.1"/>
<ellipse cx="750.3" cy="1323.4" rx="18.6" ry="8.1" transform="rotate(0 750.3 1323.4)" fill="none" stroke="#999" stroke-width="1.1"/>
<ellipse cx="751.5" cy="1323.3" rx="15.2" ry="6.6" transform="rotate(0 751.5 1323.3)" fill="none" stroke="#999" stroke-width="1.1"/>
<ellipse cx="752.8" cy="1323.2" rx="11.8" ry="5.2" transform="rotate(0 752.8 1323.2)" fill="none" stroke="#999" stroke-width="1.1"/>
<ellipse cx="754" cy="1323.1" rx="8.5" ry="3.7" transform="rotate(0 754 1323.1)" fill="none" stroke="#999" stroke-width="1.1"/>
<ellipse cx="755.3" cy="1323" rx="5.1" ry="2.2" transform="rotate(0 755.3 1323)" fill="none" stroke="#999" stroke-width="1.1"/>
<rect x="779.3" y="1209.6" width="17.7" height="142" fill="none" stroke="#111" stroke-width="1.4"/>
<rect x="779.3" y="1279.8" width="68.1" height="71.8" fill="none" stroke="#111" stroke-width="1.4"/>
<text x="820.2" y="1203" font-size="28" text-anchor="middle" fill="#000" >I: 0%</text>
<text x="865.3" y="1266.6" font-size="28" text-anchor="middle" fill="#000" >II: 4.4%</text>
<rect x="779.3" y="1358" width="106.3" height="26" fill="#fff"/>
<text x="832.5" y="1380" font-size="28" text-anchor="middle" fill="#000" >III: 4.0%</text>
<text x="669.8" y="1171" font-size="22" text-anchor="end" textLength="21.3" lengthAdjust="spacingAndGlyphs" fill="#000" >10</text>
<text x="679.3" y="1165.2" font-size="13.5" text-anchor="end" fill="#000" >5</text>
<text x="669.8" y="1222.2" font-size="22" text-anchor="end" textLength="21.3" lengthAdjust="spacingAndGlyphs" fill="#000" >10</text>
<text x="679.3" y="1216.4" font-size="13.5" text-anchor="end" fill="#000" >4</text>
<text x="669.8" y="1276.9" font-size="22" text-anchor="end" textLength="21.3" lengthAdjust="spacingAndGlyphs" fill="#000" >10</text>
<text x="679.3" y="1271.1" font-size="13.5" text-anchor="end" fill="#000" >3</text>
<text x="671.5" y="1335" font-size="22" text-anchor="end" fill="#000" >0</text>
<text x="691.2" y="1401.1" font-size="22" text-anchor="end" fill="#000" >−</text>
<text x="713.8" y="1401.1" font-size="22" text-anchor="end" fill="#000" >10</text>
<text x="724.2" y="1395.3" font-size="12.5" text-anchor="end" fill="#000" >2</text>
<text x="744.8" y="1401.1" font-size="22" text-anchor="end" fill="#000" >0</text>
<text x="799.6" y="1126.7" font-size="28" text-anchor="middle" font-weight="bold" fill="#000" >Pre</text>
<line x1="621.8" y1="1433.3" x2="621.8" y2="1376" stroke="#000" stroke-width="1.8" />
<line x1="620.9" y1="1433.3" x2="680" y2="1433.3" stroke="#000" stroke-width="1.8" />
<path d="M621.8 1363 L613.8 1379 L629.8 1379 Z" fill="#000"/>
<path d="M692.8 1433.3 L676.6 1425.3 L676.6 1441.3 Z" fill="#000"/>
<text x="705.7" y="1441.2" font-size="28" text-anchor="start" textLength="126.5" lengthAdjust="spacingAndGlyphs" fill="#000" >FoxP3-PE</text>
<text x="634.2" y="1245" font-size="28" text-anchor="middle" transform="rotate(-90 634.2 1245)" textLength="199.6" lengthAdjust="spacingAndGlyphs" fill="#000" >CD45RA-BV711</text>
<path d="M1007.6 1369 H940.4 V1143.5 H1165.4 V1369 H1148" fill="none" stroke="#3a3a3a" stroke-width="1.3"/>
<line x1="933.8" y1="1163.6" x2="940.4" y2="1163.6" stroke="#111" stroke-width="2.0" />
<line x1="933.8" y1="1215.3" x2="940.4" y2="1215.3" stroke="#111" stroke-width="2.0" />
<line x1="933.8" y1="1270.2" x2="940.4" y2="1270.2" stroke="#111" stroke-width="2.0" />
<line x1="933.8" y1="1321.9" x2="940.4" y2="1321.9" stroke="#111" stroke-width="2.0" />
<line x1="933.8" y1="1352.6" x2="940.4" y2="1352.6" stroke="#111" stroke-width="2.0" />
<line x1="937" y1="1199.7" x2="940.4" y2="1199.7" stroke="#333" stroke-width="1.2" />
<line x1="937" y1="1190.6" x2="940.4" y2="1190.6" stroke="#333" stroke-width="1.2" />
<line x1="937" y1="1184.2" x2="940.4" y2="1184.2" stroke="#333" stroke-width="1.2" />
<line x1="937" y1="1179.2" x2="940.4" y2="1179.2" stroke="#333" stroke-width="1.2" />
<line x1="937" y1="1175.1" x2="940.4" y2="1175.1" stroke="#333" stroke-width="1.2" />
<line x1="937" y1="1171.6" x2="940.4" y2="1171.6" stroke="#333" stroke-width="1.2" />
<line x1="937" y1="1168.6" x2="940.4" y2="1168.6" stroke="#333" stroke-width="1.2" />
<line x1="937" y1="1166" x2="940.4" y2="1166" stroke="#333" stroke-width="1.2" />
<line x1="937" y1="1148" x2="940.4" y2="1148" stroke="#333" stroke-width="1.2" />
<line x1="937" y1="1253.7" x2="940.4" y2="1253.7" stroke="#333" stroke-width="1.2" />
<line x1="937" y1="1244" x2="940.4" y2="1244" stroke="#333" stroke-width="1.2" />
<line x1="937" y1="1237.1" x2="940.4" y2="1237.1" stroke="#333" stroke-width="1.2" />
<line x1="937" y1="1231.8" x2="940.4" y2="1231.8" stroke="#333" stroke-width="1.2" />
<line x1="937" y1="1227.5" x2="940.4" y2="1227.5" stroke="#333" stroke-width="1.2" />
<line x1="937" y1="1223.8" x2="940.4" y2="1223.8" stroke="#333" stroke-width="1.2" />
<line x1="937" y1="1220.6" x2="940.4" y2="1220.6" stroke="#333" stroke-width="1.2" />
<line x1="937" y1="1217.8" x2="940.4" y2="1217.8" stroke="#333" stroke-width="1.2" />
<line x1="937" y1="1285.3" x2="940.4" y2="1285.3" stroke="#333" stroke-width="1.2" />
<line x1="937" y1="1293.3" x2="940.4" y2="1293.3" stroke="#333" stroke-width="1.2" />
<line x1="937" y1="1300.2" x2="940.4" y2="1300.2" stroke="#333" stroke-width="1.2" />
<line x1="937" y1="1309.8" x2="940.4" y2="1309.8" stroke="#333" stroke-width="1.2" />
<line x1="937" y1="1316.4" x2="940.4" y2="1316.4" stroke="#333" stroke-width="1.2" />
<line x1="937" y1="1327" x2="940.4" y2="1327" stroke="#333" stroke-width="1.2" />
<line x1="937" y1="1330" x2="940.4" y2="1330" stroke="#333" stroke-width="1.2" />
<line x1="937" y1="1333" x2="940.4" y2="1333" stroke="#333" stroke-width="1.2" />
<line x1="937" y1="1336" x2="940.4" y2="1336" stroke="#333" stroke-width="1.2" />
<line x1="937" y1="1339" x2="940.4" y2="1339" stroke="#333" stroke-width="1.2" />
<line x1="937" y1="1342" x2="940.4" y2="1342" stroke="#333" stroke-width="1.2" />
<line x1="937" y1="1345" x2="940.4" y2="1345" stroke="#333" stroke-width="1.2" />
<line x1="937" y1="1348" x2="940.4" y2="1348" stroke="#333" stroke-width="1.2" />
<line x1="937" y1="1365.5" x2="940.4" y2="1365.5" stroke="#333" stroke-width="1.2" />
<line x1="934.9" y1="1326.9" x2="940.4" y2="1326.9" stroke="#222" stroke-width="1.0" />
<line x1="934.9" y1="1328.5" x2="940.4" y2="1328.5" stroke="#222" stroke-width="1.0" />
<line x1="934.9" y1="1330.1" x2="940.4" y2="1330.1" stroke="#222" stroke-width="1.0" />
<line x1="934.9" y1="1331.7" x2="940.4" y2="1331.7" stroke="#222" stroke-width="1.0" />
<line x1="934.9" y1="1333.3" x2="940.4" y2="1333.3" stroke="#222" stroke-width="1.0" />
<line x1="934.9" y1="1334.9" x2="940.4" y2="1334.9" stroke="#222" stroke-width="1.0" />
<line x1="934.9" y1="1336.5" x2="940.4" y2="1336.5" stroke="#222" stroke-width="1.0" />
<line x1="934.9" y1="1338.1" x2="940.4" y2="1338.1" stroke="#222" stroke-width="1.0" />
<line x1="934.9" y1="1339.7" x2="940.4" y2="1339.7" stroke="#222" stroke-width="1.0" />
<line x1="934.9" y1="1341.3" x2="940.4" y2="1341.3" stroke="#222" stroke-width="1.0" />
<line x1="953.3" y1="1369" x2="953.3" y2="1372.2" stroke="#333" stroke-width="1.2" />
<line x1="957" y1="1369" x2="957" y2="1372.2" stroke="#333" stroke-width="1.2" />
<line x1="961" y1="1369" x2="961" y2="1372.2" stroke="#333" stroke-width="1.2" />
<line x1="965" y1="1369" x2="965" y2="1372.2" stroke="#333" stroke-width="1.2" />
<line x1="969" y1="1369" x2="969" y2="1372.2" stroke="#333" stroke-width="1.2" />
<line x1="973" y1="1369" x2="973" y2="1372.2" stroke="#333" stroke-width="1.2" />
<line x1="977" y1="1369" x2="977" y2="1372.2" stroke="#333" stroke-width="1.2" />
<line x1="981" y1="1369" x2="981" y2="1372.2" stroke="#333" stroke-width="1.2" />
<line x1="992" y1="1369" x2="992" y2="1372.2" stroke="#333" stroke-width="1.2" />
<line x1="997" y1="1369" x2="997" y2="1372.2" stroke="#333" stroke-width="1.2" />
<line x1="1002" y1="1369" x2="1002" y2="1372.2" stroke="#333" stroke-width="1.2" />
<line x1="1006.5" y1="1369" x2="1006.5" y2="1372.2" stroke="#333" stroke-width="1.2" />
<line x1="1157.5" y1="1369" x2="1157.5" y2="1372.2" stroke="#333" stroke-width="1.2" />
<line x1="1163" y1="1369" x2="1163" y2="1372.2" stroke="#333" stroke-width="1.2" />
<line x1="985" y1="1369" x2="985" y2="1374" stroke="#111" stroke-width="1.6" />
<line x1="986.5" y1="1369" x2="986.5" y2="1374" stroke="#111" stroke-width="1.6" />
<line x1="988" y1="1369" x2="988" y2="1374" stroke="#111" stroke-width="1.6" />
<line x1="989.5" y1="1369" x2="989.5" y2="1374" stroke="#111" stroke-width="1.6" />
<line x1="991" y1="1369" x2="991" y2="1374" stroke="#111" stroke-width="1.6" />
<rect x="1023.4" y="1301.1" width="1.3" height="1.3" fill="#222"/>
<rect x="1028.8" y="1312.1" width="1.3" height="1.3" fill="#000"/>
<rect x="988.4" y="1353" width="1.3" height="1.3" fill="#555"/>
<rect x="999.4" y="1305.5" width="1.3" height="1.3" fill="#000"/>
<rect x="1007.3" y="1346.4" width="1.3" height="1.3" fill="#555"/>
<rect x="1019.6" y="1348.8" width="1.3" height="1.3" fill="#555"/>
<rect x="1017.7" y="1344.8" width="1.3" height="1.3" fill="#000"/>
<rect x="981.9" y="1340.5" width="1.3" height="1.3" fill="#222"/>
<rect x="975.2" y="1312.3" width="1.3" height="1.3" fill="#555"/>
<rect x="983.5" y="1309" width="1.3" height="1.3" fill="#555"/>
<rect x="1026.6" y="1306.6" width="1.3" height="1.3" fill="#000"/>
<rect x="996.6" y="1305.9" width="1.3" height="1.3" fill="#555"/>
<rect x="978.6" y="1338.5" width="1.3" height="1.3" fill="#000"/>
<rect x="973.4" y="1325.4" width="1.3" height="1.3" fill="#222"/>
<rect x="968.4" y="1321.4" width="1.3" height="1.3" fill="#222"/>
<rect x="1004.3" y="1300" width="1.3" height="1.3" fill="#222"/>
<rect x="1039.2" y="1333.6" width="1.3" height="1.3" fill="#222"/>
<rect x="1041.8" y="1317.8" width="1.3" height="1.3" fill="#000"/>
<rect x="1000.2" y="1301.3" width="1.3" height="1.3" fill="#000"/>
<rect x="1015" y="1303.8" width="1.3" height="1.3" fill="#555"/>
<rect x="1041.9" y="1329.9" width="1.3" height="1.3" fill="#222"/>
<rect x="1000.9" y="1305.4" width="1.3" height="1.3" fill="#555"/>
<rect x="1008.4" y="1346.1" width="1.3" height="1.3" fill="#000"/>
<rect x="1040.6" y="1316.9" width="1.3" height="1.3" fill="#000"/>
<rect x="1001" y="1298.7" width="1.3" height="1.3" fill="#000"/>
<rect x="1003.9" y="1349.3" width="1.3" height="1.3" fill="#222"/>
<rect x="973.1" y="1326.9" width="1.3" height="1.3" fill="#555"/>
<rect x="987.8" y="1311.5" width="1.3" height="1.3" fill="#222"/>
<rect x="1033.8" y="1305.3" width="1.3" height="1.3" fill="#000"/>
<rect x="979.4" y="1316.8" width="1.3" height="1.3" fill="#555"/>
<rect x="972.4" y="1336.7" width="1.3" height="1.3" fill="#000"/>
<rect x="1032.8" y="1314.2" width="1.3" height="1.3" fill="#222"/>
<rect x="980.5" y="1337.9" width="1.3" height="1.3" fill="#000"/>
<rect x="991.6" y="1309.2" width="1.3" height="1.3" fill="#000"/>
<rect x="986.5" y="1342.4" width="1.3" height="1.3" fill="#000"/>
<rect x="971" y="1325.4" width="1.3" height="1.3" fill="#555"/>
<rect x="984.7" y="1310.4" width="1.3" height="1.3" fill="#000"/>
<rect x="1017.5" y="1345.2" width="1.3" height="1.3" fill="#000"/>
<rect x="1036.3" y="1338" width="1.3" height="1.3" fill="#000"/>
<rect x="1006" y="1349.1" width="1.3" height="1.3" fill="#555"/>
<rect x="1040.7" y="1328.2" width="1.3" height="1.3" fill="#222"/>
<rect x="1022.7" y="1304.3" width="1.3" height="1.3" fill="#000"/>
<rect x="980" y="1313.9" width="1.3" height="1.3" fill="#000"/>
<rect x="1020" y="1303.8" width="1.3" height="1.3" fill="#222"/>
<rect x="1043.3" y="1323.2" width="1.3" height="1.3" fill="#222"/>
<rect x="976.4" y="1315.2" width="1.3" height="1.3" fill="#222"/>
<rect x="1013.4" y="1344.3" width="1.3" height="1.3" fill="#000"/>
<rect x="979.2" y="1308.8" width="1.3" height="1.3" fill="#222"/>
<rect x="1008.6" y="1303.4" width="1.3" height="1.3" fill="#000"/>
<rect x="1029.3" y="1310.1" width="1.3" height="1.3" fill="#000"/>
<rect x="973.5" y="1334.8" width="1.3" height="1.3" fill="#222"/>
<rect x="1024.1" y="1305.8" width="1.3" height="1.3" fill="#000"/>
<rect x="970.8" y="1334.6" width="1.3" height="1.3" fill="#000"/>
<rect x="1019.9" y="1305.1" width="1.3" height="1.3" fill="#000"/>
<rect x="1004.4" y="1301" width="1.3" height="1.3" fill="#000"/>
<rect x="1043" y="1335.6" width="1.3" height="1.3" fill="#000"/>
<rect x="979.7" y="1318.7" width="1.3" height="1.3" fill="#555"/>
<rect x="1039.5" y="1328.9" width="1.3" height="1.3" fill="#000"/>
<rect x="976.2" y="1342.9" width="1.3" height="1.3" fill="#222"/>
<rect x="1037.6" y="1325.9" width="1.3" height="1.3" fill="#000"/>
<rect x="991.1" y="1307" width="1.3" height="1.3" fill="#222"/>
<rect x="1015.4" y="1347.6" width="1.3" height="1.3" fill="#000"/>
<rect x="988.9" y="1345.4" width="1.3" height="1.3" fill="#222"/>
<rect x="998.9" y="1347.7" width="1.3" height="1.3" fill="#000"/>
<rect x="1036.2" y="1322" width="1.3" height="1.3" fill="#222"/>
<rect x="1025.7" y="1344.4" width="1.3" height="1.3" fill="#000"/>
<rect x="1021.7" y="1301.5" width="1.3" height="1.3" fill="#222"/>
<rect x="976" y="1324.6" width="1.3" height="1.3" fill="#555"/>
<rect x="988.8" y="1305.1" width="1.3" height="1.3" fill="#555"/>
<rect x="989.7" y="1342.9" width="1.3" height="1.3" fill="#222"/>
<rect x="970.6" y="1336.4" width="1.3" height="1.3" fill="#000"/>
<rect x="1002.1" y="1346" width="1.3" height="1.3" fill="#222"/>
<rect x="997.1" y="1353.4" width="1.3" height="1.3" fill="#555"/>
<rect x="1001.9" y="1346.7" width="1.3" height="1.3" fill="#000"/>
<rect x="984.4" y="1347.5" width="1.3" height="1.3" fill="#555"/>
<rect x="990.1" y="1306.9" width="1.3" height="1.3" fill="#555"/>
<rect x="1034.5" y="1332.5" width="1.3" height="1.3" fill="#000"/>
<rect x="1031.2" y="1329.5" width="1.3" height="1.3" fill="#000"/>
<rect x="973.6" y="1326.1" width="1.3" height="1.3" fill="#222"/>
<rect x="1038.8" y="1325.2" width="1.3" height="1.3" fill="#222"/>
<rect x="974.5" y="1328.4" width="1.3" height="1.3" fill="#000"/>
<rect x="1032.9" y="1322" width="1.3" height="1.3" fill="#000"/>
<rect x="1010.6" y="1303.9" width="1.3" height="1.3" fill="#555"/>
<rect x="967.4" y="1321.4" width="1.3" height="1.3" fill="#555"/>
<rect x="978" y="1318.5" width="1.3" height="1.3" fill="#000"/>
<rect x="1032.1" y="1328.9" width="1.3" height="1.3" fill="#000"/>
<rect x="988.5" y="1309.8" width="1.3" height="1.3" fill="#222"/>
<rect x="1039.6" y="1317.6" width="1.3" height="1.3" fill="#000"/>
<rect x="1035.6" y="1321.6" width="1.3" height="1.3" fill="#000"/>
<rect x="1012.2" y="1354.6" width="1.3" height="1.3" fill="#222"/>
<rect x="990.6" y="1350" width="1.3" height="1.3" fill="#000"/>
<rect x="1034" y="1317.1" width="1.3" height="1.3" fill="#000"/>
<rect x="1006.4" y="1347.7" width="1.3" height="1.3" fill="#000"/>
<rect x="1041.9" y="1328.2" width="1.3" height="1.3" fill="#000"/>
<rect x="996.9" y="1305.5" width="1.3" height="1.3" fill="#000"/>
<rect x="997.8" y="1298.6" width="1.3" height="1.3" fill="#555"/>
<rect x="976.6" y="1307.9" width="1.3" height="1.3" fill="#000"/>
<rect x="996" y="1345.4" width="1.3" height="1.3" fill="#000"/>
<rect x="980.5" y="1315.7" width="1.3" height="1.3" fill="#222"/>
<rect x="986.3" y="1342.1" width="1.3" height="1.3" fill="#222"/>
<rect x="983.3" y="1343.8" width="1.3" height="1.3" fill="#000"/>
<rect x="1011.1" y="1347.8" width="1.3" height="1.3" fill="#222"/>
<rect x="1004.8" y="1345.4" width="1.3" height="1.3" fill="#222"/>
<rect x="1020.2" y="1342.5" width="1.3" height="1.3" fill="#000"/>
<rect x="981" y="1347.4" width="1.3" height="1.3" fill="#000"/>
<rect x="1035.8" y="1317" width="1.3" height="1.3" fill="#555"/>
<rect x="1029.3" y="1313.1" width="1.3" height="1.3" fill="#555"/>
<rect x="976.9" y="1331.3" width="1.3" height="1.3" fill="#555"/>
<rect x="1027.2" y="1335" width="1.3" height="1.3" fill="#222"/>
<rect x="1035.4" y="1317.6" width="1.3" height="1.3" fill="#222"/>
<rect x="965.6" y="1322.1" width="1.3" height="1.3" fill="#000"/>
<rect x="1020.3" y="1348.6" width="1.3" height="1.3" fill="#000"/>
<rect x="976.5" y="1330.4" width="1.3" height="1.3" fill="#000"/>
<rect x="971.9" y="1339.4" width="1.3" height="1.3" fill="#555"/>
<rect x="993.9" y="1299.4" width="1.3" height="1.3" fill="#000"/>
<rect x="1031.3" y="1338.3" width="1.3" height="1.3" fill="#555"/>
<rect x="973.6" y="1335.5" width="1.3" height="1.3" fill="#000"/>
<rect x="1003.2" y="1300.4" width="1.3" height="1.3" fill="#000"/>
<rect x="988.9" y="1346.8" width="1.3" height="1.3" fill="#000"/>
<rect x="1026.5" y="1308.6" width="1.3" height="1.3" fill="#000"/>
<rect x="1046.3" y="1315.8" width="1.3" height="1.3" fill="#222"/>
<rect x="1038.9" y="1317.2" width="1.3" height="1.3" fill="#555"/>
<rect x="1044.3" y="1323" width="1.3" height="1.3" fill="#555"/>
<rect x="1044.2" y="1330.9" width="1.3" height="1.3" fill="#555"/>
<rect x="1043.9" y="1334.3" width="1.3" height="1.3" fill="#222"/>
<rect x="1055.2" y="1329.2" width="1.3" height="1.3" fill="#555"/>
<rect x="1032.6" y="1326.7" width="1.3" height="1.3" fill="#888"/>
<rect x="1031.1" y="1321.6" width="1.3" height="1.3" fill="#555"/>
<rect x="1030.6" y="1347" width="1.3" height="1.3" fill="#222"/>
<rect x="1042.8" y="1329.6" width="1.3" height="1.3" fill="#222"/>
<rect x="1044.4" y="1316" width="1.3" height="1.3" fill="#555"/>
<rect x="1044.5" y="1320.2" width="1.3" height="1.3" fill="#555"/>
<rect x="1045.7" y="1304.3" width="1.3" height="1.3" fill="#888"/>
<rect x="1050.2" y="1330.2" width="1.3" height="1.3" fill="#555"/>
<rect x="1038.4" y="1329.3" width="1.3" height="1.3" fill="#222"/>
<rect x="1033.6" y="1302.6" width="1.3" height="1.3" fill="#222"/>
<rect x="1036.3" y="1327.7" width="1.3" height="1.3" fill="#888"/>
<rect x="1054.7" y="1320.1" width="1.3" height="1.3" fill="#888"/>
<rect x="1032.1" y="1331.4" width="1.3" height="1.3" fill="#888"/>
<rect x="1049.5" y="1314.9" width="1.3" height="1.3" fill="#555"/>
<rect x="1057.2" y="1321.9" width="1.3" height="1.3" fill="#888"/>
<rect x="1038.6" y="1333.6" width="1.3" height="1.3" fill="#555"/>
<rect x="1030.5" y="1328.6" width="1.3" height="1.3" fill="#222"/>
<rect x="1042.2" y="1309.1" width="1.3" height="1.3" fill="#555"/>
<rect x="1035" y="1316.7" width="1.3" height="1.3" fill="#555"/>
<rect x="1048.6" y="1319.5" width="1.3" height="1.3" fill="#555"/>
<rect x="1047" y="1321.4" width="1.3" height="1.3" fill="#555"/>
<rect x="1033.2" y="1320.2" width="1.3" height="1.3" fill="#555"/>
<rect x="1032.3" y="1319.1" width="1.3" height="1.3" fill="#222"/>
<rect x="1050.3" y="1331.1" width="1.3" height="1.3" fill="#888"/>
<rect x="1036.6" y="1328.4" width="1.3" height="1.3" fill="#888"/>
<rect x="1037.9" y="1319.5" width="1.3" height="1.3" fill="#888"/>
<rect x="1054.1" y="1314.1" width="1.3" height="1.3" fill="#222"/>
<rect x="1037" y="1304.5" width="1.3" height="1.3" fill="#888"/>
<rect x="1033.1" y="1325.8" width="1.3" height="1.3" fill="#555"/>
<rect x="1040.8" y="1336.4" width="1.3" height="1.3" fill="#555"/>
<rect x="1051.3" y="1315.3" width="1.3" height="1.3" fill="#222"/>
<rect x="1048.6" y="1330.6" width="1.3" height="1.3" fill="#888"/>
<rect x="1049.1" y="1324" width="1.3" height="1.3" fill="#222"/>
<rect x="1034.3" y="1320.3" width="1.3" height="1.3" fill="#888"/>
<rect x="1029.2" y="1301" width="1.3" height="1.3" fill="#222"/>
<rect x="1048.7" y="1332.4" width="1.3" height="1.3" fill="#555"/>
<rect x="1035.4" y="1311.6" width="1.3" height="1.3" fill="#555"/>
<rect x="1042.9" y="1320.9" width="1.3" height="1.3" fill="#888"/>
<rect x="1046.4" y="1323" width="1.3" height="1.3" fill="#222"/>
<rect x="1044.5" y="1329" width="1.3" height="1.3" fill="#222"/>
<rect x="1037.5" y="1325.8" width="1.3" height="1.3" fill="#888"/>
<rect x="1034.9" y="1315" width="1.3" height="1.3" fill="#555"/>
<rect x="1028.8" y="1318" width="1.3" height="1.3" fill="#222"/>
<rect x="1029.2" y="1300.1" width="1.3" height="1.3" fill="#555"/>
<rect x="1033.1" y="1324.5" width="1.3" height="1.3" fill="#555"/>
<rect x="1038.7" y="1322.3" width="1.3" height="1.3" fill="#555"/>
<rect x="1046.2" y="1313.7" width="1.3" height="1.3" fill="#888"/>
<rect x="1043.9" y="1327.9" width="1.3" height="1.3" fill="#888"/>
<rect x="1048.3" y="1331" width="1.3" height="1.3" fill="#888"/>
<rect x="1039.5" y="1318.5" width="1.3" height="1.3" fill="#888"/>
<rect x="1031" y="1322.9" width="1.3" height="1.3" fill="#555"/>
<rect x="1042.3" y="1319.1" width="1.3" height="1.3" fill="#222"/>
<rect x="986.6" y="1333.5" width="1.3" height="1.3" fill="#222"/>
<rect x="960.4" y="1335.4" width="1.3" height="1.3" fill="#222"/>
<rect x="958.7" y="1317.8" width="1.3" height="1.3" fill="#555"/>
<rect x="968.9" y="1321.6" width="1.3" height="1.3" fill="#555"/>
<rect x="981.3" y="1324.6" width="1.3" height="1.3" fill="#222"/>
<rect x="982.3" y="1330.1" width="1.3" height="1.3" fill="#222"/>
<rect x="979.4" y="1334.8" width="1.3" height="1.3" fill="#888"/>
<rect x="973.4" y="1314.6" width="1.3" height="1.3" fill="#222"/>
<rect x="977.9" y="1342.7" width="1.3" height="1.3" fill="#888"/>
<rect x="984.7" y="1328.8" width="1.3" height="1.3" fill="#222"/>
<rect x="971.6" y="1335.8" width="1.3" height="1.3" fill="#222"/>
<rect x="977.6" y="1332.1" width="1.3" height="1.3" fill="#888"/>
<rect x="969" y="1340.6" width="1.3" height="1.3" fill="#222"/>
<rect x="987.5" y="1306.7" width="1.3" height="1.3" fill="#222"/>
<rect x="965" y="1331.9" width="1.3" height="1.3" fill="#555"/>
<rect x="979.4" y="1346.6" width="1.3" height="1.3" fill="#222"/>
<rect x="968.9" y="1333.4" width="1.3" height="1.3" fill="#555"/>
<rect x="967.2" y="1322.9" width="1.3" height="1.3" fill="#888"/>
<rect x="951" y="1343.8" width="1.3" height="1.3" fill="#222"/>
<rect x="978.6" y="1321.9" width="1.3" height="1.3" fill="#888"/>
<rect x="960" y="1328.6" width="1.3" height="1.3" fill="#555"/>
<rect x="975.1" y="1345.2" width="1.3" height="1.3" fill="#555"/>
<rect x="986.4" y="1318.6" width="1.3" height="1.3" fill="#555"/>
<rect x="975.6" y="1319.1" width="1.3" height="1.3" fill="#555"/>
<rect x="994.1" y="1309.3" width="1.3" height="1.3" fill="#222"/>
<rect x="969.1" y="1331.4" width="1.3" height="1.3" fill="#222"/>
<rect x="976.1" y="1338.9" width="1.3" height="1.3" fill="#555"/>
<rect x="957.7" y="1330.4" width="1.3" height="1.3" fill="#555"/>
<rect x="976.5" y="1334.6" width="1.3" height="1.3" fill="#222"/>
<rect x="991.2" y="1327.4" width="1.3" height="1.3" fill="#222"/>
<rect x="987" y="1337.6" width="1.3" height="1.3" fill="#888"/>
<rect x="959.4" y="1316.6" width="1.3" height="1.3" fill="#888"/>
<rect x="980.6" y="1309.8" width="1.3" height="1.3" fill="#555"/>
<rect x="960.5" y="1339.6" width="1.3" height="1.3" fill="#555"/>
<rect x="992.8" y="1318.9" width="1.3" height="1.3" fill="#222"/>
<rect x="968.3" y="1321.1" width="1.3" height="1.3" fill="#555"/>
<rect x="966.2" y="1326.5" width="1.3" height="1.3" fill="#888"/>
<rect x="964.7" y="1309.3" width="1.3" height="1.3" fill="#555"/>
<rect x="973.5" y="1326.7" width="1.3" height="1.3" fill="#555"/>
<rect x="1002.2" y="1295.1" width="1.3" height="1.3" fill="#222"/>
<rect x="1016.2" y="1285.2" width="1.3" height="1.3" fill="#555"/>
<rect x="989.7" y="1275.9" width="1.3" height="1.3" fill="#888"/>
<rect x="984.3" y="1286.7" width="1.3" height="1.3" fill="#888"/>
<rect x="994.8" y="1300.9" width="1.3" height="1.3" fill="#222"/>
<rect x="1015.9" y="1263.5" width="1.3" height="1.3" fill="#555"/>
<rect x="999.1" y="1302.9" width="1.3" height="1.3" fill="#222"/>
<rect x="987.6" y="1273.5" width="1.3" height="1.3" fill="#555"/>
<rect x="1002.7" y="1290" width="1.3" height="1.3" fill="#555"/>
<rect x="1028.5" y="1299.9" width="1.3" height="1.3" fill="#888"/>
<rect x="994.5" y="1287" width="1.3" height="1.3" fill="#555"/>
<rect x="994.3" y="1283.9" width="1.3" height="1.3" fill="#222"/>
<rect x="989" y="1288.7" width="1.3" height="1.3" fill="#555"/>
<rect x="1019" y="1288" width="1.3" height="1.3" fill="#888"/>
<rect x="998.1" y="1287.2" width="1.3" height="1.3" fill="#888"/>
<rect x="1021.2" y="1298.2" width="1.3" height="1.3" fill="#222"/>
<rect x="995.6" y="1289.8" width="1.3" height="1.3" fill="#888"/>
<rect x="976.8" y="1278" width="1.3" height="1.3" fill="#222"/>
<rect x="1006.1" y="1272.7" width="1.3" height="1.3" fill="#555"/>
<rect x="1013.7" y="1297.7" width="1.3" height="1.3" fill="#222"/>
<rect x="1015.1" y="1302.4" width="1.3" height="1.3" fill="#555"/>
<rect x="1013.5" y="1271.4" width="1.3" height="1.3" fill="#888"/>
<rect x="1075" y="1315" width="1.3" height="1.3" fill="#555"/>
<rect x="1087" y="1322" width="1.3" height="1.3" fill="#777"/>
<rect x="1073" y="1333" width="1.3" height="1.3" fill="#777"/>
<rect x="1082" y="1305" width="1.3" height="1.3" fill="#777"/>
<ellipse cx="1005" cy="1325.3" rx="28" ry="19.3" transform="rotate(-10 1005 1325.3)" fill="none" stroke="#999" stroke-width="1.1"/>
<ellipse cx="1005.2" cy="1325.3" rx="25.2" ry="17.4" transform="rotate(-10 1005.2 1325.3)" fill="none" stroke="#999" stroke-width="1.1"/>
<ellipse cx="1005.5" cy="1325.4" rx="22.4" ry="15.4" transform="rotate(-10 1005.5 1325.4)" fill="none" stroke="#999" stroke-width="1.1"/>
<ellipse cx="1005.8" cy="1325.5" rx="19.6" ry="13.5" transform="rotate(-10 1005.8 1325.5)" fill="none" stroke="#999" stroke-width="1.1"/>
<ellipse cx="1006" cy="1325.5" rx="16.8" ry="11.6" transform="rotate(-10 1006 1325.5)" fill="none" stroke="#999" stroke-width="1.1"/>
<ellipse cx="1006.2" cy="1325.5" rx="14" ry="9.7" transform="rotate(-10 1006.2 1325.5)" fill="none" stroke="#999" stroke-width="1.1"/>
<ellipse cx="1006.5" cy="1325.6" rx="11.2" ry="7.7" transform="rotate(-10 1006.5 1325.6)" fill="none" stroke="#999" stroke-width="1.1"/>
<ellipse cx="1006.8" cy="1325.6" rx="8.4" ry="5.8" transform="rotate(-10 1006.8 1325.6)" fill="none" stroke="#999" stroke-width="1.1"/>
<ellipse cx="1007" cy="1325.7" rx="5.6" ry="3.9" transform="rotate(-10 1007 1325.7)" fill="none" stroke="#999" stroke-width="1.1"/>
<rect x="1032.8" y="1210.6" width="22.4" height="141.6" fill="none" stroke="#111" stroke-width="1.4"/>
<rect x="1032.8" y="1280.5" width="81.8" height="71.7" fill="none" stroke="#111" stroke-width="1.4"/>
<text x="1069.4" y="1201.5" font-size="28" text-anchor="middle" fill="#000" >I: 0%</text>
<text x="1115.2" y="1265.5" font-size="28" text-anchor="middle" fill="#000" >II: 3.8%</text>
<rect x="1029.2" y="1358.3" width="105.4" height="26" fill="#fff"/>
<text x="1081.9" y="1380.3" font-size="28" text-anchor="middle" fill="#000" >III: 3.1%</text>
<line x1="1055.2" y1="1210.6" x2="1055.2" y2="1352.2" stroke="#000" stroke-width="2.2" />
<text x="1048.7" y="1127.1" font-size="28" text-anchor="middle" font-weight="bold" fill="#000" >Post</text>
<text x="1060.4" y="1431.5" font-size="28" text-anchor="middle" fill="#000" >(Gated on</text>
<text x="1080.6" y="1464.3" font-size="28" text-anchor="middle" fill="#000" >CD4<tspan font-size="20" dy="-7">+</tspan><tspan dy="7"> </tspan>T cells)</text>
<line x1="1260.1" y1="1143.9" x2="1260.1" y2="1428.9" stroke="#000" stroke-width="3.0" />
<line x1="1248" y1="1427.4" x2="1400.5" y2="1427.4" stroke="#000" stroke-width="3.0" />
<line x1="1248" y1="1145.2" x2="1260.1" y2="1145.2" stroke="#000" stroke-width="3.0" />
<text x="1241.3" y="1155.4" font-size="28" text-anchor="end" fill="#000" >8</text>
<line x1="1248" y1="1215.8" x2="1260.1" y2="1215.8" stroke="#000" stroke-width="3.0" />
<text x="1241.3" y="1226" font-size="28" text-anchor="end" fill="#000" >6</text>
<line x1="1248" y1="1286.3" x2="1260.1" y2="1286.3" stroke="#000" stroke-width="3.0" />
<text x="1241.3" y="1296.5" font-size="28" text-anchor="end" fill="#000" >4</text>
<line x1="1248" y1="1356.9" x2="1260.1" y2="1356.9" stroke="#000" stroke-width="3.0" />
<text x="1241.3" y="1367.1" font-size="28" text-anchor="end" fill="#000" >2</text>
<line x1="1248" y1="1427.4" x2="1260.1" y2="1427.4" stroke="#000" stroke-width="3.0" />
<text x="1241.3" y="1437.6" font-size="28" text-anchor="end" fill="#000" >0</text>
<line x1="1280.8" y1="1427.4" x2="1280.8" y2="1439.9" stroke="#000" stroke-width="3.0" />
<line x1="1329.6" y1="1427.4" x2="1329.6" y2="1439.9" stroke="#000" stroke-width="3.0" />
<line x1="1379" y1="1427.4" x2="1379" y2="1439.9" stroke="#000" stroke-width="3.0" />
<text x="1327.8" y="1117.8" font-size="28" text-anchor="middle" font-weight="bold" textLength="176.7" lengthAdjust="spacingAndGlyphs" fill="#000" >Tumor tissue</text>
<rect x="1316" y="1209" width="11" height="218.9" fill="#0a0c0c"/>
<rect x="1364.9" y="1228.8" width="11" height="199.1" fill="#0a0c0c"/>
<rect x="1335.3" y="1396.8" width="9.2" height="31.1" fill="#f4f5f8" stroke="#000" stroke-width="2.4"/>
<rect x="1384" y="1402.8" width="9.2" height="25.1" fill="#f4f5f8" stroke="#000" stroke-width="2.4"/>
<text x="1286.9" y="1409.2" font-size="28" text-anchor="middle" fill="#000" >N/A</text>
<rect x="1393.9" y="1147.6" width="34.7" height="18" fill="#0a0c0c"/>
<rect x="1395.1" y="1186.2" width="32.3" height="15.3" fill="#fff" stroke="#000" stroke-width="2.4"/>
<text x="1444" y="1165.2" font-size="28" text-anchor="start" fill="#000" >Pre</text>
<text x="1444" y="1202.5" font-size="28" text-anchor="start" fill="#000" >Post</text>
<text x="1204.8" y="1284" font-size="28" text-anchor="middle" transform="rotate(-90 1204.8 1284)" fill="#000" >Cells / 40 mg</text>
<text x="1299.5" y="1462.2" font-size="28" text-anchor="end" transform="rotate(-36 1299.5 1462.2)" fill="#000" >Fr. I</text>
<text x="1351.8" y="1459.2" font-size="28" text-anchor="end" transform="rotate(-36 1351.8 1459.2)" fill="#000" >Fr. II</text>
<text x="1412.4" y="1458" font-size="28" text-anchor="end" transform="rotate(-36 1412.4 1458)" fill="#000" >Fr. III</text>
<line x1="156" y1="1645.8" x2="156" y2="1917.2" stroke="#000" stroke-width="3.0" />
<line x1="150" y1="1915.7" x2="692.7" y2="1915.7" stroke="#000" stroke-width="3.0" />
<line x1="150" y1="1647.1" x2="156" y2="1647.1" stroke="#000" stroke-width="3.0" />
<text x="145.5" y="1656.7" font-size="28" text-anchor="end" fill="#000" >8</text>
<line x1="150" y1="1714.2" x2="156" y2="1714.2" stroke="#000" stroke-width="3.0" />
<text x="145.5" y="1723.8" font-size="28" text-anchor="end" fill="#000" >6</text>
<line x1="150" y1="1781.4" x2="156" y2="1781.4" stroke="#000" stroke-width="3.0" />
<text x="145.5" y="1791" font-size="28" text-anchor="end" fill="#000" >4</text>
<line x1="150" y1="1848.5" x2="156" y2="1848.5" stroke="#000" stroke-width="3.0" />
<text x="145.5" y="1858.1" font-size="28" text-anchor="end" fill="#000" >2</text>
<line x1="150" y1="1915.7" x2="156" y2="1915.7" stroke="#000" stroke-width="3.0" />
<text x="145.5" y="1925.3" font-size="28" text-anchor="end" fill="#000" >0</text>
<line x1="174.9" y1="1915.7" x2="174.9" y2="1921.5" stroke="#000" stroke-width="3.0" />
<text x="174.9" y="1947.2" font-size="28" text-anchor="middle" fill="#000" >0</text>
<line x1="213.3" y1="1915.7" x2="213.3" y2="1921.5" stroke="#000" stroke-width="3.0" />
<text x="213.3" y="1947.2" font-size="28" text-anchor="middle" fill="#000" >9</text>
<line x1="251.6" y1="1915.7" x2="251.6" y2="1921.5" stroke="#000" stroke-width="3.0" />
<text x="251.6" y="1947.2" font-size="28" text-anchor="middle" fill="#000" >16</text>
<line x1="290" y1="1915.7" x2="290" y2="1921.5" stroke="#000" stroke-width="3.0" />
<text x="290" y="1947.2" font-size="28" text-anchor="middle" fill="#000" >20</text>
<line x1="328.3" y1="1915.7" x2="328.3" y2="1921.5" stroke="#000" stroke-width="3.0" />
<text x="328.3" y="1947.2" font-size="28" text-anchor="middle" fill="#000" >24</text>
<line x1="366.7" y1="1915.7" x2="366.7" y2="1921.5" stroke="#000" stroke-width="3.0" />
<text x="366.7" y="1947.2" font-size="28" text-anchor="middle" fill="#000" >28</text>
<line x1="405.1" y1="1915.7" x2="405.1" y2="1921.5" stroke="#000" stroke-width="3.0" />
<text x="405.1" y="1947.2" font-size="28" text-anchor="middle" fill="#000" >32</text>
<line x1="443.4" y1="1915.7" x2="443.4" y2="1921.5" stroke="#000" stroke-width="3.0" />
<text x="443.4" y="1947.2" font-size="28" text-anchor="middle" fill="#000" >36</text>
<line x1="481.8" y1="1915.7" x2="481.8" y2="1921.5" stroke="#000" stroke-width="3.0" />
<text x="481.8" y="1947.2" font-size="28" text-anchor="middle" fill="#000" >40</text>
<line x1="520.1" y1="1915.7" x2="520.1" y2="1921.5" stroke="#000" stroke-width="3.0" />
<text x="520.1" y="1947.2" font-size="28" text-anchor="middle" fill="#000" >44</text>
<line x1="558.5" y1="1915.7" x2="558.5" y2="1921.5" stroke="#000" stroke-width="3.0" />
<text x="558.5" y="1947.2" font-size="28" text-anchor="middle" fill="#000" >52</text>
<line x1="596.9" y1="1915.7" x2="596.9" y2="1921.5" stroke="#000" stroke-width="3.0" />
<text x="596.9" y="1947.2" font-size="28" text-anchor="middle" fill="#000" >56</text>
<line x1="635.2" y1="1915.7" x2="635.2" y2="1921.5" stroke="#000" stroke-width="3.0" />
<text x="635.2" y="1947.2" font-size="28" text-anchor="middle" fill="#000" >60</text>
<line x1="673.6" y1="1915.7" x2="673.6" y2="1921.5" stroke="#000" stroke-width="3.0" />
<text x="673.6" y="1947.2" font-size="28" text-anchor="middle" fill="#000" >64</text>
<text x="737.5" y="1945.6" font-size="28" text-anchor="middle" fill="#000" >(wk)</text>
<text x="71.2" y="1788" font-size="28" text-anchor="middle" transform="rotate(-90 71.2 1788)" fill="#000" >% of eTreg cells</text>
<text x="104.8" y="1795" font-size="28" text-anchor="middle" transform="rotate(-90 104.8 1795)" fill="#000" >in CD4<tspan font-size="20" dy="-7">+</tspan><tspan dy="7"> </tspan>T cells</text>
<path d="M174.9 1890.2 L213.3 1914 L251.6 1903.9 L290 1905.6 L366.7 1912.3" fill="none" stroke="#2a4ca6" stroke-width="2.3" stroke-linejoin="round"/>
<path d="M174.9 1874.1 L213.3 1912.3 L251.6 1905.6 L366.7 1909" fill="none" stroke="#2a4ca6" stroke-width="2.3" stroke-linejoin="round"/>
<path d="M174.9 1860.3 L213.3 1915.7 L251.6 1914 L290 1895.6 L366.7 1914" fill="none" stroke="#2a4ca6" stroke-width="2.3" stroke-linejoin="round"/>
<path d="M174.9 1874.1 L213.3 1903.9 L251.6 1855.3 L290 1875.4 L328.3 1840.5 L366.7 1825.4" fill="none" stroke="#2a4ca6" stroke-width="2.6" stroke-dasharray="0.01 4.3" stroke-linecap="round"/>
<path d="M174.9 1686 L213.3 1910.7 L251.6 1890.2 L290 1745.8" fill="none" stroke="#e8302a" stroke-width="2.6" stroke-dasharray="0.01 4.3" stroke-linecap="round"/>
<path d="M174.9 1788.1 L213.3 1887.8 L251.6 1872.7 L366.7 1726.3" fill="none" stroke="#e8302a" stroke-width="2.6" stroke-dasharray="0.01 4.3" stroke-linecap="round"/>
<path d="M174.9 1862 L213.3 1910.7 L251.6 1909 L290 1906 L328.3 1887.5 L366.7 1915.7 L405.1 1876.1 L443.4 1879.8 L481.8 1819.7 L520.1 1885.5 L558.5 1883.8 L596.9 1900.3 L635.2 1905.3 L673.6 1910.7" fill="none" stroke="#e8302a" stroke-width="2.3" stroke-linejoin="round"/>
<path d="M174.9 1728.4 L213.3 1907.6 L251.6 1909.7 L290 1913.3 L328.3 1890.9 L366.7 1904.6" fill="none" stroke="#e8302a" stroke-width="2.3" stroke-linejoin="round"/>
<path d="M174.9 1788.1 L213.3 1897.6 L251.6 1897.6 L443.4 1899.9" fill="none" stroke="#2a4ca6" stroke-width="2.3" stroke-linejoin="round"/>
<path d="M174.9 1897.7 L181.5 1885.5 L168.3 1885.5 Z" fill="#2a4ca6"/>
<path d="M213.3 1921.6 L219.9 1909.4 L206.7 1909.4 Z" fill="#2a4ca6"/>
<path d="M251.6 1911.5 L258.2 1899.3 L245 1899.3 Z" fill="#2a4ca6"/>
<path d="M290 1913.2 L296.6 1901 L283.4 1901 Z" fill="#2a4ca6"/>
<path d="M366.7 1919.9 L373.3 1907.7 L360.1 1907.7 Z" fill="#2a4ca6"/>
<path d="M174.9 1866.5 L181.5 1878.7 L168.3 1878.7 Z" fill="#2a4ca6"/>
<path d="M213.3 1904.8 L219.9 1917 L206.7 1917 Z" fill="#2a4ca6"/>
<path d="M251.6 1898.1 L258.2 1910.3 L245 1910.3 Z" fill="#2a4ca6"/>
<path d="M366.7 1901.4 L373.3 1913.6 L360.1 1913.6 Z" fill="#2a4ca6"/>
<rect x="168.6" y="1854" width="12.6" height="12.6" fill="#fff" stroke="#2a4ca6" stroke-width="2.3"/>
<rect x="207" y="1909.4" width="12.6" height="12.6" fill="#fff" stroke="#2a4ca6" stroke-width="2.3"/>
<rect x="245.3" y="1907.7" width="12.6" height="12.6" fill="#fff" stroke="#2a4ca6" stroke-width="2.3"/>
<rect x="283.7" y="1889.3" width="12.6" height="12.6" fill="#fff" stroke="#2a4ca6" stroke-width="2.3"/>
<rect x="360.4" y="1907.7" width="12.6" height="12.6" fill="#fff" stroke="#2a4ca6" stroke-width="2.3"/>
<path d="M213.3 1896.8 L219.7 1908.4 L206.9 1908.4 Z" fill="#fff" stroke="#2a4ca6" stroke-width="2.3" stroke-linejoin="miter"/>
<path d="M251.6 1848.1 L258 1859.7 L245.2 1859.7 Z" fill="#fff" stroke="#2a4ca6" stroke-width="2.3" stroke-linejoin="miter"/>
<path d="M290 1868.2 L296.4 1879.8 L283.6 1879.8 Z" fill="#fff" stroke="#2a4ca6" stroke-width="2.3" stroke-linejoin="miter"/>
<path d="M328.3 1833.3 L334.7 1844.9 L321.9 1844.9 Z" fill="#fff" stroke="#2a4ca6" stroke-width="2.3" stroke-linejoin="miter"/>
<path d="M366.7 1818.2 L373.1 1829.8 L360.3 1829.8 Z" fill="#fff" stroke="#2a4ca6" stroke-width="2.3" stroke-linejoin="miter"/>
<path d="M174.9 1693.2 L181.3 1681.6 L168.5 1681.6 Z" fill="#fff" stroke="#e8302a" stroke-width="2.3" stroke-linejoin="miter"/>
<path d="M213.3 1917.9 L219.7 1906.3 L206.9 1906.3 Z" fill="#fff" stroke="#e8302a" stroke-width="2.3" stroke-linejoin="miter"/>
<path d="M251.6 1897.4 L258 1885.8 L245.2 1885.8 Z" fill="#fff" stroke="#e8302a" stroke-width="2.3" stroke-linejoin="miter"/>
<path d="M290 1753 L296.4 1741.4 L283.6 1741.4 Z" fill="#fff" stroke="#e8302a" stroke-width="2.3" stroke-linejoin="miter"/>
<circle cx="174.9" cy="1788.1" r="5.9" fill="#fff" stroke="#e8302a" stroke-width="2.3"/>
<circle cx="213.3" cy="1887.8" r="5.9" fill="#fff" stroke="#e8302a" stroke-width="2.3"/>
<circle cx="251.6" cy="1872.7" r="5.9" fill="#fff" stroke="#e8302a" stroke-width="2.3"/>
<circle cx="366.7" cy="1726.3" r="5.9" fill="#fff" stroke="#e8302a" stroke-width="2.3"/>
<path d="M174.9 1854.4 L181.5 1866.6 L168.3 1866.6 Z" fill="#e8302a"/>
<path d="M213.3 1903.1 L219.9 1915.3 L206.7 1915.3 Z" fill="#e8302a"/>
<path d="M251.6 1901.4 L258.2 1913.6 L245 1913.6 Z" fill="#e8302a"/>
<path d="M290 1898.4 L296.6 1910.6 L283.4 1910.6 Z" fill="#e8302a"/>
<path d="M328.3 1879.9 L334.9 1892.1 L321.7 1892.1 Z" fill="#e8302a"/>
<path d="M366.7 1908.1 L373.3 1920.3 L360.1 1920.3 Z" fill="#e8302a"/>
<path d="M405.1 1868.5 L411.7 1880.7 L398.5 1880.7 Z" fill="#e8302a"/>
<path d="M443.4 1872.2 L450 1884.4 L436.8 1884.4 Z" fill="#e8302a"/>
<path d="M481.8 1812.1 L488.4 1824.3 L475.2 1824.3 Z" fill="#e8302a"/>
<path d="M520.1 1877.9 L526.7 1890.1 L513.5 1890.1 Z" fill="#e8302a"/>
<path d="M558.5 1876.2 L565.1 1888.4 L551.9 1888.4 Z" fill="#e8302a"/>
<path d="M596.9 1892.7 L603.5 1904.9 L590.3 1904.9 Z" fill="#e8302a"/>
<path d="M635.2 1897.7 L641.8 1909.9 L628.6 1909.9 Z" fill="#e8302a"/>
<path d="M673.6 1903.1 L680.2 1915.3 L667 1915.3 Z" fill="#e8302a"/>
<rect x="168.2" y="1721.7" width="13.4" height="13.4" fill="#e8302a"/>
<rect x="206.6" y="1900.9" width="13.4" height="13.4" fill="#e8302a"/>
<rect x="244.9" y="1903" width="13.4" height="13.4" fill="#e8302a"/>
<rect x="283.3" y="1906.6" width="13.4" height="13.4" fill="#e8302a"/>
<rect x="321.6" y="1884.2" width="13.4" height="13.4" fill="#e8302a"/>
<rect x="360" y="1897.9" width="13.4" height="13.4" fill="#e8302a"/>
<circle cx="174.9" cy="1788.1" r="6.6" fill="#2a4ca6" stroke="none" stroke-width="0"/>
<circle cx="213.3" cy="1897.6" r="6.6" fill="#2a4ca6" stroke="none" stroke-width="0"/>
<circle cx="251.6" cy="1897.6" r="6.6" fill="#2a4ca6" stroke="none" stroke-width="0"/>
<circle cx="443.4" cy="1899.9" r="6.6" fill="#2a4ca6" stroke="none" stroke-width="0"/>
<path d="M174.9 1865.8 L181.5 1878 L168.3 1878 Z" fill="#2a4ca6"/>
<rect x="450.9" y="1617.8" width="249.6" height="96" fill="none" stroke="#000" stroke-width="2.2"/>
<line x1="459.3" y1="1647.5" x2="490.7" y2="1647.5" stroke="#e8302a" stroke-width="3.4" />
<line x1="459.3" y1="1689.4" x2="490.7" y2="1689.4" stroke="#2a4ca6" stroke-width="3.4" />
<text x="590.4" y="1654.7" font-size="28" text-anchor="middle" fill="#000" >Long survivors</text>
<text x="591.5" y="1696.9" font-size="28" text-anchor="middle" fill="#000" >Short survivors</text>
<line x1="382.3" y1="1727.5" x2="790" y2="1728.2" stroke="#000" stroke-width="2.6" />
<path d="M812.3 1728.3 L784.3 1719.8 L784.3 1736.8 Z" fill="#000"/>
<line x1="928.4" y1="1673.4" x2="928.4" y2="1875" stroke="#000" stroke-width="3.0" />
<line x1="922.9" y1="1873.5" x2="1226.2" y2="1873.5" stroke="#000" stroke-width="3.0" />
<line x1="922.9" y1="1674.7" x2="928.4" y2="1674.7" stroke="#000" stroke-width="3.0" />
<text x="917.9" y="1683.4" font-size="28" text-anchor="end" fill="#000" >500</text>
<line x1="922.9" y1="1714.5" x2="928.4" y2="1714.5" stroke="#000" stroke-width="3.0" />
<text x="917.9" y="1723.2" font-size="28" text-anchor="end" fill="#000" >400</text>
<line x1="922.9" y1="1754.2" x2="928.4" y2="1754.2" stroke="#000" stroke-width="3.0" />
<text x="917.9" y="1762.9" font-size="28" text-anchor="end" fill="#000" >300</text>
<line x1="922.9" y1="1794" x2="928.4" y2="1794" stroke="#000" stroke-width="3.0" />
<text x="917.9" y="1802.7" font-size="28" text-anchor="end" fill="#000" >200</text>
<line x1="922.9" y1="1833.7" x2="928.4" y2="1833.7" stroke="#000" stroke-width="3.0" />
<text x="917.9" y="1842.4" font-size="28" text-anchor="end" fill="#000" >100</text>
<line x1="922.9" y1="1873.5" x2="928.4" y2="1873.5" stroke="#000" stroke-width="3.0" />
<text x="917.9" y="1882.2" font-size="28" text-anchor="end" fill="#000" >0</text>
<line x1="953.1" y1="1873.5" x2="953.1" y2="1880" stroke="#000" stroke-width="3.0" />
<line x1="1002.8" y1="1873.5" x2="1002.8" y2="1880" stroke="#000" stroke-width="3.0" />
<line x1="1052.1" y1="1873.5" x2="1052.1" y2="1880" stroke="#000" stroke-width="3.0" />
<line x1="1101.8" y1="1873.5" x2="1101.8" y2="1880" stroke="#000" stroke-width="3.0" />
<line x1="1151.5" y1="1873.5" x2="1151.5" y2="1880" stroke="#000" stroke-width="3.0" />
<line x1="1200.8" y1="1873.5" x2="1200.8" y2="1880" stroke="#000" stroke-width="3.0" />
<text x="953.1" y="1906.9" font-size="28" text-anchor="middle" fill="#000" >0</text>
<text x="1002.8" y="1906.9" font-size="28" text-anchor="middle" fill="#000" >9</text>
<text x="1052.1" y="1906.9" font-size="28" text-anchor="middle" fill="#000" >16</text>
<text x="1101.8" y="1906.9" font-size="28" text-anchor="middle" fill="#000" >20</text>
<text x="1151.5" y="1906.9" font-size="28" text-anchor="middle" fill="#000" >24</text>
<text x="1200.8" y="1906.9" font-size="28" text-anchor="middle" fill="#000" >28</text>
<text x="1262.5" y="1905.5" font-size="28" text-anchor="middle" fill="#000" >(wk)</text>
<text x="1080.8" y="1624.1" font-size="28" text-anchor="middle" font-weight="bold" textLength="235.2" lengthAdjust="spacingAndGlyphs" fill="#000" >CCR4 expression</text>
<text x="1085.3" y="1656.6" font-size="28" text-anchor="middle" font-weight="bold" textLength="182" lengthAdjust="spacingAndGlyphs" fill="#000" >in eTreg cells</text>
<text x="857.9" y="1752.8" font-size="28" text-anchor="middle" transform="rotate(-90 857.9 1752.8)" fill="#000" >MFI</text>
<path d="M953.1 1702 L1002.8 1827.3 L1200.8 1834" fill="none" stroke="#e8302a" stroke-width="2.2" stroke-dasharray="0.01 3.6" stroke-linecap="round"/>
<circle cx="953.1" cy="1702" r="5.8" fill="#fff" stroke="#e8302a" stroke-width="2.2"/>
<circle cx="1002.8" cy="1827.3" r="5.8" fill="#fff" stroke="#e8302a" stroke-width="2.2"/>
<circle cx="1200.8" cy="1834" r="5.8" fill="#fff" stroke="#e8302a" stroke-width="2.2"/>
</svg></body></html>
